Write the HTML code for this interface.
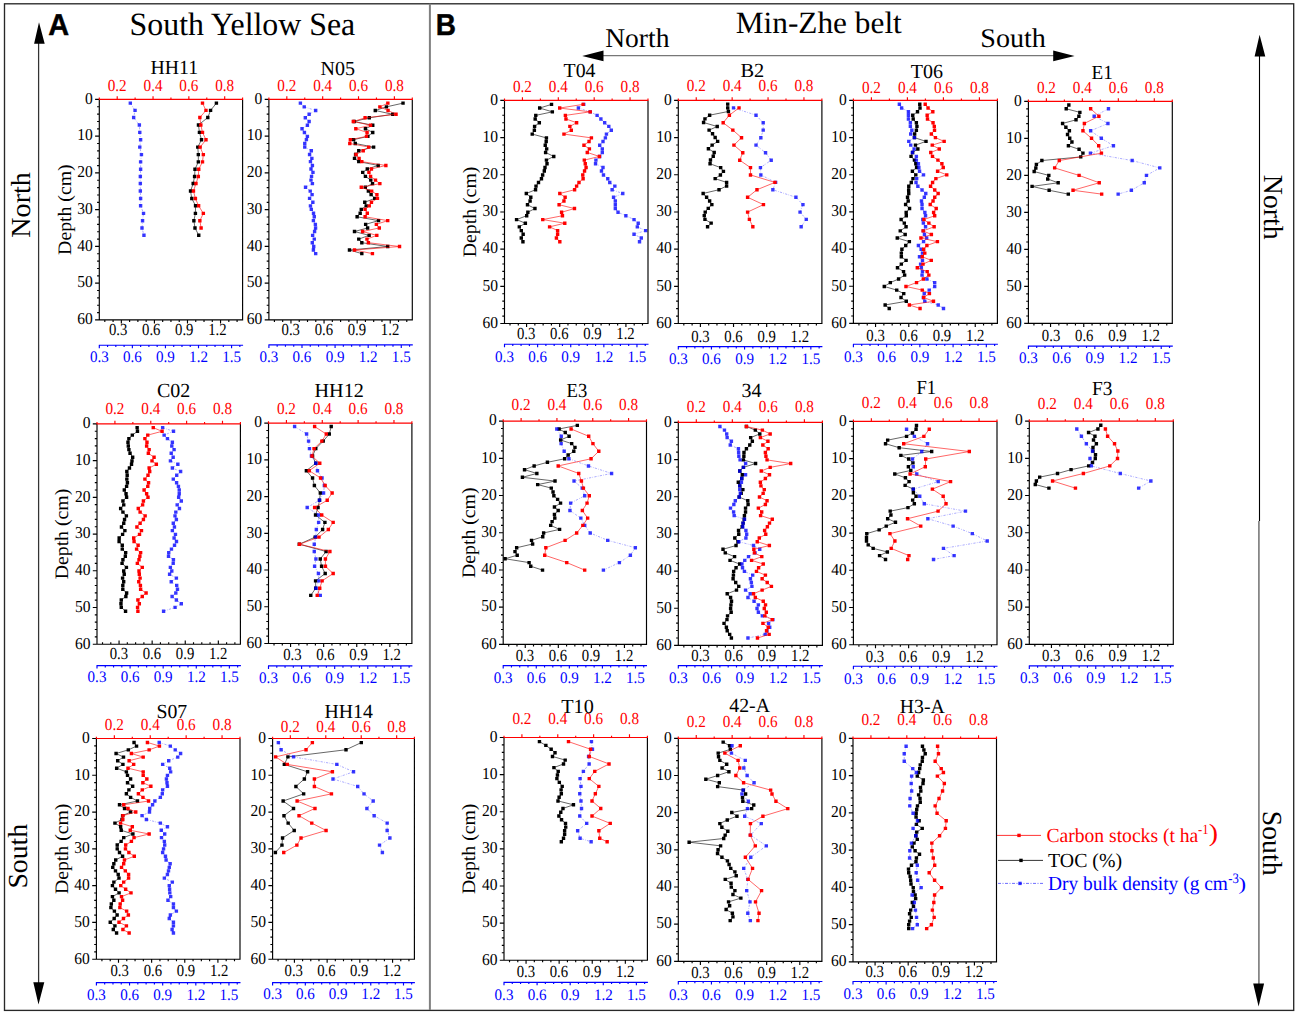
<!DOCTYPE html>
<html><head><meta charset="utf-8"><style>html,body{margin:0;padding:0;background:#fff;}svg{display:block;}</style></head><body>
<svg width="1299" height="1014" viewBox="0 0 1299 1014">
<style>
text{font-family:"Liberation Serif",serif;text-anchor:middle;fill:#000;text-rendering:geometricPrecision}
.n{font-size:16px}.e{text-anchor:end}.r{fill:#f00}.b{fill:#00f}
.s{text-anchor:start}
.L{font-family:"Liberation Sans",sans-serif;font-weight:bold;text-anchor:start}
.g{font-size:20px;text-anchor:start}
</style>
<rect x="0" y="0" width="1299" height="1014" fill="#fff"/>
<rect x="4.5" y="3.8" width="1289.2" height="1006.6" fill="none" stroke="#282828" stroke-width="1.35"/>
<path d="M429.9 3.8V1010.1" stroke="#808080" stroke-width="2"/>
<path d="M216.41 103.17 L210.57 110.4 L207.79 117.5 L198.47 125.01 L199.44 132.38 L201.53 139.75 L197.77 147.12 L198.33 154.63 L198.33 161.87 L194.99 169.24 L194.58 176.47 L193.18 183.56 L190.54 191.07 L191.79 198.44 L195.55 205.82 L195.41 213.33 L193.88 220.7 L194.99 227.93 L198.75 235.3" fill="none" stroke="#000" stroke-width="0.6"/>
<path fill="#000" d="M214.71 101.47h3.4v3.4h-3.4zM208.87 108.7h3.4v3.4h-3.4zM206.09 115.8h3.4v3.4h-3.4zM196.77 123.31h3.4v3.4h-3.4zM197.74 130.68h3.4v3.4h-3.4zM199.83 138.05h3.4v3.4h-3.4zM196.07 145.42h3.4v3.4h-3.4zM196.63 152.93h3.4v3.4h-3.4zM196.63 160.17h3.4v3.4h-3.4zM193.29 167.54h3.4v3.4h-3.4zM192.88 174.77h3.4v3.4h-3.4zM191.48 181.86h3.4v3.4h-3.4zM188.84 189.37h3.4v3.4h-3.4zM190.09 196.74h3.4v3.4h-3.4zM193.85 204.12h3.4v3.4h-3.4zM193.71 211.63h3.4v3.4h-3.4zM192.18 219h3.4v3.4h-3.4zM193.29 226.23h3.4v3.4h-3.4zM197.05 233.6h3.4v3.4h-3.4z"/>
<path d="M130.32 103.17 L135.05 110.4 L133.66 117.5 L139.36 125.01 L139.78 132.38 L140.61 139.75 L139.78 147.12 L141.45 154.63 L140.61 161.87 L140.61 169.24 L140.33 176.47 L140.33 183.56 L140.33 191.07 L140.61 198.44 L140.61 205.82 L143.53 213.33 L142.56 220.7 L142 227.93 L143.95 235.3" fill="none" stroke="#00f" stroke-width="0.6" stroke-dasharray="2.2,1.3,0.7,1.3" stroke-opacity="0.55"/>
<path fill="#00f" fill-opacity="0.78" d="M128.62 101.47h3.4v3.4h-3.4zM133.35 108.7h3.4v3.4h-3.4zM131.96 115.8h3.4v3.4h-3.4zM137.66 123.31h3.4v3.4h-3.4zM138.08 130.68h3.4v3.4h-3.4zM138.91 138.05h3.4v3.4h-3.4zM138.08 145.42h3.4v3.4h-3.4zM139.75 152.93h3.4v3.4h-3.4zM138.91 160.17h3.4v3.4h-3.4zM138.91 167.54h3.4v3.4h-3.4zM138.63 174.77h3.4v3.4h-3.4zM138.63 181.86h3.4v3.4h-3.4zM138.63 189.37h3.4v3.4h-3.4zM138.91 196.74h3.4v3.4h-3.4zM138.91 204.12h3.4v3.4h-3.4zM141.83 211.63h3.4v3.4h-3.4zM140.86 219h3.4v3.4h-3.4zM140.3 226.23h3.4v3.4h-3.4zM142.25 233.6h3.4v3.4h-3.4z"/>
<path d="M202.5 103.17 L205.98 110.4 L199.86 117.5 L200.83 125.01 L202.5 132.38 L205.98 139.75 L200.14 147.12 L203.34 154.63 L202.5 161.87 L198.75 169.24 L198.33 176.47 L195.97 183.56 L193.46 191.07 L195.41 198.44 L198.61 205.82 L203.34 213.33 L199.86 220.7 L201.11 227.93" fill="none" stroke="#f00" stroke-width="0.6"/>
<path fill="#f00" d="M200.8 101.47h3.4v3.4h-3.4zM204.28 108.7h3.4v3.4h-3.4zM198.16 115.8h3.4v3.4h-3.4zM199.13 123.31h3.4v3.4h-3.4zM200.8 130.68h3.4v3.4h-3.4zM204.28 138.05h3.4v3.4h-3.4zM198.44 145.42h3.4v3.4h-3.4zM201.64 152.93h3.4v3.4h-3.4zM200.8 160.17h3.4v3.4h-3.4zM197.05 167.54h3.4v3.4h-3.4zM196.63 174.77h3.4v3.4h-3.4zM194.27 181.86h3.4v3.4h-3.4zM191.76 189.37h3.4v3.4h-3.4zM193.71 196.74h3.4v3.4h-3.4zM196.91 204.12h3.4v3.4h-3.4zM201.64 211.63h3.4v3.4h-3.4zM198.16 219h3.4v3.4h-3.4zM199.41 226.23h3.4v3.4h-3.4z"/>
<path d="M99.3 99.4V319.9M242.6 99.4V319.9M98.7 319.9H243.2M95.1 99.4h4.2M97.1 106.75h2.2M97.1 114.1h2.2M97.1 121.45h2.2M97.1 128.8h2.2M95.1 136.15h4.2M97.1 143.5h2.2M97.1 150.85h2.2M97.1 158.2h2.2M97.1 165.55h2.2M95.1 172.9h4.2M97.1 180.25h2.2M97.1 187.6h2.2M97.1 194.95h2.2M97.1 202.3h2.2M95.1 209.65h4.2M97.1 217h2.2M97.1 224.35h2.2M97.1 231.7h2.2M97.1 239.05h2.2M95.1 246.4h4.2M97.1 253.75h2.2M97.1 261.1h2.2M97.1 268.45h2.2M97.1 275.8h2.2M95.1 283.15h4.2M97.1 290.5h2.2M97.1 297.85h2.2M97.1 305.2h2.2M97.1 312.55h2.2M95.1 319.9h4.2M104.81 319.9v2M113.08 319.9v2M121.35 319.9v3.6M129.61 319.9v2M137.88 319.9v2M146.15 319.9v2M154.42 319.9v3.6M162.68 319.9v2M170.95 319.9v2M179.22 319.9v2M187.48 319.9v3.6M195.75 319.9v2M204.02 319.9v2M212.29 319.9v2M220.55 319.9v3.6M228.82 319.9v2M237.09 319.9v2" fill="none" stroke="#000" stroke-width="1.15"/>
<path d="M98.8 99.4H243.1M99.3 99.4v-1.8M117.21 99.4v-3.2M135.12 99.4v-1.8M153.04 99.4v-3.2M170.95 99.4v-1.8M188.86 99.4v-3.2M206.77 99.4v-1.8M224.69 99.4v-3.2M242.6 99.4v-1.8" fill="none" stroke="#f00" stroke-width="1.15"/>
<path d="M98.8 345.2H243.1M99.3 345.2v3.0M107.57 345.2v1.8M115.83 345.2v1.8M124.1 345.2v1.8M132.37 345.2v3.0M140.64 345.2v1.8M148.9 345.2v1.8M157.17 345.2v1.8M165.44 345.2v3.0M173.71 345.2v1.8M181.97 345.2v1.8M190.24 345.2v1.8M198.51 345.2v3.0M206.77 345.2v1.8M215.04 345.2v1.8M223.31 345.2v1.8M231.58 345.2v3.0M239.84 345.2v1.8" fill="none" stroke="#00f" stroke-width="1.15"/>
<text transform="translate(92.75 103.7) scale(0.97 1.04)" class="n e">0</text>
<text transform="translate(92.75 140.45) scale(0.97 1.04)" class="n e">10</text>
<text transform="translate(92.75 177.2) scale(0.97 1.04)" class="n e">20</text>
<text transform="translate(92.75 213.95) scale(0.97 1.04)" class="n e">30</text>
<text transform="translate(92.75 250.7) scale(0.97 1.04)" class="n e">40</text>
<text transform="translate(92.75 287.45) scale(0.97 1.04)" class="n e">50</text>
<text transform="translate(92.75 324.2) scale(0.97 1.04)" class="n e">60</text>
<text transform="translate(117.21 90.6) scale(0.95 1.05)" class="n r">0.2</text>
<text transform="translate(153.04 90.6) scale(0.95 1.05)" class="n r">0.4</text>
<text transform="translate(188.86 90.6) scale(0.95 1.05)" class="n r">0.6</text>
<text transform="translate(224.69 90.6) scale(0.95 1.05)" class="n r">0.8</text>
<text transform="translate(118.15 335.4) scale(0.92 1.06)" class="n">0.3</text>
<text transform="translate(151.22 335.4) scale(0.92 1.06)" class="n">0.6</text>
<text transform="translate(184.28 335.4) scale(0.92 1.06)" class="n">0.9</text>
<text transform="translate(217.35 335.4) scale(0.92 1.06)" class="n">1.2</text>
<text transform="translate(99.3 362.45) scale(0.94 1)" class="n b">0.3</text>
<text transform="translate(132.37 362.45) scale(0.94 1)" class="n b">0.6</text>
<text transform="translate(165.44 362.45) scale(0.94 1)" class="n b">0.9</text>
<text transform="translate(198.51 362.45) scale(0.94 1)" class="n b">1.2</text>
<text transform="translate(231.58 362.45) scale(0.94 1)" class="n b">1.5</text>
<text transform="translate(150.4 74.2) scale(0.99 1)" class="s" font-size="20">HH11</text>
<text transform="translate(70.6 254.89) rotate(-90) scale(1.04 1)" class="s" font-size="19">Depth (cm)</text>
<path d="M403.03 103.15 L386.42 106.87 L375.27 110.48 L392.76 114.3 L369.26 117.8 L354.17 121.52 L372.75 125.24 L365.43 128.73 L372.75 132.45 L367.84 136.39 L353.62 139.66 L355.26 143.49 L373.63 147.1 L358.76 150.71 L355.59 154.53 L354.5 158.36 L358.76 161.64 L378.22 165.46 L367.29 168.96 L362.7 172.4 L365.43 176.34 L370.79 180.17 L372.54 183.66 L365.32 187.27 L368.38 191.1 L371.11 194.6 L374.72 198.42 L364.77 202.25 L366.2 205.85 L361.28 209.35 L360.18 213.18 L357.12 216.79 L378.55 220.61 L365.65 224.33 L367.62 227.94 L354.5 231.54 L369.15 235.37 L358.76 239.09 L361.82 242.69 L387.73 246.52 L349.47 250.02 L361.82 253.62" fill="none" stroke="#000" stroke-width="0.6"/>
<path fill="#000" d="M401.33 101.45h3.4v3.4h-3.4zM384.72 105.17h3.4v3.4h-3.4zM373.57 108.78h3.4v3.4h-3.4zM391.06 112.6h3.4v3.4h-3.4zM367.56 116.1h3.4v3.4h-3.4zM352.47 119.82h3.4v3.4h-3.4zM371.05 123.54h3.4v3.4h-3.4zM363.73 127.03h3.4v3.4h-3.4zM371.05 130.75h3.4v3.4h-3.4zM366.14 134.69h3.4v3.4h-3.4zM351.92 137.96h3.4v3.4h-3.4zM353.56 141.79h3.4v3.4h-3.4zM371.93 145.4h3.4v3.4h-3.4zM357.06 149.01h3.4v3.4h-3.4zM353.89 152.83h3.4v3.4h-3.4zM352.8 156.66h3.4v3.4h-3.4zM357.06 159.94h3.4v3.4h-3.4zM376.52 163.76h3.4v3.4h-3.4zM365.59 167.26h3.4v3.4h-3.4zM361 170.7h3.4v3.4h-3.4zM363.73 174.64h3.4v3.4h-3.4zM369.09 178.47h3.4v3.4h-3.4zM370.84 181.96h3.4v3.4h-3.4zM363.62 185.57h3.4v3.4h-3.4zM366.68 189.4h3.4v3.4h-3.4zM369.41 192.9h3.4v3.4h-3.4zM373.02 196.72h3.4v3.4h-3.4zM363.07 200.55h3.4v3.4h-3.4zM364.5 204.15h3.4v3.4h-3.4zM359.58 207.65h3.4v3.4h-3.4zM358.48 211.48h3.4v3.4h-3.4zM355.42 215.09h3.4v3.4h-3.4zM376.85 218.91h3.4v3.4h-3.4zM363.95 222.63h3.4v3.4h-3.4zM365.92 226.24h3.4v3.4h-3.4zM352.8 229.84h3.4v3.4h-3.4zM367.45 233.67h3.4v3.4h-3.4zM357.06 237.39h3.4v3.4h-3.4zM360.12 240.99h3.4v3.4h-3.4zM386.03 244.82h3.4v3.4h-3.4zM347.77 248.32h3.4v3.4h-3.4zM360.12 251.92h3.4v3.4h-3.4z"/>
<path d="M300.39 103.15 L304.22 106.87 L315.69 110.48 L309.13 114.3 L305.31 117.8 L309.13 121.52 L307.39 125.24 L302.03 128.73 L304.43 132.45 L307.39 136.39 L306.4 139.66 L304.76 143.49 L304.76 147.1 L311.32 150.71 L309.57 154.53 L311.87 158.36 L310.45 161.64 L312.41 165.46 L310.99 168.96 L312.96 172.4 L311.54 176.34 L310.99 180.17 L312.41 183.66 L305.53 187.27 L310.23 191.1 L312.09 194.6 L309.57 198.42 L312.85 202.25 L310.45 205.85 L311.32 209.35 L313.51 213.18 L314.27 216.79 L313.4 220.61 L315.37 224.33 L315.58 227.94 L314.6 231.54 L312.63 235.37 L314.27 239.09 L312.3 242.69 L313.73 246.52 L313.4 250.02 L315.69 253.62" fill="none" stroke="#00f" stroke-width="0.6" stroke-dasharray="2.2,1.3,0.7,1.3" stroke-opacity="0.55"/>
<path fill="#00f" fill-opacity="0.78" d="M298.69 101.45h3.4v3.4h-3.4zM302.52 105.17h3.4v3.4h-3.4zM313.99 108.78h3.4v3.4h-3.4zM307.43 112.6h3.4v3.4h-3.4zM303.61 116.1h3.4v3.4h-3.4zM307.43 119.82h3.4v3.4h-3.4zM305.69 123.54h3.4v3.4h-3.4zM300.33 127.03h3.4v3.4h-3.4zM302.73 130.75h3.4v3.4h-3.4zM305.69 134.69h3.4v3.4h-3.4zM304.7 137.96h3.4v3.4h-3.4zM303.06 141.79h3.4v3.4h-3.4zM303.06 145.4h3.4v3.4h-3.4zM309.62 149.01h3.4v3.4h-3.4zM307.87 152.83h3.4v3.4h-3.4zM310.17 156.66h3.4v3.4h-3.4zM308.75 159.94h3.4v3.4h-3.4zM310.71 163.76h3.4v3.4h-3.4zM309.29 167.26h3.4v3.4h-3.4zM311.26 170.7h3.4v3.4h-3.4zM309.84 174.64h3.4v3.4h-3.4zM309.29 178.47h3.4v3.4h-3.4zM310.71 181.96h3.4v3.4h-3.4zM303.83 185.57h3.4v3.4h-3.4zM308.53 189.4h3.4v3.4h-3.4zM310.39 192.9h3.4v3.4h-3.4zM307.87 196.72h3.4v3.4h-3.4zM311.15 200.55h3.4v3.4h-3.4zM308.75 204.15h3.4v3.4h-3.4zM309.62 207.65h3.4v3.4h-3.4zM311.81 211.48h3.4v3.4h-3.4zM312.57 215.09h3.4v3.4h-3.4zM311.7 218.91h3.4v3.4h-3.4zM313.67 222.63h3.4v3.4h-3.4zM313.88 226.24h3.4v3.4h-3.4zM312.9 229.84h3.4v3.4h-3.4zM310.93 233.67h3.4v3.4h-3.4zM312.57 237.39h3.4v3.4h-3.4zM310.6 240.99h3.4v3.4h-3.4zM312.03 244.82h3.4v3.4h-3.4zM311.7 248.32h3.4v3.4h-3.4zM313.99 251.92h3.4v3.4h-3.4z"/>
<path d="M387.84 103.15 L379.86 106.87 L388.06 110.48 L396.04 114.3 L365.1 117.8 L353.3 121.52 L370.57 125.24 L355.81 128.73 L367.07 132.45 L366.52 136.39 L350.35 139.66 L349.8 143.49 L368.71 147.1 L363.24 150.71 L356.03 154.53 L359.09 158.36 L361.82 161.64 L385.87 165.46 L371.44 168.96 L368.93 172.4 L370.57 176.34 L375.49 180.17 L379.86 183.66 L361.28 187.27 L371.66 191.1 L376.91 194.6 L377.46 198.42 L371.44 202.25 L369.26 205.85 L365.1 209.35 L367.29 213.18 L365.1 216.79 L387.73 220.61 L376.36 224.33 L379.31 227.94 L362.59 231.54 L376.8 235.37 L366.96 239.09 L368.38 242.69 L399.54 246.52 L354.5 250.02 L372.43 253.62" fill="none" stroke="#f00" stroke-width="0.6"/>
<path fill="#f00" d="M386.14 101.45h3.4v3.4h-3.4zM378.16 105.17h3.4v3.4h-3.4zM386.36 108.78h3.4v3.4h-3.4zM394.34 112.6h3.4v3.4h-3.4zM363.4 116.1h3.4v3.4h-3.4zM351.6 119.82h3.4v3.4h-3.4zM368.87 123.54h3.4v3.4h-3.4zM354.11 127.03h3.4v3.4h-3.4zM365.37 130.75h3.4v3.4h-3.4zM364.82 134.69h3.4v3.4h-3.4zM348.65 137.96h3.4v3.4h-3.4zM348.1 141.79h3.4v3.4h-3.4zM367.01 145.4h3.4v3.4h-3.4zM361.54 149.01h3.4v3.4h-3.4zM354.33 152.83h3.4v3.4h-3.4zM357.39 156.66h3.4v3.4h-3.4zM360.12 159.94h3.4v3.4h-3.4zM384.17 163.76h3.4v3.4h-3.4zM369.74 167.26h3.4v3.4h-3.4zM367.23 170.7h3.4v3.4h-3.4zM368.87 174.64h3.4v3.4h-3.4zM373.79 178.47h3.4v3.4h-3.4zM378.16 181.96h3.4v3.4h-3.4zM359.58 185.57h3.4v3.4h-3.4zM369.96 189.4h3.4v3.4h-3.4zM375.21 192.9h3.4v3.4h-3.4zM375.76 196.72h3.4v3.4h-3.4zM369.74 200.55h3.4v3.4h-3.4zM367.56 204.15h3.4v3.4h-3.4zM363.4 207.65h3.4v3.4h-3.4zM365.59 211.48h3.4v3.4h-3.4zM363.4 215.09h3.4v3.4h-3.4zM386.03 218.91h3.4v3.4h-3.4zM374.66 222.63h3.4v3.4h-3.4zM377.61 226.24h3.4v3.4h-3.4zM360.89 229.84h3.4v3.4h-3.4zM375.1 233.67h3.4v3.4h-3.4zM365.26 237.39h3.4v3.4h-3.4zM366.68 240.99h3.4v3.4h-3.4zM397.84 244.82h3.4v3.4h-3.4zM352.8 248.32h3.4v3.4h-3.4zM370.73 251.92h3.4v3.4h-3.4z"/>
<path d="M268.9 99.4V319.9M412.3 99.4V319.9M268.3 319.9H412.9M264.7 99.4h4.2M266.7 106.75h2.2M266.7 114.1h2.2M266.7 121.45h2.2M266.7 128.8h2.2M264.7 136.15h4.2M266.7 143.5h2.2M266.7 150.85h2.2M266.7 158.2h2.2M266.7 165.55h2.2M264.7 172.9h4.2M266.7 180.25h2.2M266.7 187.6h2.2M266.7 194.95h2.2M266.7 202.3h2.2M264.7 209.65h4.2M266.7 217h2.2M266.7 224.35h2.2M266.7 231.7h2.2M266.7 239.05h2.2M264.7 246.4h4.2M266.7 253.75h2.2M266.7 261.1h2.2M266.7 268.45h2.2M266.7 275.8h2.2M264.7 283.15h4.2M266.7 290.5h2.2M266.7 297.85h2.2M266.7 305.2h2.2M266.7 312.55h2.2M264.7 319.9h4.2M274.42 319.9v2M282.69 319.9v2M290.96 319.9v3.6M299.23 319.9v2M307.51 319.9v2M315.78 319.9v2M324.05 319.9v3.6M332.33 319.9v2M340.6 319.9v2M348.87 319.9v2M357.15 319.9v3.6M365.42 319.9v2M373.69 319.9v2M381.97 319.9v2M390.24 319.9v3.6M398.51 319.9v2M406.78 319.9v2" fill="none" stroke="#000" stroke-width="1.15"/>
<path d="M268.4 99.4H412.8M268.9 99.4v-1.8M286.82 99.4v-3.2M304.75 99.4v-1.8M322.68 99.4v-3.2M340.6 99.4v-1.8M358.52 99.4v-3.2M376.45 99.4v-1.8M394.38 99.4v-3.2M412.3 99.4v-1.8" fill="none" stroke="#f00" stroke-width="1.15"/>
<path d="M268.4 344.9H412.8M268.9 344.9v3.0M277.17 344.9v1.8M285.45 344.9v1.8M293.72 344.9v1.8M301.99 344.9v3.0M310.27 344.9v1.8M318.54 344.9v1.8M326.81 344.9v1.8M335.08 344.9v3.0M343.36 344.9v1.8M351.63 344.9v1.8M359.9 344.9v1.8M368.18 344.9v3.0M376.45 344.9v1.8M384.72 344.9v1.8M393 344.9v1.8M401.27 344.9v3.0M409.54 344.9v1.8" fill="none" stroke="#00f" stroke-width="1.15"/>
<text transform="translate(262.35 103.7) scale(0.97 1.04)" class="n e">0</text>
<text transform="translate(262.35 140.45) scale(0.97 1.04)" class="n e">10</text>
<text transform="translate(262.35 177.2) scale(0.97 1.04)" class="n e">20</text>
<text transform="translate(262.35 213.95) scale(0.97 1.04)" class="n e">30</text>
<text transform="translate(262.35 250.7) scale(0.97 1.04)" class="n e">40</text>
<text transform="translate(262.35 287.45) scale(0.97 1.04)" class="n e">50</text>
<text transform="translate(262.35 324.2) scale(0.97 1.04)" class="n e">60</text>
<text transform="translate(286.82 91.4) scale(0.95 1.05)" class="n r">0.2</text>
<text transform="translate(322.68 91.4) scale(0.95 1.05)" class="n r">0.4</text>
<text transform="translate(358.52 91.4) scale(0.95 1.05)" class="n r">0.6</text>
<text transform="translate(394.38 91.4) scale(0.95 1.05)" class="n r">0.8</text>
<text transform="translate(290.76 335) scale(0.92 1.06)" class="n">0.3</text>
<text transform="translate(323.85 335) scale(0.92 1.06)" class="n">0.6</text>
<text transform="translate(356.95 335) scale(0.92 1.06)" class="n">0.9</text>
<text transform="translate(390.04 335) scale(0.92 1.06)" class="n">1.2</text>
<text transform="translate(268.9 362.15) scale(0.94 1)" class="n b">0.3</text>
<text transform="translate(301.99 362.15) scale(0.94 1)" class="n b">0.6</text>
<text transform="translate(335.08 362.15) scale(0.94 1)" class="n b">0.9</text>
<text transform="translate(368.18 362.15) scale(0.94 1)" class="n b">1.2</text>
<text transform="translate(401.27 362.15) scale(0.94 1)" class="n b">1.5</text>
<text transform="translate(320.5 74.6) scale(1 1)" class="s" font-size="20">N05</text>
<path d="M137.13 427.66 L137.47 431.32 L132.32 435.1 L128.89 438.65 L127.98 442.31 L128.32 445.97 L128.89 449.63 L130.04 453.29 L132.67 457.18 L131.98 460.84 L131.52 464.27 L129.46 468.05 L126.83 471.48 L127.18 475.26 L126.83 479.15 L127.41 482.81 L126.6 486.36 L124.32 490.02 L126.03 493.68 L126.6 497.23 L122.94 501 L123.74 504.89 L120.65 508.44 L122.94 512.1 L126.38 515.88 L124.54 519.54 L123.74 523.31 L121.46 526.97 L124.89 530.64 L122.6 534.41 L119.17 538.07 L119.1 541.48 L122.27 545.3 L122.27 549.13 L125.66 552.63 L125.33 556.24 L122.92 559.73 L122.05 563.34 L126.42 567.39 L123.69 570.99 L124.24 574.27 L122.6 578.1 L123.69 581.71 L122.81 585.42 L122.81 589.25 L126.64 593.07 L125.87 596.46 L121.28 599.96 L120.96 603.79 L121.28 607.39 L125.55 611.22" fill="none" stroke="#000" stroke-width="0.6"/>
<path fill="#000" d="M135.43 425.96h3.4v3.4h-3.4zM135.77 429.62h3.4v3.4h-3.4zM130.62 433.4h3.4v3.4h-3.4zM127.19 436.95h3.4v3.4h-3.4zM126.28 440.61h3.4v3.4h-3.4zM126.62 444.27h3.4v3.4h-3.4zM127.19 447.93h3.4v3.4h-3.4zM128.34 451.59h3.4v3.4h-3.4zM130.97 455.48h3.4v3.4h-3.4zM130.28 459.14h3.4v3.4h-3.4zM129.82 462.57h3.4v3.4h-3.4zM127.76 466.35h3.4v3.4h-3.4zM125.13 469.78h3.4v3.4h-3.4zM125.48 473.56h3.4v3.4h-3.4zM125.13 477.45h3.4v3.4h-3.4zM125.71 481.11h3.4v3.4h-3.4zM124.9 484.66h3.4v3.4h-3.4zM122.62 488.32h3.4v3.4h-3.4zM124.33 491.98h3.4v3.4h-3.4zM124.9 495.53h3.4v3.4h-3.4zM121.24 499.3h3.4v3.4h-3.4zM122.04 503.19h3.4v3.4h-3.4zM118.95 506.74h3.4v3.4h-3.4zM121.24 510.4h3.4v3.4h-3.4zM124.68 514.18h3.4v3.4h-3.4zM122.84 517.84h3.4v3.4h-3.4zM122.04 521.61h3.4v3.4h-3.4zM119.76 525.27h3.4v3.4h-3.4zM123.19 528.94h3.4v3.4h-3.4zM120.9 532.71h3.4v3.4h-3.4zM117.47 536.37h3.4v3.4h-3.4zM117.4 539.78h3.4v3.4h-3.4zM120.57 543.6h3.4v3.4h-3.4zM120.57 547.43h3.4v3.4h-3.4zM123.96 550.93h3.4v3.4h-3.4zM123.63 554.54h3.4v3.4h-3.4zM121.22 558.03h3.4v3.4h-3.4zM120.35 561.64h3.4v3.4h-3.4zM124.72 565.69h3.4v3.4h-3.4zM121.99 569.29h3.4v3.4h-3.4zM122.54 572.57h3.4v3.4h-3.4zM120.9 576.4h3.4v3.4h-3.4zM121.99 580.01h3.4v3.4h-3.4zM121.11 583.72h3.4v3.4h-3.4zM121.11 587.55h3.4v3.4h-3.4zM124.94 591.37h3.4v3.4h-3.4zM124.17 594.76h3.4v3.4h-3.4zM119.58 598.26h3.4v3.4h-3.4zM119.26 602.09h3.4v3.4h-3.4zM119.58 605.69h3.4v3.4h-3.4zM123.85 609.52h3.4v3.4h-3.4z"/>
<path d="M162.65 427.66 L173.51 431.32 L164.13 435.1 L167.45 438.65 L172.37 442.31 L171.8 445.97 L174.09 449.63 L171.23 453.29 L173.17 457.18 L170.43 460.84 L177.86 464.27 L172.37 468.05 L180.61 471.48 L176.72 475.26 L173.29 479.15 L176.6 482.81 L178.43 486.36 L179.24 490.02 L179.24 493.68 L178.66 497.23 L181.3 501 L177.18 504.89 L179.46 508.44 L175.8 512.1 L175 515.88 L176.38 519.54 L173.29 523.31 L174.43 526.97 L172.37 530.64 L175.46 534.41 L174.09 538.07 L176.49 541.48 L174.52 545.3 L171.46 549.13 L168.73 552.63 L168.51 556.24 L173.43 559.73 L173.21 563.34 L170.37 567.39 L171.79 570.99 L169.6 574.27 L176.38 578.1 L171.24 581.71 L176.71 585.42 L177.47 589.25 L175.83 593.07 L172.11 596.46 L176.38 599.96 L181.3 603.79 L175.07 607.39 L163.59 611.22" fill="none" stroke="#00f" stroke-width="0.6" stroke-dasharray="2.2,1.3,0.7,1.3" stroke-opacity="0.55"/>
<path fill="#00f" fill-opacity="0.78" d="M160.95 425.96h3.4v3.4h-3.4zM171.81 429.62h3.4v3.4h-3.4zM162.43 433.4h3.4v3.4h-3.4zM165.75 436.95h3.4v3.4h-3.4zM170.67 440.61h3.4v3.4h-3.4zM170.1 444.27h3.4v3.4h-3.4zM172.39 447.93h3.4v3.4h-3.4zM169.53 451.59h3.4v3.4h-3.4zM171.47 455.48h3.4v3.4h-3.4zM168.73 459.14h3.4v3.4h-3.4zM176.16 462.57h3.4v3.4h-3.4zM170.67 466.35h3.4v3.4h-3.4zM178.91 469.78h3.4v3.4h-3.4zM175.02 473.56h3.4v3.4h-3.4zM171.59 477.45h3.4v3.4h-3.4zM174.9 481.11h3.4v3.4h-3.4zM176.73 484.66h3.4v3.4h-3.4zM177.54 488.32h3.4v3.4h-3.4zM177.54 491.98h3.4v3.4h-3.4zM176.96 495.53h3.4v3.4h-3.4zM179.6 499.3h3.4v3.4h-3.4zM175.48 503.19h3.4v3.4h-3.4zM177.76 506.74h3.4v3.4h-3.4zM174.1 510.4h3.4v3.4h-3.4zM173.3 514.18h3.4v3.4h-3.4zM174.68 517.84h3.4v3.4h-3.4zM171.59 521.61h3.4v3.4h-3.4zM172.73 525.27h3.4v3.4h-3.4zM170.67 528.94h3.4v3.4h-3.4zM173.76 532.71h3.4v3.4h-3.4zM172.39 536.37h3.4v3.4h-3.4zM174.79 539.78h3.4v3.4h-3.4zM172.82 543.6h3.4v3.4h-3.4zM169.76 547.43h3.4v3.4h-3.4zM167.03 550.93h3.4v3.4h-3.4zM166.81 554.54h3.4v3.4h-3.4zM171.73 558.03h3.4v3.4h-3.4zM171.51 561.64h3.4v3.4h-3.4zM168.67 565.69h3.4v3.4h-3.4zM170.09 569.29h3.4v3.4h-3.4zM167.9 572.57h3.4v3.4h-3.4zM174.68 576.4h3.4v3.4h-3.4zM169.54 580.01h3.4v3.4h-3.4zM175.01 583.72h3.4v3.4h-3.4zM175.77 587.55h3.4v3.4h-3.4zM174.13 591.37h3.4v3.4h-3.4zM170.41 594.76h3.4v3.4h-3.4zM174.68 598.26h3.4v3.4h-3.4zM179.6 602.09h3.4v3.4h-3.4zM173.37 605.69h3.4v3.4h-3.4zM161.89 609.52h3.4v3.4h-3.4z"/>
<path d="M153.26 427.66 L162.07 431.32 L147.77 435.1 L144.91 438.65 L146.97 442.31 L146.63 445.97 L149.14 449.63 L148.34 453.29 L154.06 457.18 L152 460.84 L156.35 464.27 L149.14 468.05 L149.72 471.48 L148 475.26 L144.91 479.15 L148.57 482.81 L147.77 486.36 L144.11 490.02 L146.63 493.68 L148 497.23 L143.42 501 L142.62 504.89 L138.27 508.44 L140.11 512.1 L145.14 515.88 L143.42 519.54 L140.11 523.31 L136.9 526.97 L141.48 530.64 L139.53 534.41 L133.7 538.07 L134.07 541.48 L138.12 545.3 L136.59 549.13 L140.63 552.63 L139.87 556.24 L138.99 559.73 L137.35 563.34 L142.27 567.39 L138.99 570.99 L139.32 574.27 L140.09 578.1 L138.77 581.71 L140.41 585.42 L140.63 589.25 L146.1 593.07 L142.27 596.46 L137.9 599.96 L139.32 603.79 L137.57 607.39 L137.9 611.22" fill="none" stroke="#f00" stroke-width="0.6"/>
<path fill="#f00" d="M151.56 425.96h3.4v3.4h-3.4zM160.37 429.62h3.4v3.4h-3.4zM146.07 433.4h3.4v3.4h-3.4zM143.21 436.95h3.4v3.4h-3.4zM145.27 440.61h3.4v3.4h-3.4zM144.93 444.27h3.4v3.4h-3.4zM147.44 447.93h3.4v3.4h-3.4zM146.64 451.59h3.4v3.4h-3.4zM152.36 455.48h3.4v3.4h-3.4zM150.3 459.14h3.4v3.4h-3.4zM154.65 462.57h3.4v3.4h-3.4zM147.44 466.35h3.4v3.4h-3.4zM148.02 469.78h3.4v3.4h-3.4zM146.3 473.56h3.4v3.4h-3.4zM143.21 477.45h3.4v3.4h-3.4zM146.87 481.11h3.4v3.4h-3.4zM146.07 484.66h3.4v3.4h-3.4zM142.41 488.32h3.4v3.4h-3.4zM144.93 491.98h3.4v3.4h-3.4zM146.3 495.53h3.4v3.4h-3.4zM141.72 499.3h3.4v3.4h-3.4zM140.92 503.19h3.4v3.4h-3.4zM136.57 506.74h3.4v3.4h-3.4zM138.41 510.4h3.4v3.4h-3.4zM143.44 514.18h3.4v3.4h-3.4zM141.72 517.84h3.4v3.4h-3.4zM138.41 521.61h3.4v3.4h-3.4zM135.2 525.27h3.4v3.4h-3.4zM139.78 528.94h3.4v3.4h-3.4zM137.83 532.71h3.4v3.4h-3.4zM132 536.37h3.4v3.4h-3.4zM132.37 539.78h3.4v3.4h-3.4zM136.42 543.6h3.4v3.4h-3.4zM134.89 547.43h3.4v3.4h-3.4zM138.93 550.93h3.4v3.4h-3.4zM138.17 554.54h3.4v3.4h-3.4zM137.29 558.03h3.4v3.4h-3.4zM135.65 561.64h3.4v3.4h-3.4zM140.57 565.69h3.4v3.4h-3.4zM137.29 569.29h3.4v3.4h-3.4zM137.62 572.57h3.4v3.4h-3.4zM138.39 576.4h3.4v3.4h-3.4zM137.07 580.01h3.4v3.4h-3.4zM138.71 583.72h3.4v3.4h-3.4zM138.93 587.55h3.4v3.4h-3.4zM144.4 591.37h3.4v3.4h-3.4zM140.57 594.76h3.4v3.4h-3.4zM136.2 598.26h3.4v3.4h-3.4zM137.62 602.09h3.4v3.4h-3.4zM135.87 605.69h3.4v3.4h-3.4zM136.2 609.52h3.4v3.4h-3.4z"/>
<path d="M97 423.9V644.2M240.4 423.9V644.2M96.4 644.2H241M92.8 423.9h4.2M94.8 431.24h2.2M94.8 438.59h2.2M94.8 445.93h2.2M94.8 453.27h2.2M92.8 460.62h4.2M94.8 467.96h2.2M94.8 475.3h2.2M94.8 482.65h2.2M94.8 489.99h2.2M92.8 497.33h4.2M94.8 504.68h2.2M94.8 512.02h2.2M94.8 519.36h2.2M94.8 526.71h2.2M92.8 534.05h4.2M94.8 541.39h2.2M94.8 548.74h2.2M94.8 556.08h2.2M94.8 563.42h2.2M92.8 570.77h4.2M94.8 578.11h2.2M94.8 585.45h2.2M94.8 592.8h2.2M94.8 600.14h2.2M92.8 607.48h4.2M94.8 614.83h2.2M94.8 622.17h2.2M94.8 629.51h2.2M94.8 636.86h2.2M92.8 644.2h4.2M102.52 644.2v-2M110.79 644.2v-2M119.06 644.2v-3.6M127.33 644.2v-2M135.61 644.2v-2M143.88 644.2v-2M152.15 644.2v-3.6M160.43 644.2v-2M168.7 644.2v-2M176.97 644.2v-2M185.25 644.2v-3.6M193.52 644.2v-2M201.79 644.2v-2M210.07 644.2v-2M218.34 644.2v-3.6M226.61 644.2v-2M234.88 644.2v-2" fill="none" stroke="#000" stroke-width="1.15"/>
<path d="M96.5 423.9H240.9M97 423.9v-1.8M114.92 423.9v-3.2M132.85 423.9v-1.8M150.78 423.9v-3.2M168.7 423.9v-1.8M186.62 423.9v-3.2M204.55 423.9v-1.8M222.48 423.9v-3.2M240.4 423.9v-1.8" fill="none" stroke="#f00" stroke-width="1.15"/>
<path d="M96.5 665.6H240.9M97 665.6v3.0M105.27 665.6v1.8M113.55 665.6v1.8M121.82 665.6v1.8M130.09 665.6v3.0M138.37 665.6v1.8M146.64 665.6v1.8M154.91 665.6v1.8M163.18 665.6v3.0M171.46 665.6v1.8M179.73 665.6v1.8M188 665.6v1.8M196.28 665.6v3.0M204.55 665.6v1.8M212.82 665.6v1.8M221.1 665.6v1.8M229.37 665.6v3.0M237.64 665.6v1.8" fill="none" stroke="#00f" stroke-width="1.15"/>
<text transform="translate(90.45 428.2) scale(0.97 1.04)" class="n e">0</text>
<text transform="translate(90.45 464.92) scale(0.97 1.04)" class="n e">10</text>
<text transform="translate(90.45 501.63) scale(0.97 1.04)" class="n e">20</text>
<text transform="translate(90.45 538.35) scale(0.97 1.04)" class="n e">30</text>
<text transform="translate(90.45 575.07) scale(0.97 1.04)" class="n e">40</text>
<text transform="translate(90.45 611.78) scale(0.97 1.04)" class="n e">50</text>
<text transform="translate(90.45 648.5) scale(0.97 1.04)" class="n e">60</text>
<text transform="translate(114.92 413.6) scale(0.95 1.05)" class="n r">0.2</text>
<text transform="translate(150.78 413.6) scale(0.95 1.05)" class="n r">0.4</text>
<text transform="translate(186.62 413.6) scale(0.95 1.05)" class="n r">0.6</text>
<text transform="translate(222.48 413.6) scale(0.95 1.05)" class="n r">0.8</text>
<text transform="translate(118.86 659.3) scale(0.92 1.06)" class="n">0.3</text>
<text transform="translate(151.95 659.3) scale(0.92 1.06)" class="n">0.6</text>
<text transform="translate(185.05 659.3) scale(0.92 1.06)" class="n">0.9</text>
<text transform="translate(218.14 659.3) scale(0.92 1.06)" class="n">1.2</text>
<text transform="translate(97 682.25) scale(0.94 1)" class="n b">0.3</text>
<text transform="translate(130.09 682.25) scale(0.94 1)" class="n b">0.6</text>
<text transform="translate(163.18 682.25) scale(0.94 1)" class="n b">0.9</text>
<text transform="translate(196.28 682.25) scale(0.94 1)" class="n b">1.2</text>
<text transform="translate(229.37 682.25) scale(0.94 1)" class="n b">1.5</text>
<text transform="translate(156.9 396.7) scale(1 1)" class="s" font-size="20">C02</text>
<text transform="translate(68.3 579.29) rotate(-90) scale(1.04 1)" class="s" font-size="19">Depth (cm)</text>
<path d="M331.21 426.52 L329.27 434.07 L323.2 441.16 L315.77 448.6 L312.56 456.04 L315.77 463.24 L306.38 470.68 L312.56 478 L314.39 485.56 L320.34 492.99 L319.54 500.32 L318.05 507.52 L315.54 514.96 L324.92 522.4 L322.63 529.49 L315.15 537.11 L299.3 544.21 L326.08 551.53 L320.28 558.97 L321.6 566.29 L325.2 573.51 L315.58 580.83 L315.69 588.26 L310.77 595.37" fill="none" stroke="#000" stroke-width="0.6"/>
<path fill="#000" d="M329.51 424.82h3.4v3.4h-3.4zM327.57 432.37h3.4v3.4h-3.4zM321.5 439.46h3.4v3.4h-3.4zM314.07 446.9h3.4v3.4h-3.4zM310.86 454.34h3.4v3.4h-3.4zM314.07 461.54h3.4v3.4h-3.4zM304.68 468.98h3.4v3.4h-3.4zM310.86 476.3h3.4v3.4h-3.4zM312.69 483.86h3.4v3.4h-3.4zM318.64 491.29h3.4v3.4h-3.4zM317.84 498.62h3.4v3.4h-3.4zM316.35 505.82h3.4v3.4h-3.4zM313.84 513.26h3.4v3.4h-3.4zM323.22 520.7h3.4v3.4h-3.4zM320.93 527.79h3.4v3.4h-3.4zM313.45 535.41h3.4v3.4h-3.4zM297.6 542.51h3.4v3.4h-3.4zM324.38 549.83h3.4v3.4h-3.4zM318.58 557.27h3.4v3.4h-3.4zM319.9 564.59h3.4v3.4h-3.4zM323.5 571.81h3.4v3.4h-3.4zM313.88 579.13h3.4v3.4h-3.4zM313.99 586.56h3.4v3.4h-3.4zM309.07 593.67h3.4v3.4h-3.4z"/>
<path d="M294.6 426.52 L306.61 434.07 L308.56 441.16 L309.47 448.6 L311.42 456.04 L315.77 463.24 L317.48 470.68 L322.06 478 L324.35 485.56 L323.55 492.99 L319.43 500.32 L307.19 507.52 L318.63 514.96 L318.63 522.4 L316.34 529.49 L315.69 537.11 L314.27 544.21 L314.27 551.53 L315.91 558.97 L314.6 566.29 L318.43 573.51 L318.86 580.83 L315.91 588.26 L320.28 595.37" fill="none" stroke="#00f" stroke-width="0.6" stroke-dasharray="2.2,1.3,0.7,1.3" stroke-opacity="0.55"/>
<path fill="#00f" fill-opacity="0.78" d="M292.9 424.82h3.4v3.4h-3.4zM304.91 432.37h3.4v3.4h-3.4zM306.86 439.46h3.4v3.4h-3.4zM307.77 446.9h3.4v3.4h-3.4zM309.72 454.34h3.4v3.4h-3.4zM314.07 461.54h3.4v3.4h-3.4zM315.78 468.98h3.4v3.4h-3.4zM320.36 476.3h3.4v3.4h-3.4zM322.65 483.86h3.4v3.4h-3.4zM321.85 491.29h3.4v3.4h-3.4zM317.73 498.62h3.4v3.4h-3.4zM305.49 505.82h3.4v3.4h-3.4zM316.93 513.26h3.4v3.4h-3.4zM316.93 520.7h3.4v3.4h-3.4zM314.64 527.79h3.4v3.4h-3.4zM313.99 535.41h3.4v3.4h-3.4zM312.57 542.51h3.4v3.4h-3.4zM312.57 549.83h3.4v3.4h-3.4zM314.21 557.27h3.4v3.4h-3.4zM312.9 564.59h3.4v3.4h-3.4zM316.73 571.81h3.4v3.4h-3.4zM317.16 579.13h3.4v3.4h-3.4zM314.21 586.56h3.4v3.4h-3.4zM318.58 593.67h3.4v3.4h-3.4z"/>
<path d="M314.62 426.52 L326.29 434.07 L321.83 441.16 L314.05 448.6 L311.99 456.04 L319.77 463.24 L309.24 470.68 L320.57 478 L325.15 485.56 L332.13 492.99 L327.21 500.32 L314.62 507.52 L321.72 514.96 L333.16 522.4 L328.35 529.49 L318.97 537.11 L299.51 544.21 L329.9 551.53 L325.42 558.97 L325.42 566.29 L333.18 573.51 L322.14 580.83 L319.74 588.26 L317.22 595.37" fill="none" stroke="#f00" stroke-width="0.6"/>
<path fill="#f00" d="M312.92 424.82h3.4v3.4h-3.4zM324.59 432.37h3.4v3.4h-3.4zM320.13 439.46h3.4v3.4h-3.4zM312.35 446.9h3.4v3.4h-3.4zM310.29 454.34h3.4v3.4h-3.4zM318.07 461.54h3.4v3.4h-3.4zM307.54 468.98h3.4v3.4h-3.4zM318.87 476.3h3.4v3.4h-3.4zM323.45 483.86h3.4v3.4h-3.4zM330.43 491.29h3.4v3.4h-3.4zM325.51 498.62h3.4v3.4h-3.4zM312.92 505.82h3.4v3.4h-3.4zM320.02 513.26h3.4v3.4h-3.4zM331.46 520.7h3.4v3.4h-3.4zM326.65 527.79h3.4v3.4h-3.4zM317.27 535.41h3.4v3.4h-3.4zM297.81 542.51h3.4v3.4h-3.4zM328.2 549.83h3.4v3.4h-3.4zM323.72 557.27h3.4v3.4h-3.4zM323.72 564.59h3.4v3.4h-3.4zM331.48 571.81h3.4v3.4h-3.4zM320.44 579.13h3.4v3.4h-3.4zM318.04 586.56h3.4v3.4h-3.4zM315.52 593.67h3.4v3.4h-3.4z"/>
<path d="M268.5 423.1V643.5M411.9 423.1V643.5M267.9 643.5H412.5M264.3 423.1h4.2M266.3 430.45h2.2M266.3 437.79h2.2M266.3 445.14h2.2M266.3 452.49h2.2M264.3 459.83h4.2M266.3 467.18h2.2M266.3 474.53h2.2M266.3 481.87h2.2M266.3 489.22h2.2M264.3 496.57h4.2M266.3 503.91h2.2M266.3 511.26h2.2M266.3 518.61h2.2M266.3 525.95h2.2M264.3 533.3h4.2M266.3 540.65h2.2M266.3 547.99h2.2M266.3 555.34h2.2M266.3 562.69h2.2M264.3 570.03h4.2M266.3 577.38h2.2M266.3 584.73h2.2M266.3 592.07h2.2M266.3 599.42h2.2M264.3 606.77h4.2M266.3 614.11h2.2M266.3 621.46h2.2M266.3 628.81h2.2M266.3 636.15h2.2M264.3 643.5h4.2M274.02 643.5v2M282.29 643.5v2M290.56 643.5v3.6M298.83 643.5v2M307.11 643.5v2M315.38 643.5v2M323.65 643.5v3.6M331.93 643.5v2M340.2 643.5v2M348.47 643.5v2M356.75 643.5v3.6M365.02 643.5v2M373.29 643.5v2M381.57 643.5v2M389.84 643.5v3.6M398.11 643.5v2M406.38 643.5v2" fill="none" stroke="#000" stroke-width="1.15"/>
<path d="M268 423.1H412.4M268.5 423.1v-1.8M286.43 423.1v-3.2M304.35 423.1v-1.8M322.27 423.1v-3.2M340.2 423.1v-1.8M358.12 423.1v-3.2M376.05 423.1v-1.8M393.97 423.1v-3.2M411.9 423.1v-1.8" fill="none" stroke="#f00" stroke-width="1.15"/>
<path d="M268 665.9H412.4M268.5 665.9v3.0M276.77 665.9v1.8M285.05 665.9v1.8M293.32 665.9v1.8M301.59 665.9v3.0M309.87 665.9v1.8M318.14 665.9v1.8M326.41 665.9v1.8M334.68 665.9v3.0M342.96 665.9v1.8M351.23 665.9v1.8M359.5 665.9v1.8M367.78 665.9v3.0M376.05 665.9v1.8M384.32 665.9v1.8M392.6 665.9v1.8M400.87 665.9v3.0M409.14 665.9v1.8" fill="none" stroke="#00f" stroke-width="1.15"/>
<text transform="translate(261.95 427.4) scale(0.97 1.04)" class="n e">0</text>
<text transform="translate(261.95 464.13) scale(0.97 1.04)" class="n e">10</text>
<text transform="translate(261.95 500.87) scale(0.97 1.04)" class="n e">20</text>
<text transform="translate(261.95 537.6) scale(0.97 1.04)" class="n e">30</text>
<text transform="translate(261.95 574.33) scale(0.97 1.04)" class="n e">40</text>
<text transform="translate(261.95 611.07) scale(0.97 1.04)" class="n e">50</text>
<text transform="translate(261.95 647.8) scale(0.97 1.04)" class="n e">60</text>
<text transform="translate(286.43 414.1) scale(0.95 1.05)" class="n r">0.2</text>
<text transform="translate(322.27 414.1) scale(0.95 1.05)" class="n r">0.4</text>
<text transform="translate(358.12 414.1) scale(0.95 1.05)" class="n r">0.6</text>
<text transform="translate(393.97 414.1) scale(0.95 1.05)" class="n r">0.8</text>
<text transform="translate(292.36 660.3) scale(0.92 1.06)" class="n">0.3</text>
<text transform="translate(325.45 660.3) scale(0.92 1.06)" class="n">0.6</text>
<text transform="translate(358.55 660.3) scale(0.92 1.06)" class="n">0.9</text>
<text transform="translate(391.64 660.3) scale(0.92 1.06)" class="n">1.2</text>
<text transform="translate(268.5 683.05) scale(0.94 1)" class="n b">0.3</text>
<text transform="translate(301.59 683.05) scale(0.94 1)" class="n b">0.6</text>
<text transform="translate(334.68 683.05) scale(0.94 1)" class="n b">0.9</text>
<text transform="translate(367.78 683.05) scale(0.94 1)" class="n b">1.2</text>
<text transform="translate(400.87 683.05) scale(0.94 1)" class="n b">1.5</text>
<text transform="translate(314.49 396.7) scale(1.01 1)" class="s" font-size="20">HH12</text>
<path d="M134.04 742.43 L136.56 746.09 L128.32 749.87 L116.08 753.53 L123.51 757.08 L117.68 760.74 L122.94 764.4 L116.65 768.18 L126.38 771.84 L127.52 775.38 L130.61 779.05 L127.52 782.71 L132.67 786.25 L128.89 789.92 L126.38 793.69 L130.61 797.35 L137.47 801.01 L119.51 804.79 L124.54 808.45 L130.61 812 L122.6 815.66 L122.03 819.43 L114.93 823.1 L120.65 826.76 L121.23 830.3 L132.9 833.97 L123.74 837.63 L121.11 841.4 L117.22 845.06 L117.22 848.84 L119.51 852.5 L122.6 856.26 L115.71 859.98 L113.85 863.8 L112.76 867.41 L115.49 870.91 L118.22 874.51 L118.99 878.12 L113.85 882.17 L112.43 885.66 L115.49 889.27 L119.1 892.88 L112.43 896.6 L113.85 900.2 L111.34 904.03 L110.9 907.64 L114.4 911.13 L117.13 914.96 L114.18 918.57 L110.24 922.28 L114.94 925.89 L113.3 929.5 L116.58 933" fill="none" stroke="#000" stroke-width="0.6"/>
<path fill="#000" d="M132.34 740.73h3.4v3.4h-3.4zM134.86 744.39h3.4v3.4h-3.4zM126.62 748.17h3.4v3.4h-3.4zM114.38 751.83h3.4v3.4h-3.4zM121.81 755.38h3.4v3.4h-3.4zM115.98 759.04h3.4v3.4h-3.4zM121.24 762.7h3.4v3.4h-3.4zM114.95 766.48h3.4v3.4h-3.4zM124.68 770.14h3.4v3.4h-3.4zM125.82 773.68h3.4v3.4h-3.4zM128.91 777.35h3.4v3.4h-3.4zM125.82 781.01h3.4v3.4h-3.4zM130.97 784.55h3.4v3.4h-3.4zM127.19 788.22h3.4v3.4h-3.4zM124.68 791.99h3.4v3.4h-3.4zM128.91 795.65h3.4v3.4h-3.4zM135.77 799.31h3.4v3.4h-3.4zM117.81 803.09h3.4v3.4h-3.4zM122.84 806.75h3.4v3.4h-3.4zM128.91 810.3h3.4v3.4h-3.4zM120.9 813.96h3.4v3.4h-3.4zM120.33 817.73h3.4v3.4h-3.4zM113.23 821.4h3.4v3.4h-3.4zM118.95 825.06h3.4v3.4h-3.4zM119.53 828.6h3.4v3.4h-3.4zM131.2 832.27h3.4v3.4h-3.4zM122.04 835.93h3.4v3.4h-3.4zM119.41 839.7h3.4v3.4h-3.4zM115.52 843.36h3.4v3.4h-3.4zM115.52 847.14h3.4v3.4h-3.4zM117.81 850.8h3.4v3.4h-3.4zM120.9 854.56h3.4v3.4h-3.4zM114.01 858.28h3.4v3.4h-3.4zM112.15 862.1h3.4v3.4h-3.4zM111.06 865.71h3.4v3.4h-3.4zM113.79 869.21h3.4v3.4h-3.4zM116.52 872.81h3.4v3.4h-3.4zM117.29 876.42h3.4v3.4h-3.4zM112.15 880.47h3.4v3.4h-3.4zM110.73 883.96h3.4v3.4h-3.4zM113.79 887.57h3.4v3.4h-3.4zM117.4 891.18h3.4v3.4h-3.4zM110.73 894.9h3.4v3.4h-3.4zM112.15 898.5h3.4v3.4h-3.4zM109.64 902.33h3.4v3.4h-3.4zM109.2 905.94h3.4v3.4h-3.4zM112.7 909.43h3.4v3.4h-3.4zM115.43 913.26h3.4v3.4h-3.4zM112.48 916.87h3.4v3.4h-3.4zM108.54 920.58h3.4v3.4h-3.4zM113.24 924.19h3.4v3.4h-3.4zM111.6 927.8h3.4v3.4h-3.4zM114.88 931.3h3.4v3.4h-3.4z"/>
<path d="M159.21 742.43 L170.31 746.09 L175.23 749.87 L180.61 753.53 L177.75 757.08 L168.71 760.74 L162.65 764.4 L169.74 768.18 L170.65 771.84 L167.45 775.38 L166.42 779.05 L166.99 782.71 L167.45 786.25 L162.65 789.92 L162.3 793.69 L160.36 797.35 L154.86 801.01 L152.58 804.79 L149.72 808.45 L149.49 812 L142.05 815.66 L146.4 819.43 L160.36 823.1 L167.45 826.76 L161.27 830.3 L164.7 833.97 L161.5 837.63 L164.36 841.4 L164.7 845.06 L163.56 848.84 L162.65 852.5 L165.45 856.26 L166.1 859.98 L170.15 863.8 L169.27 867.41 L168.51 870.91 L167.41 874.51 L164.35 878.12 L172.33 882.17 L169.27 885.66 L169.6 889.27 L169.82 892.88 L170.69 896.6 L167.96 900.2 L173.43 904.03 L173.43 907.64 L176.38 911.13 L170.37 914.96 L169.27 918.57 L173.43 922.28 L173.43 925.89 L172.11 929.5 L173.43 933" fill="none" stroke="#00f" stroke-width="0.6" stroke-dasharray="2.2,1.3,0.7,1.3" stroke-opacity="0.55"/>
<path fill="#00f" fill-opacity="0.78" d="M157.51 740.73h3.4v3.4h-3.4zM168.61 744.39h3.4v3.4h-3.4zM173.53 748.17h3.4v3.4h-3.4zM178.91 751.83h3.4v3.4h-3.4zM176.05 755.38h3.4v3.4h-3.4zM167.01 759.04h3.4v3.4h-3.4zM160.95 762.7h3.4v3.4h-3.4zM168.04 766.48h3.4v3.4h-3.4zM168.95 770.14h3.4v3.4h-3.4zM165.75 773.68h3.4v3.4h-3.4zM164.72 777.35h3.4v3.4h-3.4zM165.29 781.01h3.4v3.4h-3.4zM165.75 784.55h3.4v3.4h-3.4zM160.95 788.22h3.4v3.4h-3.4zM160.6 791.99h3.4v3.4h-3.4zM158.66 795.65h3.4v3.4h-3.4zM153.16 799.31h3.4v3.4h-3.4zM150.88 803.09h3.4v3.4h-3.4zM148.02 806.75h3.4v3.4h-3.4zM147.79 810.3h3.4v3.4h-3.4zM140.35 813.96h3.4v3.4h-3.4zM144.7 817.73h3.4v3.4h-3.4zM158.66 821.4h3.4v3.4h-3.4zM165.75 825.06h3.4v3.4h-3.4zM159.57 828.6h3.4v3.4h-3.4zM163 832.27h3.4v3.4h-3.4zM159.8 835.93h3.4v3.4h-3.4zM162.66 839.7h3.4v3.4h-3.4zM163 843.36h3.4v3.4h-3.4zM161.86 847.14h3.4v3.4h-3.4zM160.95 850.8h3.4v3.4h-3.4zM163.75 854.56h3.4v3.4h-3.4zM164.4 858.28h3.4v3.4h-3.4zM168.45 862.1h3.4v3.4h-3.4zM167.57 865.71h3.4v3.4h-3.4zM166.81 869.21h3.4v3.4h-3.4zM165.71 872.81h3.4v3.4h-3.4zM162.65 876.42h3.4v3.4h-3.4zM170.63 880.47h3.4v3.4h-3.4zM167.57 883.96h3.4v3.4h-3.4zM167.9 887.57h3.4v3.4h-3.4zM168.12 891.18h3.4v3.4h-3.4zM168.99 894.9h3.4v3.4h-3.4zM166.26 898.5h3.4v3.4h-3.4zM171.73 902.33h3.4v3.4h-3.4zM171.73 905.94h3.4v3.4h-3.4zM174.68 909.43h3.4v3.4h-3.4zM168.67 913.26h3.4v3.4h-3.4zM167.57 916.87h3.4v3.4h-3.4zM171.73 920.58h3.4v3.4h-3.4zM171.73 924.19h3.4v3.4h-3.4zM170.41 927.8h3.4v3.4h-3.4zM171.73 931.3h3.4v3.4h-3.4z"/>
<path d="M147.43 742.43 L159.44 746.09 L149.14 749.87 L131.41 753.53 L143.19 757.08 L129.12 760.74 L133.7 764.4 L127.98 768.18 L143.19 771.84 L143.19 775.38 L146.86 779.05 L142.85 782.71 L150.86 786.25 L142.28 789.92 L138.39 793.69 L142.97 797.35 L148.57 801.01 L123.74 804.79 L127.98 808.45 L135.76 812 L122.94 815.66 L122.83 819.43 L120.54 823.1 L132.32 826.76 L130.27 830.3 L149.14 833.97 L134.04 837.63 L131.41 841.4 L125.69 845.06 L125.46 848.84 L128.89 852.5 L134.29 856.26 L124.45 859.98 L123.69 863.8 L121.5 867.41 L125.33 870.91 L128.61 874.51 L128.61 878.12 L123.69 882.17 L120.74 885.66 L125.66 889.27 L131.01 892.88 L121.5 896.6 L122.6 900.2 L120.19 904.03 L119.86 907.64 L126.64 911.13 L128.39 914.96 L123.47 918.57 L118.99 922.28 L126.42 925.89 L122.92 929.5 L129.15 933" fill="none" stroke="#f00" stroke-width="0.6"/>
<path fill="#f00" d="M145.73 740.73h3.4v3.4h-3.4zM157.74 744.39h3.4v3.4h-3.4zM147.44 748.17h3.4v3.4h-3.4zM129.71 751.83h3.4v3.4h-3.4zM141.49 755.38h3.4v3.4h-3.4zM127.42 759.04h3.4v3.4h-3.4zM132 762.7h3.4v3.4h-3.4zM126.28 766.48h3.4v3.4h-3.4zM141.49 770.14h3.4v3.4h-3.4zM141.49 773.68h3.4v3.4h-3.4zM145.16 777.35h3.4v3.4h-3.4zM141.15 781.01h3.4v3.4h-3.4zM149.16 784.55h3.4v3.4h-3.4zM140.58 788.22h3.4v3.4h-3.4zM136.69 791.99h3.4v3.4h-3.4zM141.27 795.65h3.4v3.4h-3.4zM146.87 799.31h3.4v3.4h-3.4zM122.04 803.09h3.4v3.4h-3.4zM126.28 806.75h3.4v3.4h-3.4zM134.06 810.3h3.4v3.4h-3.4zM121.24 813.96h3.4v3.4h-3.4zM121.13 817.73h3.4v3.4h-3.4zM118.84 821.4h3.4v3.4h-3.4zM130.62 825.06h3.4v3.4h-3.4zM128.57 828.6h3.4v3.4h-3.4zM147.44 832.27h3.4v3.4h-3.4zM132.34 835.93h3.4v3.4h-3.4zM129.71 839.7h3.4v3.4h-3.4zM123.99 843.36h3.4v3.4h-3.4zM123.76 847.14h3.4v3.4h-3.4zM127.19 850.8h3.4v3.4h-3.4zM132.59 854.56h3.4v3.4h-3.4zM122.75 858.28h3.4v3.4h-3.4zM121.99 862.1h3.4v3.4h-3.4zM119.8 865.71h3.4v3.4h-3.4zM123.63 869.21h3.4v3.4h-3.4zM126.91 872.81h3.4v3.4h-3.4zM126.91 876.42h3.4v3.4h-3.4zM121.99 880.47h3.4v3.4h-3.4zM119.04 883.96h3.4v3.4h-3.4zM123.96 887.57h3.4v3.4h-3.4zM129.31 891.18h3.4v3.4h-3.4zM119.8 894.9h3.4v3.4h-3.4zM120.9 898.5h3.4v3.4h-3.4zM118.49 902.33h3.4v3.4h-3.4zM118.16 905.94h3.4v3.4h-3.4zM124.94 909.43h3.4v3.4h-3.4zM126.69 913.26h3.4v3.4h-3.4zM121.77 916.87h3.4v3.4h-3.4zM117.29 920.58h3.4v3.4h-3.4zM124.72 924.19h3.4v3.4h-3.4zM121.22 927.8h3.4v3.4h-3.4zM127.45 931.3h3.4v3.4h-3.4z"/>
<path d="M96.4 738.5V959.2M240 738.5V959.2M95.8 959.2H240.6M92.2 738.5h4.2M94.2 745.86h2.2M94.2 753.21h2.2M94.2 760.57h2.2M94.2 767.93h2.2M92.2 775.28h4.2M94.2 782.64h2.2M94.2 790h2.2M94.2 797.35h2.2M94.2 804.71h2.2M92.2 812.07h4.2M94.2 819.42h2.2M94.2 826.78h2.2M94.2 834.14h2.2M94.2 841.49h2.2M92.2 848.85h4.2M94.2 856.21h2.2M94.2 863.56h2.2M94.2 870.92h2.2M94.2 878.28h2.2M92.2 885.63h4.2M94.2 892.99h2.2M94.2 900.35h2.2M94.2 907.7h2.2M94.2 915.06h2.2M92.2 922.42h4.2M94.2 929.77h2.2M94.2 937.13h2.2M94.2 944.49h2.2M94.2 951.84h2.2M92.2 959.2h4.2M101.92 959.2v2M110.21 959.2v2M118.49 959.2v3.6M126.78 959.2v2M135.06 959.2v2M143.35 959.2v2M151.63 959.2v3.6M159.92 959.2v2M168.2 959.2v2M176.48 959.2v2M184.77 959.2v3.6M193.05 959.2v2M201.34 959.2v2M209.62 959.2v2M217.91 959.2v3.6M226.19 959.2v2M234.48 959.2v2" fill="none" stroke="#000" stroke-width="1.15"/>
<path d="M95.9 738.5H240.5M96.4 738.5v-1.8M114.35 738.5v-3.2M132.3 738.5v-1.8M150.25 738.5v-3.2M168.2 738.5v-1.8M186.15 738.5v-3.2M204.1 738.5v-1.8M222.05 738.5v-3.2M240 738.5v-1.8" fill="none" stroke="#f00" stroke-width="1.15"/>
<path d="M95.9 982.6H240.5M96.4 982.6v3.0M104.68 982.6v1.8M112.97 982.6v1.8M121.25 982.6v1.8M129.54 982.6v3.0M137.82 982.6v1.8M146.11 982.6v1.8M154.39 982.6v1.8M162.68 982.6v3.0M170.96 982.6v1.8M179.25 982.6v1.8M187.53 982.6v1.8M195.82 982.6v3.0M204.1 982.6v1.8M212.38 982.6v1.8M220.67 982.6v1.8M228.95 982.6v3.0M237.24 982.6v1.8" fill="none" stroke="#00f" stroke-width="1.15"/>
<text transform="translate(89.85 742.8) scale(0.97 1.04)" class="n e">0</text>
<text transform="translate(89.85 779.58) scale(0.97 1.04)" class="n e">10</text>
<text transform="translate(89.85 816.37) scale(0.97 1.04)" class="n e">20</text>
<text transform="translate(89.85 853.15) scale(0.97 1.04)" class="n e">30</text>
<text transform="translate(89.85 889.93) scale(0.97 1.04)" class="n e">40</text>
<text transform="translate(89.85 926.72) scale(0.97 1.04)" class="n e">50</text>
<text transform="translate(89.85 963.5) scale(0.97 1.04)" class="n e">60</text>
<text transform="translate(114.35 729.7) scale(0.95 1.05)" class="n r">0.2</text>
<text transform="translate(150.25 729.7) scale(0.95 1.05)" class="n r">0.4</text>
<text transform="translate(186.15 729.7) scale(0.95 1.05)" class="n r">0.6</text>
<text transform="translate(222.05 729.7) scale(0.95 1.05)" class="n r">0.8</text>
<text transform="translate(119.69 976.1) scale(0.92 1.06)" class="n">0.3</text>
<text transform="translate(152.83 976.1) scale(0.92 1.06)" class="n">0.6</text>
<text transform="translate(185.97 976.1) scale(0.92 1.06)" class="n">0.9</text>
<text transform="translate(219.11 976.1) scale(0.92 1.06)" class="n">1.2</text>
<text transform="translate(96.4 999.95) scale(0.94 1)" class="n b">0.3</text>
<text transform="translate(129.54 999.95) scale(0.94 1)" class="n b">0.6</text>
<text transform="translate(162.68 999.95) scale(0.94 1)" class="n b">0.9</text>
<text transform="translate(195.82 999.95) scale(0.94 1)" class="n b">1.2</text>
<text transform="translate(228.95 999.95) scale(0.94 1)" class="n b">1.5</text>
<text transform="translate(156.41 717.6) scale(0.99 1)" class="s" font-size="20">S07</text>
<text transform="translate(67.7 894.09) rotate(-90) scale(1.04 1)" class="s" font-size="19">Depth (cm)</text>
<path d="M361.27 742.58 L346 749.74 L287.91 756.89 L284.33 764.41 L307.59 771.8 L304.37 778.96 L295.9 786.48 L303.66 793.87 L283.14 801.03 L293.52 808.43 L283.97 815.7 L288.15 823.1 L294.23 830.49 L282.54 838.01 L281.95 845.17 L275.39 852.56" fill="none" stroke="#000" stroke-width="0.6"/>
<path fill="#000" d="M359.57 740.88h3.4v3.4h-3.4zM344.3 748.04h3.4v3.4h-3.4zM286.21 755.19h3.4v3.4h-3.4zM282.63 762.71h3.4v3.4h-3.4zM305.89 770.1h3.4v3.4h-3.4zM302.67 777.26h3.4v3.4h-3.4zM294.2 784.78h3.4v3.4h-3.4zM301.96 792.17h3.4v3.4h-3.4zM281.44 799.33h3.4v3.4h-3.4zM291.82 806.73h3.4v3.4h-3.4zM282.27 814h3.4v3.4h-3.4zM286.45 821.4h3.4v3.4h-3.4zM292.53 828.79h3.4v3.4h-3.4zM280.84 836.31h3.4v3.4h-3.4zM280.25 843.47h3.4v3.4h-3.4zM273.69 850.86h3.4v3.4h-3.4z"/>
<path d="M278.37 742.58 L281.11 749.74 L293.52 756.89 L336.82 764.41 L353.52 771.8 L333 778.96 L357.7 786.48 L364.02 793.87 L373.2 801.03 L366.88 808.43 L374.16 815.7 L387.16 823.1 L387.16 830.49 L389.9 838.01 L379.53 845.17 L382.39 852.56" fill="none" stroke="#00f" stroke-width="0.6" stroke-dasharray="2.2,1.3,0.7,1.3" stroke-opacity="0.55"/>
<path fill="#00f" fill-opacity="0.78" d="M276.67 740.88h3.4v3.4h-3.4zM279.41 748.04h3.4v3.4h-3.4zM291.82 755.19h3.4v3.4h-3.4zM335.12 762.71h3.4v3.4h-3.4zM351.82 770.1h3.4v3.4h-3.4zM331.3 777.26h3.4v3.4h-3.4zM356 784.78h3.4v3.4h-3.4zM362.32 792.17h3.4v3.4h-3.4zM371.5 799.33h3.4v3.4h-3.4zM365.18 806.73h3.4v3.4h-3.4zM372.46 814h3.4v3.4h-3.4zM385.46 821.4h3.4v3.4h-3.4zM385.46 828.79h3.4v3.4h-3.4zM388.2 836.31h3.4v3.4h-3.4zM377.83 843.47h3.4v3.4h-3.4zM380.69 850.86h3.4v3.4h-3.4z"/>
<path d="M312.37 742.58 L306.04 749.74 L275.62 756.89 L287.31 764.41 L332.41 771.8 L314.39 778.96 L314.39 786.48 L331.45 793.87 L297.1 801.03 L314.99 808.43 L299.01 815.7 L311.77 823.1 L326.08 830.49 L301.03 838.01 L296.86 845.17 L283.74 852.56" fill="none" stroke="#f00" stroke-width="0.6"/>
<path fill="#f00" d="M310.67 740.88h3.4v3.4h-3.4zM304.34 748.04h3.4v3.4h-3.4zM273.92 755.19h3.4v3.4h-3.4zM285.61 762.71h3.4v3.4h-3.4zM330.71 770.1h3.4v3.4h-3.4zM312.69 777.26h3.4v3.4h-3.4zM312.69 784.78h3.4v3.4h-3.4zM329.75 792.17h3.4v3.4h-3.4zM295.4 799.33h3.4v3.4h-3.4zM313.29 806.73h3.4v3.4h-3.4zM297.31 814h3.4v3.4h-3.4zM310.07 821.4h3.4v3.4h-3.4zM324.38 828.79h3.4v3.4h-3.4zM299.33 836.31h3.4v3.4h-3.4zM295.16 843.47h3.4v3.4h-3.4zM282.04 850.86h3.4v3.4h-3.4z"/>
<path d="M272.6 738.5V959.2M414.4 738.5V959.2M272 959.2H415M268.4 738.5h4.2M270.4 745.86h2.2M270.4 753.21h2.2M270.4 760.57h2.2M270.4 767.93h2.2M268.4 775.28h4.2M270.4 782.64h2.2M270.4 790h2.2M270.4 797.35h2.2M270.4 804.71h2.2M268.4 812.07h4.2M270.4 819.42h2.2M270.4 826.78h2.2M270.4 834.14h2.2M270.4 841.49h2.2M268.4 848.85h4.2M270.4 856.21h2.2M270.4 863.56h2.2M270.4 870.92h2.2M270.4 878.28h2.2M268.4 885.63h4.2M270.4 892.99h2.2M270.4 900.35h2.2M270.4 907.7h2.2M270.4 915.06h2.2M268.4 922.42h4.2M270.4 929.77h2.2M270.4 937.13h2.2M270.4 944.49h2.2M270.4 951.84h2.2M268.4 959.2h4.2M278.05 959.2v2M286.23 959.2v2M294.42 959.2v3.6M302.6 959.2v2M310.78 959.2v2M318.96 959.2v2M327.14 959.2v3.6M335.32 959.2v2M343.5 959.2v2M351.68 959.2v2M359.86 959.2v3.6M368.04 959.2v2M376.22 959.2v2M384.4 959.2v2M392.58 959.2v3.6M400.77 959.2v2M408.95 959.2v2" fill="none" stroke="#000" stroke-width="1.15"/>
<path d="M272.1 738.5H414.9M272.6 738.5v-1.8M290.33 738.5v-3.2M308.05 738.5v-1.8M325.78 738.5v-3.2M343.5 738.5v-1.8M361.23 738.5v-3.2M378.95 738.5v-1.8M396.67 738.5v-3.2M414.4 738.5v-1.8" fill="none" stroke="#f00" stroke-width="1.15"/>
<path d="M272.1 982.6H414.9M272.6 982.6v3.0M280.78 982.6v1.8M288.96 982.6v1.8M297.14 982.6v1.8M305.32 982.6v3.0M313.5 982.6v1.8M321.68 982.6v1.8M329.87 982.6v1.8M338.05 982.6v3.0M346.23 982.6v1.8M354.41 982.6v1.8M362.59 982.6v1.8M370.77 982.6v3.0M378.95 982.6v1.8M387.13 982.6v1.8M395.31 982.6v1.8M403.49 982.6v3.0M411.67 982.6v1.8" fill="none" stroke="#00f" stroke-width="1.15"/>
<text transform="translate(266.05 742.8) scale(0.97 1.04)" class="n e">0</text>
<text transform="translate(266.05 779.58) scale(0.97 1.04)" class="n e">10</text>
<text transform="translate(266.05 816.37) scale(0.97 1.04)" class="n e">20</text>
<text transform="translate(266.05 853.15) scale(0.97 1.04)" class="n e">30</text>
<text transform="translate(266.05 889.93) scale(0.97 1.04)" class="n e">40</text>
<text transform="translate(266.05 926.72) scale(0.97 1.04)" class="n e">50</text>
<text transform="translate(266.05 963.5) scale(0.97 1.04)" class="n e">60</text>
<text transform="translate(290.33 731.6) scale(0.95 1.05)" class="n r">0.2</text>
<text transform="translate(325.78 731.6) scale(0.95 1.05)" class="n r">0.4</text>
<text transform="translate(361.23 731.6) scale(0.95 1.05)" class="n r">0.6</text>
<text transform="translate(396.67 731.6) scale(0.95 1.05)" class="n r">0.8</text>
<text transform="translate(293.72 976.1) scale(0.92 1.06)" class="n">0.3</text>
<text transform="translate(326.44 976.1) scale(0.92 1.06)" class="n">0.6</text>
<text transform="translate(359.16 976.1) scale(0.92 1.06)" class="n">0.9</text>
<text transform="translate(391.88 976.1) scale(0.92 1.06)" class="n">1.2</text>
<text transform="translate(272.6 999.05) scale(0.94 1)" class="n b">0.3</text>
<text transform="translate(305.32 999.05) scale(0.94 1)" class="n b">0.6</text>
<text transform="translate(338.05 999.05) scale(0.94 1)" class="n b">0.9</text>
<text transform="translate(370.77 999.05) scale(0.94 1)" class="n b">1.2</text>
<text transform="translate(403.49 999.05) scale(0.94 1)" class="n b">1.5</text>
<text transform="translate(324.4 718.2) scale(0.99 1)" class="s" font-size="20">HH14</text>
<path d="M551.52 104.38 L539.68 108.05 L552.35 111.84 L535.78 115.39 L535.18 118.94 L539.33 122.73 L534.59 126.4 L534.36 130.18 L532.23 134.09 L546.43 137.88 L546.19 141.43 L545.25 145.22 L546.67 148.89 L545.6 152.44 L553.77 156.46 L546.43 160.13 L547.02 163.68 L545.01 167.47 L544.3 171.02 L542.64 174.93 L541.46 178.72 L538.5 182.5 L536.01 186.17 L535.54 189.73 L526.31 193.51 L530.8 197.3 L530.09 200.97 L527.49 204.76 L534.95 208.55 L527.85 212.22 L526.69 215.72 L516.56 219.58 L525.37 223.21 L519.31 226.84 L521.29 230.59 L523.16 234.22 L521.29 238.07 L522.94 241.7" fill="none" stroke="#000" stroke-width="0.6"/>
<path fill="#000" d="M549.82 102.68h3.4v3.4h-3.4zM537.98 106.35h3.4v3.4h-3.4zM550.65 110.14h3.4v3.4h-3.4zM534.08 113.69h3.4v3.4h-3.4zM533.48 117.24h3.4v3.4h-3.4zM537.63 121.03h3.4v3.4h-3.4zM532.89 124.7h3.4v3.4h-3.4zM532.66 128.48h3.4v3.4h-3.4zM530.53 132.39h3.4v3.4h-3.4zM544.73 136.18h3.4v3.4h-3.4zM544.49 139.73h3.4v3.4h-3.4zM543.55 143.52h3.4v3.4h-3.4zM544.97 147.19h3.4v3.4h-3.4zM543.9 150.74h3.4v3.4h-3.4zM552.07 154.76h3.4v3.4h-3.4zM544.73 158.43h3.4v3.4h-3.4zM545.32 161.98h3.4v3.4h-3.4zM543.31 165.77h3.4v3.4h-3.4zM542.6 169.32h3.4v3.4h-3.4zM540.94 173.23h3.4v3.4h-3.4zM539.76 177.02h3.4v3.4h-3.4zM536.8 180.8h3.4v3.4h-3.4zM534.31 184.47h3.4v3.4h-3.4zM533.84 188.03h3.4v3.4h-3.4zM524.61 191.81h3.4v3.4h-3.4zM529.1 195.6h3.4v3.4h-3.4zM528.39 199.27h3.4v3.4h-3.4zM525.79 203.06h3.4v3.4h-3.4zM533.25 206.85h3.4v3.4h-3.4zM526.15 210.52h3.4v3.4h-3.4zM524.99 214.02h3.4v3.4h-3.4zM514.86 217.88h3.4v3.4h-3.4zM523.67 221.51h3.4v3.4h-3.4zM517.61 225.14h3.4v3.4h-3.4zM519.59 228.89h3.4v3.4h-3.4zM521.46 232.52h3.4v3.4h-3.4zM519.59 236.37h3.4v3.4h-3.4zM521.24 240h3.4v3.4h-3.4z"/>
<path d="M583.72 104.38 L578.39 108.05 L590.23 111.84 L597.09 115.39 L600.88 118.94 L604.67 122.73 L608.81 126.4 L611.3 130.18 L606.44 134.09 L605.38 137.88 L603.01 141.43 L599.7 145.22 L602.3 148.89 L602.3 152.44 L599.7 156.46 L595.91 160.13 L595.55 163.68 L603.01 167.47 L601.47 171.02 L603.48 174.93 L607.75 178.72 L609.76 182.5 L614.85 186.17 L612.13 189.73 L622.78 193.51 L613.55 197.3 L615.32 200.97 L615.32 204.76 L615.32 208.55 L618.04 212.22 L625.87 215.72 L634.02 219.58 L638.2 223.21 L637.32 226.84 L645.69 230.59 L634.02 234.22 L641.28 238.07 L639.52 241.7" fill="none" stroke="#00f" stroke-width="0.6" stroke-dasharray="2.2,1.3,0.7,1.3" stroke-opacity="0.55"/>
<path fill="#00f" fill-opacity="0.78" d="M582.02 102.68h3.4v3.4h-3.4zM576.69 106.35h3.4v3.4h-3.4zM588.53 110.14h3.4v3.4h-3.4zM595.39 113.69h3.4v3.4h-3.4zM599.18 117.24h3.4v3.4h-3.4zM602.97 121.03h3.4v3.4h-3.4zM607.11 124.7h3.4v3.4h-3.4zM609.6 128.48h3.4v3.4h-3.4zM604.74 132.39h3.4v3.4h-3.4zM603.68 136.18h3.4v3.4h-3.4zM601.31 139.73h3.4v3.4h-3.4zM598 143.52h3.4v3.4h-3.4zM600.6 147.19h3.4v3.4h-3.4zM600.6 150.74h3.4v3.4h-3.4zM598 154.76h3.4v3.4h-3.4zM594.21 158.43h3.4v3.4h-3.4zM593.85 161.98h3.4v3.4h-3.4zM601.31 165.77h3.4v3.4h-3.4zM599.77 169.32h3.4v3.4h-3.4zM601.78 173.23h3.4v3.4h-3.4zM606.05 177.02h3.4v3.4h-3.4zM608.06 180.8h3.4v3.4h-3.4zM613.15 184.47h3.4v3.4h-3.4zM610.43 188.03h3.4v3.4h-3.4zM621.08 191.81h3.4v3.4h-3.4zM611.85 195.6h3.4v3.4h-3.4zM613.62 199.27h3.4v3.4h-3.4zM613.62 203.06h3.4v3.4h-3.4zM613.62 206.85h3.4v3.4h-3.4zM616.34 210.52h3.4v3.4h-3.4zM624.17 214.02h3.4v3.4h-3.4zM632.32 217.88h3.4v3.4h-3.4zM636.5 221.51h3.4v3.4h-3.4zM635.62 225.14h3.4v3.4h-3.4zM643.99 228.89h3.4v3.4h-3.4zM632.32 232.52h3.4v3.4h-3.4zM639.58 236.37h3.4v3.4h-3.4zM637.82 240h3.4v3.4h-3.4z"/>
<path d="M583.12 104.38 L559.69 108.05 L590.23 111.84 L565.37 115.39 L565.96 118.94 L576.61 122.73 L569.87 126.4 L571.29 130.18 L563.95 134.09 L591.41 137.88 L589.04 141.43 L583.95 145.22 L589.4 148.89 L587.27 152.44 L599.34 156.46 L584.31 160.13 L585.26 163.68 L586.08 167.47 L584.55 171.02 L582.77 174.93 L583.12 178.72 L578.98 182.5 L576.61 186.17 L574.6 189.73 L559.81 193.51 L565.13 197.3 L563.95 200.97 L559.1 204.76 L574.48 208.55 L561.58 212.22 L562.46 215.72 L542.76 219.58 L564.78 223.21 L549.58 226.84 L557.62 230.59 L557.62 234.22 L556.41 238.07 L559.82 241.7" fill="none" stroke="#f00" stroke-width="0.6"/>
<path fill="#f00" d="M581.42 102.68h3.4v3.4h-3.4zM557.99 106.35h3.4v3.4h-3.4zM588.53 110.14h3.4v3.4h-3.4zM563.67 113.69h3.4v3.4h-3.4zM564.26 117.24h3.4v3.4h-3.4zM574.91 121.03h3.4v3.4h-3.4zM568.17 124.7h3.4v3.4h-3.4zM569.59 128.48h3.4v3.4h-3.4zM562.25 132.39h3.4v3.4h-3.4zM589.71 136.18h3.4v3.4h-3.4zM587.34 139.73h3.4v3.4h-3.4zM582.25 143.52h3.4v3.4h-3.4zM587.7 147.19h3.4v3.4h-3.4zM585.57 150.74h3.4v3.4h-3.4zM597.64 154.76h3.4v3.4h-3.4zM582.61 158.43h3.4v3.4h-3.4zM583.56 161.98h3.4v3.4h-3.4zM584.38 165.77h3.4v3.4h-3.4zM582.85 169.32h3.4v3.4h-3.4zM581.07 173.23h3.4v3.4h-3.4zM581.42 177.02h3.4v3.4h-3.4zM577.28 180.8h3.4v3.4h-3.4zM574.91 184.47h3.4v3.4h-3.4zM572.9 188.03h3.4v3.4h-3.4zM558.11 191.81h3.4v3.4h-3.4zM563.43 195.6h3.4v3.4h-3.4zM562.25 199.27h3.4v3.4h-3.4zM557.4 203.06h3.4v3.4h-3.4zM572.78 206.85h3.4v3.4h-3.4zM559.88 210.52h3.4v3.4h-3.4zM560.76 214.02h3.4v3.4h-3.4zM541.06 217.88h3.4v3.4h-3.4zM563.08 221.51h3.4v3.4h-3.4zM547.88 225.14h3.4v3.4h-3.4zM555.92 228.89h3.4v3.4h-3.4zM555.92 232.52h3.4v3.4h-3.4zM554.71 236.37h3.4v3.4h-3.4zM558.12 240h3.4v3.4h-3.4z"/>
<path d="M504.5 100.4V323.5M648 100.4V323.5M503.9 323.5H648.6M500.3 100.4h4.2M502.3 107.84h2.2M502.3 115.27h2.2M502.3 122.71h2.2M502.3 130.15h2.2M500.3 137.58h4.2M502.3 145.02h2.2M502.3 152.46h2.2M502.3 159.89h2.2M502.3 167.33h2.2M500.3 174.77h4.2M502.3 182.2h2.2M502.3 189.64h2.2M502.3 197.08h2.2M502.3 204.51h2.2M500.3 211.95h4.2M502.3 219.39h2.2M502.3 226.82h2.2M502.3 234.26h2.2M502.3 241.7h2.2M500.3 249.13h4.2M502.3 256.57h2.2M502.3 264.01h2.2M502.3 271.44h2.2M502.3 278.88h2.2M500.3 286.32h4.2M502.3 293.75h2.2M502.3 301.19h2.2M502.3 308.63h2.2M502.3 316.06h2.2M500.3 323.5h4.2M510.02 323.5v2M518.3 323.5v2M526.58 323.5v3.6M534.86 323.5v2M543.13 323.5v2M551.41 323.5v2M559.69 323.5v3.6M567.97 323.5v2M576.25 323.5v2M584.53 323.5v2M592.81 323.5v3.6M601.09 323.5v2M609.37 323.5v2M617.64 323.5v2M625.92 323.5v3.6M634.2 323.5v2M642.48 323.5v2" fill="none" stroke="#000" stroke-width="1.15"/>
<path d="M504 100.4H648.5M504.5 100.4v-1.8M522.44 100.4v-3.2M540.38 100.4v-1.8M558.31 100.4v-3.2M576.25 100.4v-1.8M594.19 100.4v-3.2M612.12 100.4v-1.8M630.06 100.4v-3.2M648 100.4v-1.8" fill="none" stroke="#f00" stroke-width="1.15"/>
<path d="M504 344.2H648.5M504.5 344.2v3.0M512.78 344.2v1.8M521.06 344.2v1.8M529.34 344.2v1.8M537.62 344.2v3.0M545.89 344.2v1.8M554.17 344.2v1.8M562.45 344.2v1.8M570.73 344.2v3.0M579.01 344.2v1.8M587.29 344.2v1.8M595.57 344.2v1.8M603.85 344.2v3.0M612.12 344.2v1.8M620.4 344.2v1.8M628.68 344.2v1.8M636.96 344.2v3.0M645.24 344.2v1.8" fill="none" stroke="#00f" stroke-width="1.15"/>
<text transform="translate(497.95 104.7) scale(0.97 1.04)" class="n e">0</text>
<text transform="translate(497.95 141.88) scale(0.97 1.04)" class="n e">10</text>
<text transform="translate(497.95 179.07) scale(0.97 1.04)" class="n e">20</text>
<text transform="translate(497.95 216.25) scale(0.97 1.04)" class="n e">30</text>
<text transform="translate(497.95 253.43) scale(0.97 1.04)" class="n e">40</text>
<text transform="translate(497.95 290.62) scale(0.97 1.04)" class="n e">50</text>
<text transform="translate(497.95 327.8) scale(0.97 1.04)" class="n e">60</text>
<text transform="translate(522.44 91.5) scale(0.95 1.05)" class="n r">0.2</text>
<text transform="translate(558.31 91.5) scale(0.95 1.05)" class="n r">0.4</text>
<text transform="translate(594.19 91.5) scale(0.95 1.05)" class="n r">0.6</text>
<text transform="translate(630.06 91.5) scale(0.95 1.05)" class="n r">0.8</text>
<text transform="translate(526.18 339.2) scale(0.92 1.06)" class="n">0.3</text>
<text transform="translate(559.29 339.2) scale(0.92 1.06)" class="n">0.6</text>
<text transform="translate(592.41 339.2) scale(0.92 1.06)" class="n">0.9</text>
<text transform="translate(625.52 339.2) scale(0.92 1.06)" class="n">1.2</text>
<text transform="translate(504.5 361.75) scale(0.94 1)" class="n b">0.3</text>
<text transform="translate(537.62 361.75) scale(0.94 1)" class="n b">0.6</text>
<text transform="translate(570.73 361.75) scale(0.94 1)" class="n b">0.9</text>
<text transform="translate(603.85 361.75) scale(0.94 1)" class="n b">1.2</text>
<text transform="translate(636.96 361.75) scale(0.94 1)" class="n b">1.5</text>
<text transform="translate(563.6 76.7) scale(0.99 1)" class="s" font-size="20">T04</text>
<text transform="translate(475.8 257.19) rotate(-90) scale(1.04 1)" class="s" font-size="19">Depth (cm)</text>
<path d="M727.72 104.14 L727.72 107.87 L728.41 111.46 L709.64 115.18 L704.95 118.91 L703.57 122.5 L717.23 126.5 L709.09 130.09 L712.54 133.82 L715.16 137.54 L717.65 141.41 L712.13 145.13 L708.4 148.72 L714.2 152.45 L713.23 156.31 L710.47 160.04 L710.06 163.77 L720.68 167.63 L723.44 171.36 L720.41 174.95 L715.16 178.67 L726.62 182.4 L726.62 185.99 L719.03 189.72 L703.15 193.44 L706.61 197.31 L709.64 201.04 L711.85 204.62 L708.26 208.35 L705.22 212.08 L704.26 215.67 L704.95 219.39 L711.16 223.12 L707.57 226.71" fill="none" stroke="#000" stroke-width="0.6"/>
<path fill="#000" d="M726.02 102.44h3.4v3.4h-3.4zM726.02 106.17h3.4v3.4h-3.4zM726.71 109.76h3.4v3.4h-3.4zM707.94 113.48h3.4v3.4h-3.4zM703.25 117.21h3.4v3.4h-3.4zM701.87 120.8h3.4v3.4h-3.4zM715.53 124.8h3.4v3.4h-3.4zM707.39 128.39h3.4v3.4h-3.4zM710.84 132.12h3.4v3.4h-3.4zM713.46 135.84h3.4v3.4h-3.4zM715.95 139.71h3.4v3.4h-3.4zM710.43 143.43h3.4v3.4h-3.4zM706.7 147.02h3.4v3.4h-3.4zM712.5 150.75h3.4v3.4h-3.4zM711.53 154.61h3.4v3.4h-3.4zM708.77 158.34h3.4v3.4h-3.4zM708.36 162.07h3.4v3.4h-3.4zM718.98 165.93h3.4v3.4h-3.4zM721.74 169.66h3.4v3.4h-3.4zM718.71 173.25h3.4v3.4h-3.4zM713.46 176.97h3.4v3.4h-3.4zM724.92 180.7h3.4v3.4h-3.4zM724.92 184.29h3.4v3.4h-3.4zM717.33 188.02h3.4v3.4h-3.4zM701.45 191.74h3.4v3.4h-3.4zM704.91 195.61h3.4v3.4h-3.4zM707.94 199.34h3.4v3.4h-3.4zM710.15 202.92h3.4v3.4h-3.4zM706.56 206.65h3.4v3.4h-3.4zM703.52 210.38h3.4v3.4h-3.4zM702.56 213.97h3.4v3.4h-3.4zM703.25 217.69h3.4v3.4h-3.4zM709.46 221.42h3.4v3.4h-3.4zM705.87 225.01h3.4v3.4h-3.4z"/>
<path d="M733.52 107.87 L756.02 115.18 L763.2 122.77 L763.2 130.09 L760.85 137.68 L756.02 145.13 L765.54 152.73 L771.2 160.18 L760.44 167.63 L760.85 174.95 L775.62 182.4 L772.86 189.72 L795.91 197.31 L802.95 204.62 L800.05 212.08 L806.26 219.39 L801.15 226.71" fill="none" stroke="#00f" stroke-width="0.6" stroke-dasharray="2.2,1.3,0.7,1.3" stroke-opacity="0.55"/>
<path fill="#00f" fill-opacity="0.78" d="M731.82 106.17h3.4v3.4h-3.4zM754.32 113.48h3.4v3.4h-3.4zM761.5 121.07h3.4v3.4h-3.4zM761.5 128.39h3.4v3.4h-3.4zM759.15 135.98h3.4v3.4h-3.4zM754.32 143.43h3.4v3.4h-3.4zM763.84 151.03h3.4v3.4h-3.4zM769.5 158.48h3.4v3.4h-3.4zM758.74 165.93h3.4v3.4h-3.4zM759.15 173.25h3.4v3.4h-3.4zM773.92 180.7h3.4v3.4h-3.4zM771.16 188.02h3.4v3.4h-3.4zM794.21 195.61h3.4v3.4h-3.4zM801.25 202.92h3.4v3.4h-3.4zM798.35 210.38h3.4v3.4h-3.4zM804.56 217.69h3.4v3.4h-3.4zM799.45 225.01h3.4v3.4h-3.4z"/>
<path d="M739.04 107.87 L729.38 115.18 L723.17 122.77 L732.83 130.09 L741.53 137.68 L733.93 145.13 L742.77 152.73 L739.73 160.18 L750.5 167.63 L750.5 174.95 L774.93 182.4 L756.98 189.72 L747.6 197.31 L763.47 204.62 L747.6 212.08 L749.39 219.39 L752.84 226.71" fill="none" stroke="#f00" stroke-width="0.6"/>
<path fill="#f00" d="M737.34 106.17h3.4v3.4h-3.4zM727.68 113.48h3.4v3.4h-3.4zM721.47 121.07h3.4v3.4h-3.4zM731.13 128.39h3.4v3.4h-3.4zM739.83 135.98h3.4v3.4h-3.4zM732.23 143.43h3.4v3.4h-3.4zM741.07 151.03h3.4v3.4h-3.4zM738.03 158.48h3.4v3.4h-3.4zM748.8 165.93h3.4v3.4h-3.4zM748.8 173.25h3.4v3.4h-3.4zM773.23 180.7h3.4v3.4h-3.4zM755.28 188.02h3.4v3.4h-3.4zM745.9 195.61h3.4v3.4h-3.4zM761.77 202.92h3.4v3.4h-3.4zM745.9 210.38h3.4v3.4h-3.4zM747.69 217.69h3.4v3.4h-3.4zM751.14 225.01h3.4v3.4h-3.4z"/>
<path d="M678.3 100.4V323.5M821.9 100.4V323.5M677.7 323.5H822.5M674.1 100.4h4.2M676.1 107.84h2.2M676.1 115.27h2.2M676.1 122.71h2.2M676.1 130.15h2.2M674.1 137.58h4.2M676.1 145.02h2.2M676.1 152.46h2.2M676.1 159.89h2.2M676.1 167.33h2.2M674.1 174.77h4.2M676.1 182.2h2.2M676.1 189.64h2.2M676.1 197.08h2.2M676.1 204.51h2.2M674.1 211.95h4.2M676.1 219.39h2.2M676.1 226.82h2.2M676.1 234.26h2.2M676.1 241.7h2.2M674.1 249.13h4.2M676.1 256.57h2.2M676.1 264.01h2.2M676.1 271.44h2.2M676.1 278.88h2.2M674.1 286.32h4.2M676.1 293.75h2.2M676.1 301.19h2.2M676.1 308.63h2.2M676.1 316.06h2.2M674.1 323.5h4.2M683.82 323.5v2M692.11 323.5v2M700.39 323.5v3.6M708.68 323.5v2M716.96 323.5v2M725.25 323.5v2M733.53 323.5v3.6M741.82 323.5v2M750.1 323.5v2M758.38 323.5v2M766.67 323.5v3.6M774.95 323.5v2M783.24 323.5v2M791.52 323.5v2M799.81 323.5v3.6M808.09 323.5v2M816.38 323.5v2" fill="none" stroke="#000" stroke-width="1.15"/>
<path d="M677.8 100.4H822.4M678.3 100.4v-1.8M696.25 100.4v-3.2M714.2 100.4v-1.8M732.15 100.4v-3.2M750.1 100.4v-1.8M768.05 100.4v-3.2M786 100.4v-1.8M803.95 100.4v-3.2M821.9 100.4v-1.8" fill="none" stroke="#f00" stroke-width="1.15"/>
<path d="M677.8 346.6H822.4M678.3 346.6v3.0M686.58 346.6v1.8M694.87 346.6v1.8M703.15 346.6v1.8M711.44 346.6v3.0M719.72 346.6v1.8M728.01 346.6v1.8M736.29 346.6v1.8M744.58 346.6v3.0M752.86 346.6v1.8M761.15 346.6v1.8M769.43 346.6v1.8M777.72 346.6v3.0M786 346.6v1.8M794.28 346.6v1.8M802.57 346.6v1.8M810.85 346.6v3.0M819.14 346.6v1.8" fill="none" stroke="#00f" stroke-width="1.15"/>
<text transform="translate(671.75 104.7) scale(0.97 1.04)" class="n e">0</text>
<text transform="translate(671.75 141.88) scale(0.97 1.04)" class="n e">10</text>
<text transform="translate(671.75 179.07) scale(0.97 1.04)" class="n e">20</text>
<text transform="translate(671.75 216.25) scale(0.97 1.04)" class="n e">30</text>
<text transform="translate(671.75 253.43) scale(0.97 1.04)" class="n e">40</text>
<text transform="translate(671.75 290.62) scale(0.97 1.04)" class="n e">50</text>
<text transform="translate(671.75 327.8) scale(0.97 1.04)" class="n e">60</text>
<text transform="translate(696.25 90.6) scale(0.95 1.05)" class="n r">0.2</text>
<text transform="translate(732.15 90.6) scale(0.95 1.05)" class="n r">0.4</text>
<text transform="translate(768.05 90.6) scale(0.95 1.05)" class="n r">0.6</text>
<text transform="translate(803.95 90.6) scale(0.95 1.05)" class="n r">0.8</text>
<text transform="translate(700.39 341.6) scale(0.92 1.06)" class="n">0.3</text>
<text transform="translate(733.53 341.6) scale(0.92 1.06)" class="n">0.6</text>
<text transform="translate(766.67 341.6) scale(0.92 1.06)" class="n">0.9</text>
<text transform="translate(799.81 341.6) scale(0.92 1.06)" class="n">1.2</text>
<text transform="translate(678.3 363.95) scale(0.94 1)" class="n b">0.3</text>
<text transform="translate(711.44 363.95) scale(0.94 1)" class="n b">0.6</text>
<text transform="translate(744.58 363.95) scale(0.94 1)" class="n b">0.9</text>
<text transform="translate(777.72 363.95) scale(0.94 1)" class="n b">1.2</text>
<text transform="translate(810.85 363.95) scale(0.94 1)" class="n b">1.5</text>
<text transform="translate(740.39 76.7) scale(1.02 1)" class="s" font-size="20">B2</text>
<path d="M919.77 104.31 L920 107.94 L917.51 111.68 L912.74 115.31 L913.2 119.05 L916.37 122.68 L916.94 126.42 L916.37 130.28 L914.67 134.02 L914.44 137.65 L926.01 141.39 L915.47 145.13 L917.85 148.99 L912.63 152.51 L911.04 156.36 L914.44 160.1 L915.81 163.73 L916.6 167.48 L912.4 171.22 L915.81 174.85 L912.97 178.59 L911.27 182.44 L908.77 186.19 L908.66 189.93 L908.77 193.56 L907.53 197.3 L908.21 200.93 L905.6 204.56 L909.57 208.53 L906.17 212.5 L906.29 215.79 L901.12 219.53 L904.31 223.16 L906.07 226.8 L900.24 230.87 L905.19 234.5 L897.26 238.03 L909.37 241.66 L905.74 245.51 L901.89 249.25 L901.34 253.11 L901.34 256.74 L906.07 260.37 L901.34 264.11 L897.48 267.75 L903.54 271.6 L904.64 275.12 L898.58 278.98 L890.33 282.61 L884.27 286.46 L896.71 290.09 L903.76 293.62 L901.01 297.47 L906.29 301.32 L885.15 304.96 L889.23 308.48" fill="none" stroke="#000" stroke-width="0.6"/>
<path fill="#000" d="M918.07 102.61h3.4v3.4h-3.4zM918.3 106.24h3.4v3.4h-3.4zM915.81 109.98h3.4v3.4h-3.4zM911.04 113.61h3.4v3.4h-3.4zM911.5 117.35h3.4v3.4h-3.4zM914.67 120.98h3.4v3.4h-3.4zM915.24 124.72h3.4v3.4h-3.4zM914.67 128.58h3.4v3.4h-3.4zM912.97 132.32h3.4v3.4h-3.4zM912.74 135.95h3.4v3.4h-3.4zM924.31 139.69h3.4v3.4h-3.4zM913.77 143.43h3.4v3.4h-3.4zM916.15 147.29h3.4v3.4h-3.4zM910.93 150.81h3.4v3.4h-3.4zM909.34 154.66h3.4v3.4h-3.4zM912.74 158.4h3.4v3.4h-3.4zM914.11 162.03h3.4v3.4h-3.4zM914.9 165.78h3.4v3.4h-3.4zM910.7 169.52h3.4v3.4h-3.4zM914.11 173.15h3.4v3.4h-3.4zM911.27 176.89h3.4v3.4h-3.4zM909.57 180.74h3.4v3.4h-3.4zM907.07 184.49h3.4v3.4h-3.4zM906.96 188.23h3.4v3.4h-3.4zM907.07 191.86h3.4v3.4h-3.4zM905.83 195.6h3.4v3.4h-3.4zM906.51 199.23h3.4v3.4h-3.4zM903.9 202.86h3.4v3.4h-3.4zM907.87 206.83h3.4v3.4h-3.4zM904.47 210.8h3.4v3.4h-3.4zM904.59 214.09h3.4v3.4h-3.4zM899.42 217.83h3.4v3.4h-3.4zM902.61 221.46h3.4v3.4h-3.4zM904.37 225.1h3.4v3.4h-3.4zM898.54 229.17h3.4v3.4h-3.4zM903.49 232.8h3.4v3.4h-3.4zM895.56 236.33h3.4v3.4h-3.4zM907.67 239.96h3.4v3.4h-3.4zM904.04 243.81h3.4v3.4h-3.4zM900.19 247.55h3.4v3.4h-3.4zM899.64 251.41h3.4v3.4h-3.4zM899.64 255.04h3.4v3.4h-3.4zM904.37 258.67h3.4v3.4h-3.4zM899.64 262.41h3.4v3.4h-3.4zM895.78 266.05h3.4v3.4h-3.4zM901.84 269.9h3.4v3.4h-3.4zM902.94 273.42h3.4v3.4h-3.4zM896.88 277.28h3.4v3.4h-3.4zM888.63 280.91h3.4v3.4h-3.4zM882.57 284.76h3.4v3.4h-3.4zM895.01 288.39h3.4v3.4h-3.4zM902.06 291.92h3.4v3.4h-3.4zM899.31 295.77h3.4v3.4h-3.4zM904.59 299.62h3.4v3.4h-3.4zM883.45 303.26h3.4v3.4h-3.4zM887.53 306.78h3.4v3.4h-3.4z"/>
<path d="M899.36 104.31 L901.63 107.94 L908.43 111.68 L908.43 115.31 L908.43 119.05 L910.36 122.68 L910.36 126.42 L911.84 130.28 L910.7 134.02 L914.44 137.65 L908.77 141.39 L910.7 145.13 L914.1 148.99 L912.4 152.51 L916.37 156.36 L916.37 160.1 L918.41 163.73 L918.87 167.48 L919.55 171.22 L923.52 174.85 L916.71 178.59 L916.03 182.44 L917.85 186.19 L922.04 189.93 L925.78 193.56 L924.31 197.3 L921.48 200.93 L922.04 204.56 L922.04 208.53 L924.88 212.5 L925.55 215.79 L922.8 219.53 L923.35 223.16 L925.55 226.8 L923.35 230.87 L924.45 234.5 L926.66 238.03 L923.57 241.66 L918.4 245.51 L921.15 249.25 L922.47 253.11 L919.5 256.74 L922.47 260.37 L920.6 264.11 L921.37 267.75 L922.47 271.6 L922.03 275.12 L926.88 278.98 L934.69 282.61 L934.69 286.46 L929.19 290.09 L924.23 293.62 L923.35 297.47 L924.78 301.32 L938.21 304.96 L943.5 308.48" fill="none" stroke="#00f" stroke-width="0.6" stroke-dasharray="2.2,1.3,0.7,1.3" stroke-opacity="0.55"/>
<path fill="#00f" fill-opacity="0.78" d="M897.66 102.61h3.4v3.4h-3.4zM899.93 106.24h3.4v3.4h-3.4zM906.73 109.98h3.4v3.4h-3.4zM906.73 113.61h3.4v3.4h-3.4zM906.73 117.35h3.4v3.4h-3.4zM908.66 120.98h3.4v3.4h-3.4zM908.66 124.72h3.4v3.4h-3.4zM910.14 128.58h3.4v3.4h-3.4zM909 132.32h3.4v3.4h-3.4zM912.74 135.95h3.4v3.4h-3.4zM907.07 139.69h3.4v3.4h-3.4zM909 143.43h3.4v3.4h-3.4zM912.4 147.29h3.4v3.4h-3.4zM910.7 150.81h3.4v3.4h-3.4zM914.67 154.66h3.4v3.4h-3.4zM914.67 158.4h3.4v3.4h-3.4zM916.71 162.03h3.4v3.4h-3.4zM917.17 165.78h3.4v3.4h-3.4zM917.85 169.52h3.4v3.4h-3.4zM921.82 173.15h3.4v3.4h-3.4zM915.01 176.89h3.4v3.4h-3.4zM914.33 180.74h3.4v3.4h-3.4zM916.15 184.49h3.4v3.4h-3.4zM920.34 188.23h3.4v3.4h-3.4zM924.08 191.86h3.4v3.4h-3.4zM922.61 195.6h3.4v3.4h-3.4zM919.78 199.23h3.4v3.4h-3.4zM920.34 202.86h3.4v3.4h-3.4zM920.34 206.83h3.4v3.4h-3.4zM923.18 210.8h3.4v3.4h-3.4zM923.85 214.09h3.4v3.4h-3.4zM921.1 217.83h3.4v3.4h-3.4zM921.65 221.46h3.4v3.4h-3.4zM923.85 225.1h3.4v3.4h-3.4zM921.65 229.17h3.4v3.4h-3.4zM922.75 232.8h3.4v3.4h-3.4zM924.96 236.33h3.4v3.4h-3.4zM921.87 239.96h3.4v3.4h-3.4zM916.7 243.81h3.4v3.4h-3.4zM919.45 247.55h3.4v3.4h-3.4zM920.77 251.41h3.4v3.4h-3.4zM917.8 255.04h3.4v3.4h-3.4zM920.77 258.67h3.4v3.4h-3.4zM918.9 262.41h3.4v3.4h-3.4zM919.67 266.05h3.4v3.4h-3.4zM920.77 269.9h3.4v3.4h-3.4zM920.33 273.42h3.4v3.4h-3.4zM925.18 277.28h3.4v3.4h-3.4zM932.99 280.91h3.4v3.4h-3.4zM932.99 284.76h3.4v3.4h-3.4zM927.49 288.39h3.4v3.4h-3.4zM922.53 291.92h3.4v3.4h-3.4zM921.65 295.77h3.4v3.4h-3.4zM923.08 299.62h3.4v3.4h-3.4zM936.51 303.26h3.4v3.4h-3.4zM941.8 306.78h3.4v3.4h-3.4z"/>
<path d="M925.22 104.31 L928.05 107.94 L932.82 111.68 L927.15 115.31 L927.49 119.05 L933.04 122.68 L934.29 126.42 L934.52 130.28 L931.34 134.02 L935.42 137.65 L944.16 141.39 L932.25 145.13 L939.28 148.99 L930.77 152.51 L932.48 156.36 L937.92 160.1 L941.89 163.73 L943.25 167.48 L937.58 171.22 L946.76 174.85 L935.88 178.59 L932.59 182.44 L930.55 186.19 L934.74 189.93 L938.15 193.56 L934.74 197.3 L933.04 200.93 L930.21 204.56 L936.22 208.53 L933.61 212.5 L934.69 215.79 L923.9 219.53 L928.86 223.16 L934.14 226.8 L923.13 230.87 L931.39 234.5 L920.93 238.03 L937.44 241.66 L926.88 245.51 L923.68 249.25 L924.78 253.11 L922.25 256.74 L931.28 260.37 L923.02 264.11 L917.3 267.75 L927.21 271.6 L928.86 275.12 L923.35 278.98 L916.53 282.61 L905.96 286.46 L922.25 290.09 L929.41 293.62 L923.68 297.47 L933.48 301.32 L909.37 304.96 L920.05 308.48" fill="none" stroke="#f00" stroke-width="0.6"/>
<path fill="#f00" d="M923.52 102.61h3.4v3.4h-3.4zM926.35 106.24h3.4v3.4h-3.4zM931.12 109.98h3.4v3.4h-3.4zM925.45 113.61h3.4v3.4h-3.4zM925.79 117.35h3.4v3.4h-3.4zM931.34 120.98h3.4v3.4h-3.4zM932.59 124.72h3.4v3.4h-3.4zM932.82 128.58h3.4v3.4h-3.4zM929.64 132.32h3.4v3.4h-3.4zM933.72 135.95h3.4v3.4h-3.4zM942.46 139.69h3.4v3.4h-3.4zM930.55 143.43h3.4v3.4h-3.4zM937.58 147.29h3.4v3.4h-3.4zM929.07 150.81h3.4v3.4h-3.4zM930.78 154.66h3.4v3.4h-3.4zM936.22 158.4h3.4v3.4h-3.4zM940.19 162.03h3.4v3.4h-3.4zM941.55 165.78h3.4v3.4h-3.4zM935.88 169.52h3.4v3.4h-3.4zM945.06 173.15h3.4v3.4h-3.4zM934.18 176.89h3.4v3.4h-3.4zM930.89 180.74h3.4v3.4h-3.4zM928.85 184.49h3.4v3.4h-3.4zM933.04 188.23h3.4v3.4h-3.4zM936.45 191.86h3.4v3.4h-3.4zM933.04 195.6h3.4v3.4h-3.4zM931.34 199.23h3.4v3.4h-3.4zM928.51 202.86h3.4v3.4h-3.4zM934.52 206.83h3.4v3.4h-3.4zM931.91 210.8h3.4v3.4h-3.4zM932.99 214.09h3.4v3.4h-3.4zM922.2 217.83h3.4v3.4h-3.4zM927.16 221.46h3.4v3.4h-3.4zM932.44 225.1h3.4v3.4h-3.4zM921.43 229.17h3.4v3.4h-3.4zM929.69 232.8h3.4v3.4h-3.4zM919.23 236.33h3.4v3.4h-3.4zM935.74 239.96h3.4v3.4h-3.4zM925.18 243.81h3.4v3.4h-3.4zM921.98 247.55h3.4v3.4h-3.4zM923.08 251.41h3.4v3.4h-3.4zM920.55 255.04h3.4v3.4h-3.4zM929.58 258.67h3.4v3.4h-3.4zM921.32 262.41h3.4v3.4h-3.4zM915.6 266.05h3.4v3.4h-3.4zM925.51 269.9h3.4v3.4h-3.4zM927.16 273.42h3.4v3.4h-3.4zM921.65 277.28h3.4v3.4h-3.4zM914.83 280.91h3.4v3.4h-3.4zM904.26 284.76h3.4v3.4h-3.4zM920.55 288.39h3.4v3.4h-3.4zM927.71 291.92h3.4v3.4h-3.4zM921.98 295.77h3.4v3.4h-3.4zM931.78 299.62h3.4v3.4h-3.4zM907.67 303.26h3.4v3.4h-3.4zM918.35 306.78h3.4v3.4h-3.4z"/>
<path d="M853.4 100.4V323.4M997.4 100.4V323.4M852.8 323.4H998M849.2 100.4h4.2M851.2 107.83h2.2M851.2 115.27h2.2M851.2 122.7h2.2M851.2 130.13h2.2M849.2 137.57h4.2M851.2 145h2.2M851.2 152.43h2.2M851.2 159.87h2.2M851.2 167.3h2.2M849.2 174.73h4.2M851.2 182.17h2.2M851.2 189.6h2.2M851.2 197.03h2.2M851.2 204.47h2.2M849.2 211.9h4.2M851.2 219.33h2.2M851.2 226.77h2.2M851.2 234.2h2.2M851.2 241.63h2.2M849.2 249.07h4.2M851.2 256.5h2.2M851.2 263.93h2.2M851.2 271.37h2.2M851.2 278.8h2.2M849.2 286.23h4.2M851.2 293.67h2.2M851.2 301.1h2.2M851.2 308.53h2.2M851.2 315.97h2.2M849.2 323.4h4.2M858.94 323.4v2M867.25 323.4v2M875.55 323.4v3.6M883.86 323.4v2M892.17 323.4v2M900.48 323.4v2M908.78 323.4v3.6M917.09 323.4v2M925.4 323.4v2M933.71 323.4v2M942.02 323.4v3.6M950.32 323.4v2M958.63 323.4v2M966.94 323.4v2M975.25 323.4v3.6M983.55 323.4v2M991.86 323.4v2" fill="none" stroke="#000" stroke-width="1.15"/>
<path d="M852.9 100.4H997.9M853.4 100.4v-1.8M871.4 100.4v-3.2M889.4 100.4v-1.8M907.4 100.4v-3.2M925.4 100.4v-1.8M943.4 100.4v-3.2M961.4 100.4v-1.8M979.4 100.4v-3.2M997.4 100.4v-1.8" fill="none" stroke="#f00" stroke-width="1.15"/>
<path d="M852.9 344.2H997.9M853.4 344.2v3.0M861.71 344.2v1.8M870.02 344.2v1.8M878.32 344.2v1.8M886.63 344.2v3.0M894.94 344.2v1.8M903.25 344.2v1.8M911.55 344.2v1.8M919.86 344.2v3.0M928.17 344.2v1.8M936.48 344.2v1.8M944.78 344.2v1.8M953.09 344.2v3.0M961.4 344.2v1.8M969.71 344.2v1.8M978.02 344.2v1.8M986.32 344.2v3.0M994.63 344.2v1.8" fill="none" stroke="#00f" stroke-width="1.15"/>
<text transform="translate(846.85 104.7) scale(0.97 1.04)" class="n e">0</text>
<text transform="translate(846.85 141.87) scale(0.97 1.04)" class="n e">10</text>
<text transform="translate(846.85 179.03) scale(0.97 1.04)" class="n e">20</text>
<text transform="translate(846.85 216.2) scale(0.97 1.04)" class="n e">30</text>
<text transform="translate(846.85 253.37) scale(0.97 1.04)" class="n e">40</text>
<text transform="translate(846.85 290.53) scale(0.97 1.04)" class="n e">50</text>
<text transform="translate(846.85 327.7) scale(0.97 1.04)" class="n e">60</text>
<text transform="translate(871.4 92.7) scale(0.95 1.05)" class="n r">0.2</text>
<text transform="translate(907.4 92.7) scale(0.95 1.05)" class="n r">0.4</text>
<text transform="translate(943.4 92.7) scale(0.95 1.05)" class="n r">0.6</text>
<text transform="translate(979.4 92.7) scale(0.95 1.05)" class="n r">0.8</text>
<text transform="translate(875.55 340.8) scale(0.92 1.06)" class="n">0.3</text>
<text transform="translate(908.78 340.8) scale(0.92 1.06)" class="n">0.6</text>
<text transform="translate(942.02 340.8) scale(0.92 1.06)" class="n">0.9</text>
<text transform="translate(975.25 340.8) scale(0.92 1.06)" class="n">1.2</text>
<text transform="translate(853.4 361.75) scale(0.94 1)" class="n b">0.3</text>
<text transform="translate(886.63 361.75) scale(0.94 1)" class="n b">0.6</text>
<text transform="translate(919.86 361.75) scale(0.94 1)" class="n b">0.9</text>
<text transform="translate(953.09 361.75) scale(0.94 1)" class="n b">1.2</text>
<text transform="translate(986.32 361.75) scale(0.94 1)" class="n b">1.5</text>
<text transform="translate(910.7 77.9) scale(1 1)" class="s" font-size="20">T06</text>
<path d="M1068.85 104.95 L1066.21 108.81 L1079.86 112.33 L1078.87 116.29 L1076.01 119.82 L1062.58 123.45 L1065.88 127.19 L1069.4 130.82 L1067.53 134.46 L1069.73 138.31 L1071.93 142.05 L1068.41 145.68 L1079.09 149.32 L1082.94 153.17 L1080.74 156.91 L1041.88 160.55 L1036.38 164.4 L1035.83 168.03 L1034.17 171.55 L1048.82 175.41 L1047.71 179.04 L1058.17 182.78 L1032.08 186.42 L1049.15 190.27 L1068.3 194.12" fill="none" stroke="#000" stroke-width="0.6"/>
<path fill="#000" d="M1067.15 103.25h3.4v3.4h-3.4zM1064.51 107.11h3.4v3.4h-3.4zM1078.16 110.63h3.4v3.4h-3.4zM1077.17 114.59h3.4v3.4h-3.4zM1074.31 118.12h3.4v3.4h-3.4zM1060.88 121.75h3.4v3.4h-3.4zM1064.18 125.49h3.4v3.4h-3.4zM1067.7 129.12h3.4v3.4h-3.4zM1065.83 132.76h3.4v3.4h-3.4zM1068.03 136.61h3.4v3.4h-3.4zM1070.23 140.35h3.4v3.4h-3.4zM1066.71 143.98h3.4v3.4h-3.4zM1077.39 147.62h3.4v3.4h-3.4zM1081.24 151.47h3.4v3.4h-3.4zM1079.04 155.21h3.4v3.4h-3.4zM1040.18 158.85h3.4v3.4h-3.4zM1034.68 162.7h3.4v3.4h-3.4zM1034.13 166.33h3.4v3.4h-3.4zM1032.47 169.85h3.4v3.4h-3.4zM1047.12 173.71h3.4v3.4h-3.4zM1046.01 177.34h3.4v3.4h-3.4zM1056.47 181.08h3.4v3.4h-3.4zM1030.38 184.72h3.4v3.4h-3.4zM1047.45 188.57h3.4v3.4h-3.4zM1066.6 192.42h3.4v3.4h-3.4z"/>
<path d="M1108.48 108.81 L1094.17 116.18 L1107.93 123.45 L1090.65 130.82 L1101.32 138.31 L1113.43 145.68 L1090.43 153.17 L1132.15 160.55 L1159.78 167.92 L1146.46 175.41 L1144.26 182.78 L1131.38 190.27 L1118.17 194.12" fill="none" stroke="#00f" stroke-width="0.6" stroke-dasharray="2.2,1.3,0.7,1.3" stroke-opacity="0.55"/>
<path fill="#00f" fill-opacity="0.78" d="M1106.78 107.11h3.4v3.4h-3.4zM1092.47 114.48h3.4v3.4h-3.4zM1106.23 121.75h3.4v3.4h-3.4zM1088.95 129.12h3.4v3.4h-3.4zM1099.62 136.61h3.4v3.4h-3.4zM1111.73 143.98h3.4v3.4h-3.4zM1088.73 151.47h3.4v3.4h-3.4zM1130.45 158.85h3.4v3.4h-3.4zM1158.08 166.22h3.4v3.4h-3.4zM1144.76 173.71h3.4v3.4h-3.4zM1142.56 181.08h3.4v3.4h-3.4zM1129.68 188.57h3.4v3.4h-3.4zM1116.47 192.42h3.4v3.4h-3.4z"/>
<path d="M1090.65 108.81 L1098.9 116.18 L1084.37 123.45 L1082.94 130.82 L1091.53 138.31 L1098.68 145.68 L1101.44 153.17 L1059.27 160.55 L1054.65 167.92 L1079.09 175.41 L1099.23 182.78 L1073.03 190.27 L1101.66 194.12" fill="none" stroke="#f00" stroke-width="0.6"/>
<path fill="#f00" d="M1088.95 107.11h3.4v3.4h-3.4zM1097.2 114.48h3.4v3.4h-3.4zM1082.67 121.75h3.4v3.4h-3.4zM1081.24 129.12h3.4v3.4h-3.4zM1089.83 136.61h3.4v3.4h-3.4zM1096.98 143.98h3.4v3.4h-3.4zM1099.74 151.47h3.4v3.4h-3.4zM1057.57 158.85h3.4v3.4h-3.4zM1052.95 166.22h3.4v3.4h-3.4zM1077.39 173.71h3.4v3.4h-3.4zM1097.53 181.08h3.4v3.4h-3.4zM1071.33 188.57h3.4v3.4h-3.4zM1099.96 192.42h3.4v3.4h-3.4z"/>
<path d="M1028.4 101.4V323.4M1172.3 101.4V323.4M1027.8 323.4H1172.9M1024.2 101.4h4.2M1026.2 108.8h2.2M1026.2 116.2h2.2M1026.2 123.6h2.2M1026.2 131h2.2M1024.2 138.4h4.2M1026.2 145.8h2.2M1026.2 153.2h2.2M1026.2 160.6h2.2M1026.2 168h2.2M1024.2 175.4h4.2M1026.2 182.8h2.2M1026.2 190.2h2.2M1026.2 197.6h2.2M1026.2 205h2.2M1024.2 212.4h4.2M1026.2 219.8h2.2M1026.2 227.2h2.2M1026.2 234.6h2.2M1026.2 242h2.2M1024.2 249.4h4.2M1026.2 256.8h2.2M1026.2 264.2h2.2M1026.2 271.6h2.2M1026.2 279h2.2M1024.2 286.4h4.2M1026.2 293.8h2.2M1026.2 301.2h2.2M1026.2 308.6h2.2M1026.2 316h2.2M1024.2 323.4h4.2M1033.93 323.4v2M1042.24 323.4v2M1050.54 323.4v3.6M1058.84 323.4v2M1067.14 323.4v2M1075.44 323.4v2M1083.75 323.4v3.6M1092.05 323.4v2M1100.35 323.4v2M1108.65 323.4v2M1116.95 323.4v3.6M1125.26 323.4v2M1133.56 323.4v2M1141.86 323.4v2M1150.16 323.4v3.6M1158.46 323.4v2M1166.77 323.4v2" fill="none" stroke="#000" stroke-width="1.15"/>
<path d="M1027.9 101.4H1172.8M1028.4 101.4v-1.8M1046.39 101.4v-3.2M1064.38 101.4v-1.8M1082.36 101.4v-3.2M1100.35 101.4v-1.8M1118.34 101.4v-3.2M1136.33 101.4v-1.8M1154.31 101.4v-3.2M1172.3 101.4v-1.8" fill="none" stroke="#f00" stroke-width="1.15"/>
<path d="M1027.9 346.1H1172.8M1028.4 346.1v3.0M1036.7 346.1v1.8M1045 346.1v1.8M1053.31 346.1v1.8M1061.61 346.1v3.0M1069.91 346.1v1.8M1078.21 346.1v1.8M1086.51 346.1v1.8M1094.82 346.1v3.0M1103.12 346.1v1.8M1111.42 346.1v1.8M1119.72 346.1v1.8M1128.02 346.1v3.0M1136.33 346.1v1.8M1144.63 346.1v1.8M1152.93 346.1v1.8M1161.23 346.1v3.0M1169.53 346.1v1.8" fill="none" stroke="#00f" stroke-width="1.15"/>
<text transform="translate(1021.85 105.7) scale(0.97 1.04)" class="n e">0</text>
<text transform="translate(1021.85 142.7) scale(0.97 1.04)" class="n e">10</text>
<text transform="translate(1021.85 179.7) scale(0.97 1.04)" class="n e">20</text>
<text transform="translate(1021.85 216.7) scale(0.97 1.04)" class="n e">30</text>
<text transform="translate(1021.85 253.7) scale(0.97 1.04)" class="n e">40</text>
<text transform="translate(1021.85 290.7) scale(0.97 1.04)" class="n e">50</text>
<text transform="translate(1021.85 327.7) scale(0.97 1.04)" class="n e">60</text>
<text transform="translate(1046.39 92.7) scale(0.95 1.05)" class="n r">0.2</text>
<text transform="translate(1082.36 92.7) scale(0.95 1.05)" class="n r">0.4</text>
<text transform="translate(1118.34 92.7) scale(0.95 1.05)" class="n r">0.6</text>
<text transform="translate(1154.31 92.7) scale(0.95 1.05)" class="n r">0.8</text>
<text transform="translate(1051.04 340.8) scale(0.92 1.06)" class="n">0.3</text>
<text transform="translate(1084.25 340.8) scale(0.92 1.06)" class="n">0.6</text>
<text transform="translate(1117.45 340.8) scale(0.92 1.06)" class="n">0.9</text>
<text transform="translate(1150.66 340.8) scale(0.92 1.06)" class="n">1.2</text>
<text transform="translate(1028.4 363.05) scale(0.94 1)" class="n b">0.3</text>
<text transform="translate(1061.61 363.05) scale(0.94 1)" class="n b">0.6</text>
<text transform="translate(1094.82 363.05) scale(0.94 1)" class="n b">0.9</text>
<text transform="translate(1128.02 363.05) scale(0.94 1)" class="n b">1.2</text>
<text transform="translate(1161.23 363.05) scale(0.94 1)" class="n b">1.5</text>
<text transform="translate(1091.43 78.7) scale(0.96 1)" class="s" font-size="20">E1</text>
<path d="M577.32 425.34 L559.14 428.98 L565.24 432.5 L569.11 436.25 L560.66 440.01 L571.69 443.64 L574.98 447.4 L573.8 451.27 L568.17 455.02 L564.65 458.78 L547.41 462.3 L534.15 465.93 L524.53 469.69 L536.85 473.44 L522.42 477.31 L555.03 481.07 L537.67 484.59 L551.28 488.1 L553.04 491.98 L553.86 495.73 L557.61 499.37 L560.55 503.12 L554.45 506.99 L558.2 510.51 L554.45 514.5 L554.8 518.14 L552.1 521.66 L550.69 525.41 L559.59 529.36 L543.63 532.99 L542.75 536.73 L531.52 540.37 L532.62 544 L516.66 547.74 L515.01 551.59 L517.21 555.23 L505.1 558.75 L529.1 562.6 L530.75 566.24 L542.53 570.09" fill="none" stroke="#000" stroke-width="0.6"/>
<path fill="#000" d="M575.62 423.64h3.4v3.4h-3.4zM557.44 427.28h3.4v3.4h-3.4zM563.54 430.8h3.4v3.4h-3.4zM567.41 434.55h3.4v3.4h-3.4zM558.96 438.31h3.4v3.4h-3.4zM569.99 441.94h3.4v3.4h-3.4zM573.28 445.7h3.4v3.4h-3.4zM572.1 449.57h3.4v3.4h-3.4zM566.47 453.32h3.4v3.4h-3.4zM562.95 457.08h3.4v3.4h-3.4zM545.71 460.6h3.4v3.4h-3.4zM532.45 464.23h3.4v3.4h-3.4zM522.83 467.99h3.4v3.4h-3.4zM535.15 471.74h3.4v3.4h-3.4zM520.72 475.61h3.4v3.4h-3.4zM553.33 479.37h3.4v3.4h-3.4zM535.97 482.89h3.4v3.4h-3.4zM549.58 486.4h3.4v3.4h-3.4zM551.34 490.28h3.4v3.4h-3.4zM552.16 494.03h3.4v3.4h-3.4zM555.91 497.67h3.4v3.4h-3.4zM558.85 501.42h3.4v3.4h-3.4zM552.75 505.29h3.4v3.4h-3.4zM556.5 508.81h3.4v3.4h-3.4zM552.75 512.8h3.4v3.4h-3.4zM553.1 516.44h3.4v3.4h-3.4zM550.4 519.96h3.4v3.4h-3.4zM548.99 523.71h3.4v3.4h-3.4zM557.89 527.66h3.4v3.4h-3.4zM541.93 531.29h3.4v3.4h-3.4zM541.05 535.03h3.4v3.4h-3.4zM529.82 538.67h3.4v3.4h-3.4zM530.92 542.3h3.4v3.4h-3.4zM514.96 546.04h3.4v3.4h-3.4zM513.31 549.89h3.4v3.4h-3.4zM515.51 553.53h3.4v3.4h-3.4zM503.4 557.05h3.4v3.4h-3.4zM527.4 560.9h3.4v3.4h-3.4zM529.05 564.54h3.4v3.4h-3.4zM540.83 568.39h3.4v3.4h-3.4z"/>
<path d="M556.79 428.98 L561.25 436.25 L561.13 443.64 L564.18 451.27 L568.88 458.78 L588.47 465.93 L611.58 473.44 L574.04 481.07 L582.25 488.1 L584.71 495.73 L570.64 503.12 L569.93 510.51 L580.84 518.14 L584.71 525.41 L590.2 532.99 L607.7 540.37 L635.33 547.74 L630.38 555.23 L619.37 562.6 L603.41 570.09" fill="none" stroke="#00f" stroke-width="0.6" stroke-dasharray="2.2,1.3,0.7,1.3" stroke-opacity="0.55"/>
<path fill="#00f" fill-opacity="0.78" d="M555.09 427.28h3.4v3.4h-3.4zM559.55 434.55h3.4v3.4h-3.4zM559.43 441.94h3.4v3.4h-3.4zM562.48 449.57h3.4v3.4h-3.4zM567.18 457.08h3.4v3.4h-3.4zM586.77 464.23h3.4v3.4h-3.4zM609.88 471.74h3.4v3.4h-3.4zM572.34 479.37h3.4v3.4h-3.4zM580.55 486.4h3.4v3.4h-3.4zM583.01 494.03h3.4v3.4h-3.4zM568.94 501.42h3.4v3.4h-3.4zM568.23 508.81h3.4v3.4h-3.4zM579.14 516.44h3.4v3.4h-3.4zM583.01 523.71h3.4v3.4h-3.4zM588.5 531.29h3.4v3.4h-3.4zM606 538.67h3.4v3.4h-3.4zM633.63 546.04h3.4v3.4h-3.4zM628.68 553.53h3.4v3.4h-3.4zM617.67 560.9h3.4v3.4h-3.4zM601.71 568.39h3.4v3.4h-3.4z"/>
<path d="M571.1 428.98 L588.7 436.25 L592.93 443.64 L598.79 451.27 L591.05 458.78 L558.2 465.93 L578.73 473.44 L581.43 481.07 L583.42 488.1 L589.29 495.73 L587.06 503.12 L582.37 510.51 L587.65 518.14 L582.84 525.41 L576.66 532.99 L565.1 540.37 L545.83 547.74 L544.73 555.23 L566.75 562.6 L584.69 570.09" fill="none" stroke="#f00" stroke-width="0.6"/>
<path fill="#f00" d="M569.4 427.28h3.4v3.4h-3.4zM587 434.55h3.4v3.4h-3.4zM591.23 441.94h3.4v3.4h-3.4zM597.09 449.57h3.4v3.4h-3.4zM589.35 457.08h3.4v3.4h-3.4zM556.5 464.23h3.4v3.4h-3.4zM577.03 471.74h3.4v3.4h-3.4zM579.73 479.37h3.4v3.4h-3.4zM581.72 486.4h3.4v3.4h-3.4zM587.59 494.03h3.4v3.4h-3.4zM585.36 501.42h3.4v3.4h-3.4zM580.67 508.81h3.4v3.4h-3.4zM585.95 516.44h3.4v3.4h-3.4zM581.14 523.71h3.4v3.4h-3.4zM574.96 531.29h3.4v3.4h-3.4zM563.4 538.67h3.4v3.4h-3.4zM544.13 546.04h3.4v3.4h-3.4zM543.03 553.53h3.4v3.4h-3.4zM565.05 560.9h3.4v3.4h-3.4zM582.99 568.39h3.4v3.4h-3.4z"/>
<path d="M503.2 421.1V644.4M646.5 421.1V644.4M502.6 644.4H647.1M499 421.1h4.2M501 428.54h2.2M501 435.99h2.2M501 443.43h2.2M501 450.87h2.2M499 458.32h4.2M501 465.76h2.2M501 473.2h2.2M501 480.65h2.2M501 488.09h2.2M499 495.53h4.2M501 502.98h2.2M501 510.42h2.2M501 517.86h2.2M501 525.31h2.2M499 532.75h4.2M501 540.19h2.2M501 547.64h2.2M501 555.08h2.2M501 562.52h2.2M499 569.97h4.2M501 577.41h2.2M501 584.85h2.2M501 592.3h2.2M501 599.74h2.2M499 607.18h4.2M501 614.63h2.2M501 622.07h2.2M501 629.51h2.2M501 636.96h2.2M499 644.4h4.2M508.71 644.4v2M516.98 644.4v2M525.25 644.4v3.6M533.51 644.4v2M541.78 644.4v2M550.05 644.4v2M558.32 644.4v3.6M566.58 644.4v2M574.85 644.4v2M583.12 644.4v2M591.38 644.4v3.6M599.65 644.4v2M607.92 644.4v2M616.19 644.4v2M624.45 644.4v3.6M632.72 644.4v2M640.99 644.4v2" fill="none" stroke="#000" stroke-width="1.15"/>
<path d="M502.7 421.1H647M503.2 421.1v-1.8M521.11 421.1v-3.2M539.02 421.1v-1.8M556.94 421.1v-3.2M574.85 421.1v-1.8M592.76 421.1v-3.2M610.67 421.1v-1.8M628.59 421.1v-3.2M646.5 421.1v-1.8" fill="none" stroke="#f00" stroke-width="1.15"/>
<path d="M502.7 665.6H647M503.2 665.6v3.0M511.47 665.6v1.8M519.73 665.6v1.8M528 665.6v1.8M536.27 665.6v3.0M544.54 665.6v1.8M552.8 665.6v1.8M561.07 665.6v1.8M569.34 665.6v3.0M577.61 665.6v1.8M585.87 665.6v1.8M594.14 665.6v1.8M602.41 665.6v3.0M610.67 665.6v1.8M618.94 665.6v1.8M627.21 665.6v1.8M635.48 665.6v3.0M643.74 665.6v1.8" fill="none" stroke="#00f" stroke-width="1.15"/>
<text transform="translate(496.65 425.4) scale(0.97 1.04)" class="n e">0</text>
<text transform="translate(496.65 462.62) scale(0.97 1.04)" class="n e">10</text>
<text transform="translate(496.65 499.83) scale(0.97 1.04)" class="n e">20</text>
<text transform="translate(496.65 537.05) scale(0.97 1.04)" class="n e">30</text>
<text transform="translate(496.65 574.27) scale(0.97 1.04)" class="n e">40</text>
<text transform="translate(496.65 611.48) scale(0.97 1.04)" class="n e">50</text>
<text transform="translate(496.65 648.7) scale(0.97 1.04)" class="n e">60</text>
<text transform="translate(521.11 409.8) scale(0.95 1.05)" class="n r">0.2</text>
<text transform="translate(556.94 409.8) scale(0.95 1.05)" class="n r">0.4</text>
<text transform="translate(592.76 409.8) scale(0.95 1.05)" class="n r">0.6</text>
<text transform="translate(628.59 409.8) scale(0.95 1.05)" class="n r">0.8</text>
<text transform="translate(524.85 661.2) scale(0.92 1.06)" class="n">0.3</text>
<text transform="translate(557.92 661.2) scale(0.92 1.06)" class="n">0.6</text>
<text transform="translate(590.98 661.2) scale(0.92 1.06)" class="n">0.9</text>
<text transform="translate(624.05 661.2) scale(0.92 1.06)" class="n">1.2</text>
<text transform="translate(503.2 683.05) scale(0.94 1)" class="n b">0.3</text>
<text transform="translate(536.27 683.05) scale(0.94 1)" class="n b">0.6</text>
<text transform="translate(569.34 683.05) scale(0.94 1)" class="n b">0.9</text>
<text transform="translate(602.41 683.05) scale(0.94 1)" class="n b">1.2</text>
<text transform="translate(635.48 683.05) scale(0.94 1)" class="n b">1.5</text>
<text transform="translate(566.54 397.2) scale(0.93 1)" class="s" font-size="20">E3</text>
<text transform="translate(474.5 577.99) rotate(-90) scale(1.04 1)" class="s" font-size="19">Depth (cm)</text>
<path d="M746.43 426.46 L755.35 430.14 L759.81 433.93 L750.67 437.6 L752.34 441.28 L749.78 445.07 L746.43 448.75 L743.98 452.43 L743.87 456.22 L743.42 459.9 L755.57 463.57 L743.42 467.36 L739.74 471.04 L742.31 474.72 L741.75 478.51 L738.3 482.19 L739.74 485.87 L742.87 489.65 L741.19 493.33 L739.19 497.01 L747.77 500.8 L748.1 504.48 L745.54 508.16 L745.54 511.95 L744.43 515.62 L744.2 519.3 L743.09 523.09 L742.2 526.77 L738.54 530.57 L738.76 534.31 L734.79 537.94 L737.97 541.68 L736.04 545.54 L723 549.28 L725.27 552.91 L734.57 556.65 L730.03 560.39 L739.67 564.02 L736.04 567.76 L733.66 571.39 L733.43 575.13 L733.09 578.76 L735.7 582.51 L738.76 586.36 L736.5 590.1 L727.2 593.73 L730.6 597.48 L731.51 601.22 L730.94 604.85 L730.6 608.48 L731.17 612.22 L727.54 615.85 L726.97 619.59 L724.02 623.33 L726.4 627.19 L727.2 630.7 L729.69 634.33 L731.39 638.07" fill="none" stroke="#000" stroke-width="0.6"/>
<path fill="#000" d="M744.73 424.76h3.4v3.4h-3.4zM753.65 428.44h3.4v3.4h-3.4zM758.11 432.23h3.4v3.4h-3.4zM748.97 435.9h3.4v3.4h-3.4zM750.64 439.58h3.4v3.4h-3.4zM748.08 443.37h3.4v3.4h-3.4zM744.73 447.05h3.4v3.4h-3.4zM742.28 450.73h3.4v3.4h-3.4zM742.17 454.52h3.4v3.4h-3.4zM741.72 458.2h3.4v3.4h-3.4zM753.87 461.87h3.4v3.4h-3.4zM741.72 465.66h3.4v3.4h-3.4zM738.04 469.34h3.4v3.4h-3.4zM740.61 473.02h3.4v3.4h-3.4zM740.05 476.81h3.4v3.4h-3.4zM736.6 480.49h3.4v3.4h-3.4zM738.04 484.17h3.4v3.4h-3.4zM741.17 487.95h3.4v3.4h-3.4zM739.49 491.63h3.4v3.4h-3.4zM737.49 495.31h3.4v3.4h-3.4zM746.07 499.1h3.4v3.4h-3.4zM746.4 502.78h3.4v3.4h-3.4zM743.84 506.46h3.4v3.4h-3.4zM743.84 510.25h3.4v3.4h-3.4zM742.73 513.92h3.4v3.4h-3.4zM742.5 517.6h3.4v3.4h-3.4zM741.39 521.39h3.4v3.4h-3.4zM740.5 525.07h3.4v3.4h-3.4zM736.84 528.87h3.4v3.4h-3.4zM737.06 532.61h3.4v3.4h-3.4zM733.09 536.24h3.4v3.4h-3.4zM736.27 539.98h3.4v3.4h-3.4zM734.34 543.84h3.4v3.4h-3.4zM721.3 547.58h3.4v3.4h-3.4zM723.57 551.21h3.4v3.4h-3.4zM732.87 554.95h3.4v3.4h-3.4zM728.33 558.69h3.4v3.4h-3.4zM737.97 562.32h3.4v3.4h-3.4zM734.34 566.06h3.4v3.4h-3.4zM731.96 569.69h3.4v3.4h-3.4zM731.73 573.43h3.4v3.4h-3.4zM731.39 577.06h3.4v3.4h-3.4zM734 580.81h3.4v3.4h-3.4zM737.06 584.66h3.4v3.4h-3.4zM734.8 588.4h3.4v3.4h-3.4zM725.5 592.03h3.4v3.4h-3.4zM728.9 595.78h3.4v3.4h-3.4zM729.81 599.52h3.4v3.4h-3.4zM729.24 603.15h3.4v3.4h-3.4zM728.9 606.78h3.4v3.4h-3.4zM729.47 610.52h3.4v3.4h-3.4zM725.84 614.15h3.4v3.4h-3.4zM725.27 617.89h3.4v3.4h-3.4zM722.32 621.63h3.4v3.4h-3.4zM724.7 625.49h3.4v3.4h-3.4zM725.5 629h3.4v3.4h-3.4zM727.99 632.63h3.4v3.4h-3.4zM729.69 636.37h3.4v3.4h-3.4z"/>
<path d="M719.91 426.46 L724.47 430.14 L726.7 433.93 L727.15 437.6 L731.39 441.28 L730.27 445.07 L738.41 448.75 L738.63 452.43 L738.85 456.22 L740.08 459.9 L745.65 463.57 L743.42 467.36 L739.74 471.04 L745.54 474.72 L741.75 478.51 L741.42 482.19 L739.74 485.87 L739.74 489.65 L740.3 493.33 L739.19 497.01 L735.29 500.8 L733.84 504.48 L730.49 508.16 L733.61 511.95 L734.17 515.62 L744.54 519.3 L743.09 523.09 L742.75 526.77 L745.91 530.57 L746.7 534.31 L745.91 537.94 L738.76 541.68 L753.51 545.54 L759.74 549.28 L754.98 552.91 L748.52 556.65 L744.77 560.39 L741.94 564.02 L742.51 567.76 L744.43 571.39 L752.71 575.13 L750.44 578.76 L751.35 582.51 L751.92 586.36 L745.57 590.1 L750.22 593.73 L747.95 597.48 L754.07 601.22 L758.38 604.85 L757.02 608.48 L758.38 612.22 L762.35 615.85 L772.9 619.59 L768.59 623.33 L769.72 627.19 L766.89 630.7 L765.19 634.33 L747.95 638.07" fill="none" stroke="#00f" stroke-width="0.6" stroke-dasharray="2.2,1.3,0.7,1.3" stroke-opacity="0.55"/>
<path fill="#00f" fill-opacity="0.78" d="M718.21 424.76h3.4v3.4h-3.4zM722.77 428.44h3.4v3.4h-3.4zM725 432.23h3.4v3.4h-3.4zM725.45 435.9h3.4v3.4h-3.4zM729.69 439.58h3.4v3.4h-3.4zM728.57 443.37h3.4v3.4h-3.4zM736.71 447.05h3.4v3.4h-3.4zM736.93 450.73h3.4v3.4h-3.4zM737.15 454.52h3.4v3.4h-3.4zM738.38 458.2h3.4v3.4h-3.4zM743.95 461.87h3.4v3.4h-3.4zM741.72 465.66h3.4v3.4h-3.4zM738.04 469.34h3.4v3.4h-3.4zM743.84 473.02h3.4v3.4h-3.4zM740.05 476.81h3.4v3.4h-3.4zM739.72 480.49h3.4v3.4h-3.4zM738.04 484.17h3.4v3.4h-3.4zM738.04 487.95h3.4v3.4h-3.4zM738.6 491.63h3.4v3.4h-3.4zM737.49 495.31h3.4v3.4h-3.4zM733.59 499.1h3.4v3.4h-3.4zM732.14 502.78h3.4v3.4h-3.4zM728.79 506.46h3.4v3.4h-3.4zM731.91 510.25h3.4v3.4h-3.4zM732.47 513.92h3.4v3.4h-3.4zM742.84 517.6h3.4v3.4h-3.4zM741.39 521.39h3.4v3.4h-3.4zM741.05 525.07h3.4v3.4h-3.4zM744.21 528.87h3.4v3.4h-3.4zM745 532.61h3.4v3.4h-3.4zM744.21 536.24h3.4v3.4h-3.4zM737.06 539.98h3.4v3.4h-3.4zM751.81 543.84h3.4v3.4h-3.4zM758.04 547.58h3.4v3.4h-3.4zM753.28 551.21h3.4v3.4h-3.4zM746.82 554.95h3.4v3.4h-3.4zM743.07 558.69h3.4v3.4h-3.4zM740.24 562.32h3.4v3.4h-3.4zM740.81 566.06h3.4v3.4h-3.4zM742.73 569.69h3.4v3.4h-3.4zM751.01 573.43h3.4v3.4h-3.4zM748.74 577.06h3.4v3.4h-3.4zM749.65 580.81h3.4v3.4h-3.4zM750.22 584.66h3.4v3.4h-3.4zM743.87 588.4h3.4v3.4h-3.4zM748.52 592.03h3.4v3.4h-3.4zM746.25 595.78h3.4v3.4h-3.4zM752.37 599.52h3.4v3.4h-3.4zM756.68 603.15h3.4v3.4h-3.4zM755.32 606.78h3.4v3.4h-3.4zM756.68 610.52h3.4v3.4h-3.4zM760.65 614.15h3.4v3.4h-3.4zM771.2 617.89h3.4v3.4h-3.4zM766.89 621.63h3.4v3.4h-3.4zM768.02 625.49h3.4v3.4h-3.4zM765.19 629h3.4v3.4h-3.4zM763.49 632.63h3.4v3.4h-3.4zM746.25 636.37h3.4v3.4h-3.4z"/>
<path d="M746.43 426.46 L762.37 430.14 L770.17 433.93 L760.36 437.6 L767.94 441.28 L762.82 445.07 L768.17 448.75 L765.38 452.43 L765.94 456.22 L767.05 459.9 L790.68 463.57 L770.17 467.36 L761.26 471.04 L769.5 474.72 L765.38 478.51 L760.36 482.19 L760.92 485.87 L764.27 489.65 L763.15 493.33 L759.47 497.01 L767.05 500.8 L765.38 504.48 L758.36 508.16 L761.7 511.95 L760.59 515.62 L772.29 519.3 L769.5 523.09 L767.39 526.77 L764.62 530.57 L765.75 534.31 L759.29 537.94 L757.25 541.68 L769.38 545.54 L753.85 549.28 L754.41 552.91 L761.79 556.65 L751.58 560.39 L763.26 564.02 L758.61 567.76 L756.46 571.39 L765.41 575.13 L762.13 578.76 L767.23 582.51 L771.42 586.36 L762.13 590.1 L753.51 593.73 L755.32 597.48 L763.26 601.22 L765.53 604.85 L764.28 608.48 L766.32 612.22 L764.85 615.85 L772.33 619.59 L762.92 623.33 L768.25 627.19 L766.55 630.7 L769.16 634.33 L757.48 638.07" fill="none" stroke="#f00" stroke-width="0.6"/>
<path fill="#f00" d="M744.73 424.76h3.4v3.4h-3.4zM760.67 428.44h3.4v3.4h-3.4zM768.47 432.23h3.4v3.4h-3.4zM758.66 435.9h3.4v3.4h-3.4zM766.24 439.58h3.4v3.4h-3.4zM761.12 443.37h3.4v3.4h-3.4zM766.47 447.05h3.4v3.4h-3.4zM763.68 450.73h3.4v3.4h-3.4zM764.24 454.52h3.4v3.4h-3.4zM765.35 458.2h3.4v3.4h-3.4zM788.98 461.87h3.4v3.4h-3.4zM768.47 465.66h3.4v3.4h-3.4zM759.56 469.34h3.4v3.4h-3.4zM767.8 473.02h3.4v3.4h-3.4zM763.68 476.81h3.4v3.4h-3.4zM758.66 480.49h3.4v3.4h-3.4zM759.22 484.17h3.4v3.4h-3.4zM762.57 487.95h3.4v3.4h-3.4zM761.45 491.63h3.4v3.4h-3.4zM757.77 495.31h3.4v3.4h-3.4zM765.35 499.1h3.4v3.4h-3.4zM763.68 502.78h3.4v3.4h-3.4zM756.66 506.46h3.4v3.4h-3.4zM760 510.25h3.4v3.4h-3.4zM758.89 513.92h3.4v3.4h-3.4zM770.59 517.6h3.4v3.4h-3.4zM767.8 521.39h3.4v3.4h-3.4zM765.69 525.07h3.4v3.4h-3.4zM762.92 528.87h3.4v3.4h-3.4zM764.05 532.61h3.4v3.4h-3.4zM757.59 536.24h3.4v3.4h-3.4zM755.55 539.98h3.4v3.4h-3.4zM767.68 543.84h3.4v3.4h-3.4zM752.15 547.58h3.4v3.4h-3.4zM752.71 551.21h3.4v3.4h-3.4zM760.09 554.95h3.4v3.4h-3.4zM749.88 558.69h3.4v3.4h-3.4zM761.56 562.32h3.4v3.4h-3.4zM756.91 566.06h3.4v3.4h-3.4zM754.76 569.69h3.4v3.4h-3.4zM763.71 573.43h3.4v3.4h-3.4zM760.43 577.06h3.4v3.4h-3.4zM765.53 580.81h3.4v3.4h-3.4zM769.72 584.66h3.4v3.4h-3.4zM760.43 588.4h3.4v3.4h-3.4zM751.81 592.03h3.4v3.4h-3.4zM753.62 595.78h3.4v3.4h-3.4zM761.56 599.52h3.4v3.4h-3.4zM763.83 603.15h3.4v3.4h-3.4zM762.58 606.78h3.4v3.4h-3.4zM764.62 610.52h3.4v3.4h-3.4zM763.15 614.15h3.4v3.4h-3.4zM770.63 617.89h3.4v3.4h-3.4zM761.22 621.63h3.4v3.4h-3.4zM766.55 625.49h3.4v3.4h-3.4zM764.85 629h3.4v3.4h-3.4zM767.46 632.63h3.4v3.4h-3.4zM755.78 636.37h3.4v3.4h-3.4z"/>
<path d="M678.3 422.4V645.4M822.4 422.4V645.4M677.7 645.4H823M674.1 422.4h4.2M676.1 429.83h2.2M676.1 437.27h2.2M676.1 444.7h2.2M676.1 452.13h2.2M674.1 459.57h4.2M676.1 467h2.2M676.1 474.43h2.2M676.1 481.87h2.2M676.1 489.3h2.2M674.1 496.73h4.2M676.1 504.17h2.2M676.1 511.6h2.2M676.1 519.03h2.2M676.1 526.47h2.2M674.1 533.9h4.2M676.1 541.33h2.2M676.1 548.77h2.2M676.1 556.2h2.2M676.1 563.63h2.2M674.1 571.07h4.2M676.1 578.5h2.2M676.1 585.93h2.2M676.1 593.37h2.2M676.1 600.8h2.2M674.1 608.23h4.2M676.1 615.67h2.2M676.1 623.1h2.2M676.1 630.53h2.2M676.1 637.97h2.2M674.1 645.4h4.2M683.84 645.4v2M692.16 645.4v2M700.47 645.4v3.6M708.78 645.4v2M717.1 645.4v2M725.41 645.4v2M733.72 645.4v3.6M742.04 645.4v2M750.35 645.4v2M758.66 645.4v2M766.98 645.4v3.6M775.29 645.4v2M783.6 645.4v2M791.92 645.4v2M800.23 645.4v3.6M808.54 645.4v2M816.86 645.4v2" fill="none" stroke="#000" stroke-width="1.15"/>
<path d="M677.8 422.4H822.9M678.3 422.4v-1.8M696.31 422.4v-3.2M714.32 422.4v-1.8M732.34 422.4v-3.2M750.35 422.4v-1.8M768.36 422.4v-3.2M786.38 422.4v-1.8M804.39 422.4v-3.2M822.4 422.4v-1.8" fill="none" stroke="#f00" stroke-width="1.15"/>
<path d="M677.8 665.6H822.9M678.3 665.6v3.0M686.61 665.6v1.8M694.93 665.6v1.8M703.24 665.6v1.8M711.55 665.6v3.0M719.87 665.6v1.8M728.18 665.6v1.8M736.49 665.6v1.8M744.81 665.6v3.0M753.12 665.6v1.8M761.43 665.6v1.8M769.75 665.6v1.8M778.06 665.6v3.0M786.37 665.6v1.8M794.69 665.6v1.8M803 665.6v1.8M811.32 665.6v3.0M819.63 665.6v1.8" fill="none" stroke="#00f" stroke-width="1.15"/>
<text transform="translate(671.75 426.7) scale(0.97 1.04)" class="n e">0</text>
<text transform="translate(671.75 463.87) scale(0.97 1.04)" class="n e">10</text>
<text transform="translate(671.75 501.03) scale(0.97 1.04)" class="n e">20</text>
<text transform="translate(671.75 538.2) scale(0.97 1.04)" class="n e">30</text>
<text transform="translate(671.75 575.37) scale(0.97 1.04)" class="n e">40</text>
<text transform="translate(671.75 612.53) scale(0.97 1.04)" class="n e">50</text>
<text transform="translate(671.75 649.7) scale(0.97 1.04)" class="n e">60</text>
<text transform="translate(696.31 411.5) scale(0.95 1.05)" class="n r">0.2</text>
<text transform="translate(732.34 411.5) scale(0.95 1.05)" class="n r">0.4</text>
<text transform="translate(768.36 411.5) scale(0.95 1.05)" class="n r">0.6</text>
<text transform="translate(804.39 411.5) scale(0.95 1.05)" class="n r">0.8</text>
<text transform="translate(700.47 661.2) scale(0.92 1.06)" class="n">0.3</text>
<text transform="translate(733.72 661.2) scale(0.92 1.06)" class="n">0.6</text>
<text transform="translate(766.98 661.2) scale(0.92 1.06)" class="n">0.9</text>
<text transform="translate(800.23 661.2) scale(0.92 1.06)" class="n">1.2</text>
<text transform="translate(678.3 683.05) scale(0.94 1)" class="n b">0.3</text>
<text transform="translate(711.55 683.05) scale(0.94 1)" class="n b">0.6</text>
<text transform="translate(744.81 683.05) scale(0.94 1)" class="n b">0.9</text>
<text transform="translate(778.06 683.05) scale(0.94 1)" class="n b">1.2</text>
<text transform="translate(811.32 683.05) scale(0.94 1)" class="n b">1.5</text>
<text transform="translate(741.4 397.1) scale(1 1)" class="s" font-size="20">34</text>
<path d="M916.48 425.54 L916.06 429.24 L912.51 432.93 L906.54 436.34 L887.66 440.17 L885.53 443.72 L899.16 447.7 L931.68 451.53 L900.86 455.37 L908.67 459.06 L912.93 462.89 L908.39 466.73 L910.8 470.42 L894.76 473.97 L905.41 477.8 L909.1 481.64 L905.12 485.33 L913.36 489.16 L913.36 492.71 L916.06 496.26 L912.65 500.1 L914.35 503.79 L907.96 507.62 L890.21 511.17 L890.92 515.01 L887.66 518.7 L895.47 522.25 L886.24 526.08 L879.13 529.92 L866.78 533.61 L866.5 537.44 L866.5 540.99 L868.2 544.83 L873.17 548.38 L887.37 551.93 L879.56 555.62 L885.53 559.45" fill="none" stroke="#000" stroke-width="0.6"/>
<path fill="#000" d="M914.78 423.84h3.4v3.4h-3.4zM914.36 427.54h3.4v3.4h-3.4zM910.81 431.23h3.4v3.4h-3.4zM904.84 434.64h3.4v3.4h-3.4zM885.96 438.47h3.4v3.4h-3.4zM883.83 442.02h3.4v3.4h-3.4zM897.46 446h3.4v3.4h-3.4zM929.98 449.83h3.4v3.4h-3.4zM899.16 453.67h3.4v3.4h-3.4zM906.97 457.36h3.4v3.4h-3.4zM911.23 461.19h3.4v3.4h-3.4zM906.69 465.03h3.4v3.4h-3.4zM909.1 468.72h3.4v3.4h-3.4zM893.06 472.27h3.4v3.4h-3.4zM903.71 476.1h3.4v3.4h-3.4zM907.4 479.94h3.4v3.4h-3.4zM903.42 483.63h3.4v3.4h-3.4zM911.66 487.46h3.4v3.4h-3.4zM911.66 491.01h3.4v3.4h-3.4zM914.36 494.56h3.4v3.4h-3.4zM910.95 498.4h3.4v3.4h-3.4zM912.65 502.09h3.4v3.4h-3.4zM906.26 505.92h3.4v3.4h-3.4zM888.51 509.47h3.4v3.4h-3.4zM889.22 513.31h3.4v3.4h-3.4zM885.96 517h3.4v3.4h-3.4zM893.77 520.55h3.4v3.4h-3.4zM884.54 524.38h3.4v3.4h-3.4zM877.43 528.22h3.4v3.4h-3.4zM865.08 531.91h3.4v3.4h-3.4zM864.8 535.74h3.4v3.4h-3.4zM864.8 539.29h3.4v3.4h-3.4zM866.5 543.13h3.4v3.4h-3.4zM871.47 546.68h3.4v3.4h-3.4zM885.67 550.23h3.4v3.4h-3.4zM877.86 553.92h3.4v3.4h-3.4zM883.83 557.75h3.4v3.4h-3.4z"/>
<path d="M906.54 429.24 L914.35 436.34 L927.56 443.72 L921.74 451.53 L912.51 459.06 L913.22 466.73 L916.77 473.97 L938.21 481.64 L913.22 489.16 L919.75 496.26 L924.29 503.79 L965.47 511.17 L927.84 518.7 L953.12 526.08 L972.29 533.61 L987.2 540.99 L943.46 548.38 L954.11 555.62 L933.52 559.45" fill="none" stroke="#00f" stroke-width="0.6" stroke-dasharray="2.2,1.3,0.7,1.3" stroke-opacity="0.55"/>
<path fill="#00f" fill-opacity="0.78" d="M904.84 427.54h3.4v3.4h-3.4zM912.65 434.64h3.4v3.4h-3.4zM925.86 442.02h3.4v3.4h-3.4zM920.04 449.83h3.4v3.4h-3.4zM910.81 457.36h3.4v3.4h-3.4zM911.52 465.03h3.4v3.4h-3.4zM915.07 472.27h3.4v3.4h-3.4zM936.51 479.94h3.4v3.4h-3.4zM911.52 487.46h3.4v3.4h-3.4zM918.05 494.56h3.4v3.4h-3.4zM922.59 502.09h3.4v3.4h-3.4zM963.77 509.47h3.4v3.4h-3.4zM926.14 517h3.4v3.4h-3.4zM951.42 524.38h3.4v3.4h-3.4zM970.59 531.91h3.4v3.4h-3.4zM985.5 539.29h3.4v3.4h-3.4zM941.76 546.68h3.4v3.4h-3.4zM952.41 553.92h3.4v3.4h-3.4zM931.82 557.75h3.4v3.4h-3.4z"/>
<path d="M929.26 429.24 L923.87 436.34 L903.7 443.72 L969.31 451.53 L925.71 459.06 L925.29 466.73 L910.09 473.97 L950.56 481.64 L932.39 489.16 L943.18 496.26 L946.02 503.79 L938.07 511.17 L907.54 518.7 L920.74 526.08 L889.93 533.61 L894.9 540.99 L891.21 548.38 L908.96 555.62 L907.68 559.45" fill="none" stroke="#f00" stroke-width="0.6"/>
<path fill="#f00" d="M927.56 427.54h3.4v3.4h-3.4zM922.17 434.64h3.4v3.4h-3.4zM902 442.02h3.4v3.4h-3.4zM967.61 449.83h3.4v3.4h-3.4zM924.01 457.36h3.4v3.4h-3.4zM923.59 465.03h3.4v3.4h-3.4zM908.39 472.27h3.4v3.4h-3.4zM948.86 479.94h3.4v3.4h-3.4zM930.69 487.46h3.4v3.4h-3.4zM941.48 494.56h3.4v3.4h-3.4zM944.32 502.09h3.4v3.4h-3.4zM936.37 509.47h3.4v3.4h-3.4zM905.84 517h3.4v3.4h-3.4zM919.04 524.38h3.4v3.4h-3.4zM888.23 531.91h3.4v3.4h-3.4zM893.2 539.29h3.4v3.4h-3.4zM889.51 546.68h3.4v3.4h-3.4zM907.26 553.92h3.4v3.4h-3.4zM905.98 557.75h3.4v3.4h-3.4z"/>
<path d="M853.4 421.4V644.7M997 421.4V644.7M852.8 644.7H997.6M849.2 421.4h4.2M851.2 428.84h2.2M851.2 436.29h2.2M851.2 443.73h2.2M851.2 451.17h2.2M849.2 458.62h4.2M851.2 466.06h2.2M851.2 473.5h2.2M851.2 480.95h2.2M851.2 488.39h2.2M849.2 495.83h4.2M851.2 503.28h2.2M851.2 510.72h2.2M851.2 518.16h2.2M851.2 525.61h2.2M849.2 533.05h4.2M851.2 540.49h2.2M851.2 547.94h2.2M851.2 555.38h2.2M851.2 562.82h2.2M849.2 570.27h4.2M851.2 577.71h2.2M851.2 585.15h2.2M851.2 592.6h2.2M851.2 600.04h2.2M849.2 607.48h4.2M851.2 614.93h2.2M851.2 622.37h2.2M851.2 629.81h2.2M851.2 637.26h2.2M849.2 644.7h4.2M858.92 644.7v2M867.21 644.7v2M875.49 644.7v3.6M883.78 644.7v2M892.06 644.7v2M900.35 644.7v2M908.63 644.7v3.6M916.92 644.7v2M925.2 644.7v2M933.48 644.7v2M941.77 644.7v3.6M950.05 644.7v2M958.34 644.7v2M966.62 644.7v2M974.91 644.7v3.6M983.19 644.7v2M991.48 644.7v2" fill="none" stroke="#000" stroke-width="1.15"/>
<path d="M852.9 421.4H997.5M853.4 421.4v-1.8M871.35 421.4v-3.2M889.3 421.4v-1.8M907.25 421.4v-3.2M925.2 421.4v-1.8M943.15 421.4v-3.2M961.1 421.4v-1.8M979.05 421.4v-3.2M997 421.4v-1.8" fill="none" stroke="#f00" stroke-width="1.15"/>
<path d="M852.9 666.2H997.5M853.4 666.2v3.0M861.68 666.2v1.8M869.97 666.2v1.8M878.25 666.2v1.8M886.54 666.2v3.0M894.82 666.2v1.8M903.11 666.2v1.8M911.39 666.2v1.8M919.68 666.2v3.0M927.96 666.2v1.8M936.25 666.2v1.8M944.53 666.2v1.8M952.82 666.2v3.0M961.1 666.2v1.8M969.38 666.2v1.8M977.67 666.2v1.8M985.95 666.2v3.0M994.24 666.2v1.8" fill="none" stroke="#00f" stroke-width="1.15"/>
<text transform="translate(846.85 425.7) scale(0.97 1.04)" class="n e">0</text>
<text transform="translate(846.85 462.92) scale(0.97 1.04)" class="n e">10</text>
<text transform="translate(846.85 500.13) scale(0.97 1.04)" class="n e">20</text>
<text transform="translate(846.85 537.35) scale(0.97 1.04)" class="n e">30</text>
<text transform="translate(846.85 574.57) scale(0.97 1.04)" class="n e">40</text>
<text transform="translate(846.85 611.78) scale(0.97 1.04)" class="n e">50</text>
<text transform="translate(846.85 649) scale(0.97 1.04)" class="n e">60</text>
<text transform="translate(871.35 408.3) scale(0.95 1.05)" class="n r">0.2</text>
<text transform="translate(907.25 408.3) scale(0.95 1.05)" class="n r">0.4</text>
<text transform="translate(943.15 408.3) scale(0.95 1.05)" class="n r">0.6</text>
<text transform="translate(979.05 408.3) scale(0.95 1.05)" class="n r">0.8</text>
<text transform="translate(874.99 662.4) scale(0.92 1.06)" class="n">0.3</text>
<text transform="translate(908.13 662.4) scale(0.92 1.06)" class="n">0.6</text>
<text transform="translate(941.27 662.4) scale(0.92 1.06)" class="n">0.9</text>
<text transform="translate(974.41 662.4) scale(0.92 1.06)" class="n">1.2</text>
<text transform="translate(853.4 684.05) scale(0.94 1)" class="n b">0.3</text>
<text transform="translate(886.54 684.05) scale(0.94 1)" class="n b">0.6</text>
<text transform="translate(919.68 684.05) scale(0.94 1)" class="n b">0.9</text>
<text transform="translate(952.82 684.05) scale(0.94 1)" class="n b">1.2</text>
<text transform="translate(985.95 684.05) scale(0.94 1)" class="n b">1.5</text>
<text transform="translate(916.44 393.7) scale(0.93 1)" class="s" font-size="20">F1</text>
<path d="M1100.78 425.18 L1097.92 428.93 L1088.56 432.56 L1094.95 436.19 L1093.52 439.93 L1096.38 443.79 L1092.97 447.42 L1092.97 451.05 L1095.5 454.8 L1095.28 458.43 L1092.53 462.5 L1088.67 465.91 L1071.06 469.66 L1057.52 473.51 L1039.69 477.14 L1036.38 481 L1035.28 484.52 L1048.93 488.15" fill="none" stroke="#000" stroke-width="0.6"/>
<path fill="#000" d="M1099.08 423.48h3.4v3.4h-3.4zM1096.22 427.23h3.4v3.4h-3.4zM1086.86 430.86h3.4v3.4h-3.4zM1093.25 434.49h3.4v3.4h-3.4zM1091.82 438.23h3.4v3.4h-3.4zM1094.68 442.09h3.4v3.4h-3.4zM1091.27 445.72h3.4v3.4h-3.4zM1091.27 449.35h3.4v3.4h-3.4zM1093.8 453.1h3.4v3.4h-3.4zM1093.58 456.73h3.4v3.4h-3.4zM1090.83 460.8h3.4v3.4h-3.4zM1086.97 464.21h3.4v3.4h-3.4zM1069.36 467.96h3.4v3.4h-3.4zM1055.82 471.81h3.4v3.4h-3.4zM1037.99 475.44h3.4v3.4h-3.4zM1034.68 479.3h3.4v3.4h-3.4zM1033.58 482.82h3.4v3.4h-3.4zM1047.23 486.45h3.4v3.4h-3.4z"/>
<path d="M1076.79 428.93 L1081.41 436.19 L1086.36 443.79 L1092.53 451.05 L1090 458.43 L1091.32 465.91 L1120.27 473.51 L1150.87 481 L1138.65 488.15" fill="none" stroke="#00f" stroke-width="0.6" stroke-dasharray="2.2,1.3,0.7,1.3" stroke-opacity="0.55"/>
<path fill="#00f" fill-opacity="0.78" d="M1075.09 427.23h3.4v3.4h-3.4zM1079.71 434.49h3.4v3.4h-3.4zM1084.66 442.09h3.4v3.4h-3.4zM1090.83 449.35h3.4v3.4h-3.4zM1088.3 456.73h3.4v3.4h-3.4zM1089.62 464.21h3.4v3.4h-3.4zM1118.57 471.81h3.4v3.4h-3.4zM1149.17 479.3h3.4v3.4h-3.4zM1136.95 486.45h3.4v3.4h-3.4z"/>
<path d="M1105.41 428.93 L1107.61 436.19 L1114.54 443.79 L1117.85 451.05 L1117.52 458.43 L1109.81 465.91 L1083.39 473.51 L1052.57 481 L1075.46 488.15" fill="none" stroke="#f00" stroke-width="0.6"/>
<path fill="#f00" d="M1103.71 427.23h3.4v3.4h-3.4zM1105.91 434.49h3.4v3.4h-3.4zM1112.84 442.09h3.4v3.4h-3.4zM1116.15 449.35h3.4v3.4h-3.4zM1115.82 456.73h3.4v3.4h-3.4zM1108.11 464.21h3.4v3.4h-3.4zM1081.69 471.81h3.4v3.4h-3.4zM1050.87 479.3h3.4v3.4h-3.4zM1073.76 486.45h3.4v3.4h-3.4z"/>
<path d="M1029.3 421.1V644.4M1173.3 421.1V644.4M1028.7 644.4H1173.9M1025.1 421.1h4.2M1027.1 428.54h2.2M1027.1 435.99h2.2M1027.1 443.43h2.2M1027.1 450.87h2.2M1025.1 458.32h4.2M1027.1 465.76h2.2M1027.1 473.2h2.2M1027.1 480.65h2.2M1027.1 488.09h2.2M1025.1 495.53h4.2M1027.1 502.98h2.2M1027.1 510.42h2.2M1027.1 517.86h2.2M1027.1 525.31h2.2M1025.1 532.75h4.2M1027.1 540.19h2.2M1027.1 547.64h2.2M1027.1 555.08h2.2M1027.1 562.52h2.2M1025.1 569.97h4.2M1027.1 577.41h2.2M1027.1 584.85h2.2M1027.1 592.3h2.2M1027.1 599.74h2.2M1025.1 607.18h4.2M1027.1 614.63h2.2M1027.1 622.07h2.2M1027.1 629.51h2.2M1027.1 636.96h2.2M1025.1 644.4h4.2M1034.84 644.4v2M1043.15 644.4v2M1051.45 644.4v3.6M1059.76 644.4v2M1068.07 644.4v2M1076.38 644.4v2M1084.68 644.4v3.6M1092.99 644.4v2M1101.3 644.4v2M1109.61 644.4v2M1117.92 644.4v3.6M1126.22 644.4v2M1134.53 644.4v2M1142.84 644.4v2M1151.15 644.4v3.6M1159.45 644.4v2M1167.76 644.4v2" fill="none" stroke="#000" stroke-width="1.15"/>
<path d="M1028.8 421.1H1173.8M1029.3 421.1v-1.8M1047.3 421.1v-3.2M1065.3 421.1v-1.8M1083.3 421.1v-3.2M1101.3 421.1v-1.8M1119.3 421.1v-3.2M1137.3 421.1v-1.8M1155.3 421.1v-3.2M1173.3 421.1v-1.8" fill="none" stroke="#f00" stroke-width="1.15"/>
<path d="M1028.8 665.9H1173.8M1029.3 665.9v3.0M1037.61 665.9v1.8M1045.92 665.9v1.8M1054.22 665.9v1.8M1062.53 665.9v3.0M1070.84 665.9v1.8M1079.15 665.9v1.8M1087.45 665.9v1.8M1095.76 665.9v3.0M1104.07 665.9v1.8M1112.38 665.9v1.8M1120.68 665.9v1.8M1128.99 665.9v3.0M1137.3 665.9v1.8M1145.61 665.9v1.8M1153.92 665.9v1.8M1162.22 665.9v3.0M1170.53 665.9v1.8" fill="none" stroke="#00f" stroke-width="1.15"/>
<text transform="translate(1022.75 425.4) scale(0.97 1.04)" class="n e">0</text>
<text transform="translate(1022.75 462.62) scale(0.97 1.04)" class="n e">10</text>
<text transform="translate(1022.75 499.83) scale(0.97 1.04)" class="n e">20</text>
<text transform="translate(1022.75 537.05) scale(0.97 1.04)" class="n e">30</text>
<text transform="translate(1022.75 574.27) scale(0.97 1.04)" class="n e">40</text>
<text transform="translate(1022.75 611.48) scale(0.97 1.04)" class="n e">50</text>
<text transform="translate(1022.75 648.7) scale(0.97 1.04)" class="n e">60</text>
<text transform="translate(1047.3 408.6) scale(0.95 1.05)" class="n r">0.2</text>
<text transform="translate(1083.3 408.6) scale(0.95 1.05)" class="n r">0.4</text>
<text transform="translate(1119.3 408.6) scale(0.95 1.05)" class="n r">0.6</text>
<text transform="translate(1155.3 408.6) scale(0.95 1.05)" class="n r">0.8</text>
<text transform="translate(1051.25 661.2) scale(0.92 1.06)" class="n">0.3</text>
<text transform="translate(1084.48 661.2) scale(0.92 1.06)" class="n">0.6</text>
<text transform="translate(1117.72 661.2) scale(0.92 1.06)" class="n">0.9</text>
<text transform="translate(1150.95 661.2) scale(0.92 1.06)" class="n">1.2</text>
<text transform="translate(1029.3 683.45) scale(0.94 1)" class="n b">0.3</text>
<text transform="translate(1062.53 683.45) scale(0.94 1)" class="n b">0.6</text>
<text transform="translate(1095.76 683.45) scale(0.94 1)" class="n b">0.9</text>
<text transform="translate(1128.99 683.45) scale(0.94 1)" class="n b">1.2</text>
<text transform="translate(1162.22 683.45) scale(0.94 1)" class="n b">1.5</text>
<text transform="translate(1092.02 394.6) scale(0.97 1)" class="s" font-size="20">F3</text>
<path d="M539.45 741.64 L545.86 745.4 L551.16 749.26 L555.02 752.69 L552.48 756.44 L565.18 760.08 L563.52 763.95 L553.92 767.59 L558.22 771.35 L557.45 774.99 L556.9 778.64 L559.33 782.39 L562.2 786.37 L561.1 789.9 L561.32 793.76 L559.11 797.3 L558 800.94 L573.46 804.81 L562.97 808.45 L560.76 812.2 L558.89 816.07 L561.54 819.71 L565.51 823.36 L565.73 827.11 L564.63 830.76 L564.63 834.4 L563.52 838.27 L561.32 841.8" fill="none" stroke="#000" stroke-width="0.6"/>
<path fill="#000" d="M537.75 739.94h3.4v3.4h-3.4zM544.16 743.7h3.4v3.4h-3.4zM549.46 747.56h3.4v3.4h-3.4zM553.32 750.99h3.4v3.4h-3.4zM550.78 754.74h3.4v3.4h-3.4zM563.48 758.38h3.4v3.4h-3.4zM561.82 762.25h3.4v3.4h-3.4zM552.22 765.89h3.4v3.4h-3.4zM556.52 769.65h3.4v3.4h-3.4zM555.75 773.29h3.4v3.4h-3.4zM555.2 776.94h3.4v3.4h-3.4zM557.63 780.69h3.4v3.4h-3.4zM560.5 784.67h3.4v3.4h-3.4zM559.4 788.2h3.4v3.4h-3.4zM559.62 792.06h3.4v3.4h-3.4zM557.41 795.6h3.4v3.4h-3.4zM556.3 799.24h3.4v3.4h-3.4zM571.76 803.11h3.4v3.4h-3.4zM561.27 806.75h3.4v3.4h-3.4zM559.06 810.5h3.4v3.4h-3.4zM557.19 814.37h3.4v3.4h-3.4zM559.84 818.01h3.4v3.4h-3.4zM563.81 821.66h3.4v3.4h-3.4zM564.03 825.41h3.4v3.4h-3.4zM562.93 829.06h3.4v3.4h-3.4zM562.93 832.7h3.4v3.4h-3.4zM561.82 836.57h3.4v3.4h-3.4zM559.62 840.1h3.4v3.4h-3.4z"/>
<path d="M591.46 741.64 L592.46 749.26 L588.59 756.44 L589.14 763.95 L583.4 771.35 L580.09 778.64 L580.97 786.37 L579.76 793.76 L580.97 800.94 L581.52 808.45 L579.76 816.07 L586.71 823.36 L577.66 830.76 L580.09 838.27 L591.13 841.8" fill="none" stroke="#00f" stroke-width="0.6" stroke-dasharray="2.2,1.3,0.7,1.3" stroke-opacity="0.55"/>
<path fill="#00f" fill-opacity="0.78" d="M589.76 739.94h3.4v3.4h-3.4zM590.76 747.56h3.4v3.4h-3.4zM586.89 754.74h3.4v3.4h-3.4zM587.44 762.25h3.4v3.4h-3.4zM581.7 769.65h3.4v3.4h-3.4zM578.39 776.94h3.4v3.4h-3.4zM579.27 784.67h3.4v3.4h-3.4zM578.06 792.06h3.4v3.4h-3.4zM579.27 799.24h3.4v3.4h-3.4zM579.82 806.75h3.4v3.4h-3.4zM578.06 814.37h3.4v3.4h-3.4zM585.01 821.66h3.4v3.4h-3.4zM575.96 829.06h3.4v3.4h-3.4zM578.39 836.57h3.4v3.4h-3.4zM589.43 840.1h3.4v3.4h-3.4z"/>
<path d="M568.49 741.64 L590.58 749.26 L589.25 756.44 L609.02 763.95 L594.77 771.35 L589.25 778.64 L598.86 786.37 L595.33 793.76 L592.01 800.94 L600.74 808.45 L592.01 816.07 L610.23 823.36 L598.86 830.76 L599.74 838.27 L607.14 841.8" fill="none" stroke="#f00" stroke-width="0.6"/>
<path fill="#f00" d="M566.79 739.94h3.4v3.4h-3.4zM588.88 747.56h3.4v3.4h-3.4zM587.55 754.74h3.4v3.4h-3.4zM607.32 762.25h3.4v3.4h-3.4zM593.07 769.65h3.4v3.4h-3.4zM587.55 776.94h3.4v3.4h-3.4zM597.16 784.67h3.4v3.4h-3.4zM593.63 792.06h3.4v3.4h-3.4zM590.31 799.24h3.4v3.4h-3.4zM599.04 806.75h3.4v3.4h-3.4zM590.31 814.37h3.4v3.4h-3.4zM608.53 821.66h3.4v3.4h-3.4zM597.16 829.06h3.4v3.4h-3.4zM598.04 836.57h3.4v3.4h-3.4zM605.44 840.1h3.4v3.4h-3.4z"/>
<path d="M504 737.5V960.2M647.4 737.5V960.2M503.4 960.2H648M499.8 737.5h4.2M501.8 744.92h2.2M501.8 752.35h2.2M501.8 759.77h2.2M501.8 767.19h2.2M499.8 774.62h4.2M501.8 782.04h2.2M501.8 789.46h2.2M501.8 796.89h2.2M501.8 804.31h2.2M499.8 811.73h4.2M501.8 819.16h2.2M501.8 826.58h2.2M501.8 834h2.2M501.8 841.43h2.2M499.8 848.85h4.2M501.8 856.27h2.2M501.8 863.7h2.2M501.8 871.12h2.2M501.8 878.54h2.2M499.8 885.97h4.2M501.8 893.39h2.2M501.8 900.81h2.2M501.8 908.24h2.2M501.8 915.66h2.2M499.8 923.08h4.2M501.8 930.51h2.2M501.8 937.93h2.2M501.8 945.35h2.2M501.8 952.78h2.2M499.8 960.2h4.2M509.52 960.2v2M517.79 960.2v2M526.06 960.2v3.6M534.33 960.2v2M542.61 960.2v2M550.88 960.2v2M559.15 960.2v3.6M567.43 960.2v2M575.7 960.2v2M583.97 960.2v2M592.25 960.2v3.6M600.52 960.2v2M608.79 960.2v2M617.07 960.2v2M625.34 960.2v3.6M633.61 960.2v2M641.88 960.2v2" fill="none" stroke="#000" stroke-width="1.15"/>
<path d="M503.5 737.5H647.9M504 737.5v-1.8M521.92 737.5v-3.2M539.85 737.5v-1.8M557.77 737.5v-3.2M575.7 737.5v-1.8M593.62 737.5v-3.2M611.55 737.5v-1.8M629.48 737.5v-3.2M647.4 737.5v-1.8" fill="none" stroke="#f00" stroke-width="1.15"/>
<path d="M503.5 982.3H647.9M504 982.3v3.0M512.27 982.3v1.8M520.55 982.3v1.8M528.82 982.3v1.8M537.09 982.3v3.0M545.37 982.3v1.8M553.64 982.3v1.8M561.91 982.3v1.8M570.18 982.3v3.0M578.46 982.3v1.8M586.73 982.3v1.8M595 982.3v1.8M603.28 982.3v3.0M611.55 982.3v1.8M619.82 982.3v1.8M628.1 982.3v1.8M636.37 982.3v3.0M644.64 982.3v1.8" fill="none" stroke="#00f" stroke-width="1.15"/>
<text transform="translate(497.45 741.8) scale(0.97 1.04)" class="n e">0</text>
<text transform="translate(497.45 778.92) scale(0.97 1.04)" class="n e">10</text>
<text transform="translate(497.45 816.03) scale(0.97 1.04)" class="n e">20</text>
<text transform="translate(497.45 853.15) scale(0.97 1.04)" class="n e">30</text>
<text transform="translate(497.45 890.27) scale(0.97 1.04)" class="n e">40</text>
<text transform="translate(497.45 927.38) scale(0.97 1.04)" class="n e">50</text>
<text transform="translate(497.45 964.5) scale(0.97 1.04)" class="n e">60</text>
<text transform="translate(521.92 724.2) scale(0.95 1.05)" class="n r">0.2</text>
<text transform="translate(557.77 724.2) scale(0.95 1.05)" class="n r">0.4</text>
<text transform="translate(593.62 724.2) scale(0.95 1.05)" class="n r">0.6</text>
<text transform="translate(629.48 724.2) scale(0.95 1.05)" class="n r">0.8</text>
<text transform="translate(525.86 977.4) scale(0.92 1.06)" class="n">0.3</text>
<text transform="translate(558.95 977.4) scale(0.92 1.06)" class="n">0.6</text>
<text transform="translate(592.05 977.4) scale(0.92 1.06)" class="n">0.9</text>
<text transform="translate(625.14 977.4) scale(0.92 1.06)" class="n">1.2</text>
<text transform="translate(504 1000.35) scale(0.94 1)" class="n b">0.3</text>
<text transform="translate(537.09 1000.35) scale(0.94 1)" class="n b">0.6</text>
<text transform="translate(570.18 1000.35) scale(0.94 1)" class="n b">0.9</text>
<text transform="translate(603.28 1000.35) scale(0.94 1)" class="n b">1.2</text>
<text transform="translate(636.37 1000.35) scale(0.94 1)" class="n b">1.5</text>
<text transform="translate(561.19 712.7) scale(1.01 1)" class="s" font-size="20">T10</text>
<text transform="translate(475.3 894.09) rotate(-90) scale(1.04 1)" class="s" font-size="19">Depth (cm)</text>
<path d="M723.17 742.09 L729.57 745.73 L730.35 749.37 L718.2 753.13 L718.53 756.77 L719.86 760.42 L726.7 764.28 L722.07 768.04 L728.91 771.68 L717.65 775.54 L705.83 779.19 L719.3 782.72 L717.65 786.59 L743.38 790.12 L745.59 793.98 L742.49 797.63 L742.83 801.27 L753.76 805.03 L751.66 808.67 L731.78 812.54 L736.97 816.18 L727.26 819.93 L719.86 823.58 L721.84 827.22 L727.81 831.31 L725.16 835.17 L723.72 838.49 L689.13 842.2 L720.61 845.83 L718.08 849.69 L717.53 853.43 L721.93 857.28 L727.44 860.92 L729.09 864.44 L730.74 868.4 L734.92 871.92 L736.24 875.78 L725.24 879.41 L731.07 883.26 L731.29 887.12 L734.92 890.64 L732.94 894.49 L740.87 898.12 L728.54 901.87 L729.64 905.72 L726.12 909.57 L732.39 913.21 L732.94 916.84 L730.19 920.58" fill="none" stroke="#000" stroke-width="0.6"/>
<path fill="#000" d="M721.47 740.39h3.4v3.4h-3.4zM727.87 744.03h3.4v3.4h-3.4zM728.65 747.67h3.4v3.4h-3.4zM716.5 751.43h3.4v3.4h-3.4zM716.83 755.07h3.4v3.4h-3.4zM718.16 758.72h3.4v3.4h-3.4zM725 762.58h3.4v3.4h-3.4zM720.37 766.34h3.4v3.4h-3.4zM727.21 769.98h3.4v3.4h-3.4zM715.95 773.84h3.4v3.4h-3.4zM704.13 777.49h3.4v3.4h-3.4zM717.6 781.02h3.4v3.4h-3.4zM715.95 784.89h3.4v3.4h-3.4zM741.68 788.42h3.4v3.4h-3.4zM743.89 792.28h3.4v3.4h-3.4zM740.79 795.93h3.4v3.4h-3.4zM741.13 799.57h3.4v3.4h-3.4zM752.06 803.33h3.4v3.4h-3.4zM749.96 806.97h3.4v3.4h-3.4zM730.08 810.84h3.4v3.4h-3.4zM735.27 814.48h3.4v3.4h-3.4zM725.56 818.23h3.4v3.4h-3.4zM718.16 821.88h3.4v3.4h-3.4zM720.14 825.52h3.4v3.4h-3.4zM726.11 829.61h3.4v3.4h-3.4zM723.46 833.47h3.4v3.4h-3.4zM722.02 836.79h3.4v3.4h-3.4zM687.43 840.5h3.4v3.4h-3.4zM718.91 844.13h3.4v3.4h-3.4zM716.38 847.99h3.4v3.4h-3.4zM715.83 851.73h3.4v3.4h-3.4zM720.23 855.58h3.4v3.4h-3.4zM725.74 859.22h3.4v3.4h-3.4zM727.39 862.74h3.4v3.4h-3.4zM729.04 866.7h3.4v3.4h-3.4zM733.22 870.22h3.4v3.4h-3.4zM734.54 874.08h3.4v3.4h-3.4zM723.54 877.71h3.4v3.4h-3.4zM729.37 881.56h3.4v3.4h-3.4zM729.59 885.42h3.4v3.4h-3.4zM733.22 888.94h3.4v3.4h-3.4zM731.24 892.79h3.4v3.4h-3.4zM739.17 896.42h3.4v3.4h-3.4zM726.84 900.17h3.4v3.4h-3.4zM727.94 904.02h3.4v3.4h-3.4zM724.42 907.87h3.4v3.4h-3.4zM730.69 911.51h3.4v3.4h-3.4zM731.24 915.14h3.4v3.4h-3.4zM728.49 918.88h3.4v3.4h-3.4z"/>
<path d="M732 745.73 L731.45 753.13 L745.25 760.42 L743.82 768.04 L747.13 775.54 L754.09 782.72 L743.05 790.12 L741.94 793.98 L748.35 801.27 L747.46 808.67 L744.7 816.18 L761.27 823.58 L750.55 835.17 L766.3 845.83 L750.77 857.28 L743.73 868.4 L747.8 879.41 L746.7 890.64 L750 901.87 L747.8 913.21 L750.33 920.58" fill="none" stroke="#00f" stroke-width="0.6" stroke-dasharray="2.2,1.3,0.7,1.3" stroke-opacity="0.55"/>
<path fill="#00f" fill-opacity="0.78" d="M730.3 744.03h3.4v3.4h-3.4zM729.75 751.43h3.4v3.4h-3.4zM743.55 758.72h3.4v3.4h-3.4zM742.12 766.34h3.4v3.4h-3.4zM745.43 773.84h3.4v3.4h-3.4zM752.39 781.02h3.4v3.4h-3.4zM741.35 788.42h3.4v3.4h-3.4zM740.24 792.28h3.4v3.4h-3.4zM746.65 799.57h3.4v3.4h-3.4zM745.76 806.97h3.4v3.4h-3.4zM743 814.48h3.4v3.4h-3.4zM759.57 821.88h3.4v3.4h-3.4zM748.85 833.47h3.4v3.4h-3.4zM764.6 844.13h3.4v3.4h-3.4zM749.07 855.58h3.4v3.4h-3.4zM742.03 866.7h3.4v3.4h-3.4zM746.1 877.71h3.4v3.4h-3.4zM745 888.94h3.4v3.4h-3.4zM748.3 900.17h3.4v3.4h-3.4zM746.1 911.51h3.4v3.4h-3.4zM748.63 918.88h3.4v3.4h-3.4z"/>
<path d="M740.29 745.73 L724.83 753.13 L738.08 760.42 L739.73 768.04 L735.87 775.54 L743.6 782.72 L770.65 790.12 L771.98 793.98 L775.95 801.27 L787.77 808.67 L762.92 816.18 L750.44 823.58 L750.22 835.17 L755.29 845.83 L745.38 857.28 L752.54 868.4 L748.13 879.41 L761.56 890.64 L755.51 901.87 L759.03 913.21 L757.93 920.58" fill="none" stroke="#f00" stroke-width="0.6"/>
<path fill="#f00" d="M738.59 744.03h3.4v3.4h-3.4zM723.13 751.43h3.4v3.4h-3.4zM736.38 758.72h3.4v3.4h-3.4zM738.03 766.34h3.4v3.4h-3.4zM734.17 773.84h3.4v3.4h-3.4zM741.9 781.02h3.4v3.4h-3.4zM768.95 788.42h3.4v3.4h-3.4zM770.28 792.28h3.4v3.4h-3.4zM774.25 799.57h3.4v3.4h-3.4zM786.07 806.97h3.4v3.4h-3.4zM761.22 814.48h3.4v3.4h-3.4zM748.74 821.88h3.4v3.4h-3.4zM748.52 833.47h3.4v3.4h-3.4zM753.59 844.13h3.4v3.4h-3.4zM743.68 855.58h3.4v3.4h-3.4zM750.84 866.7h3.4v3.4h-3.4zM746.43 877.71h3.4v3.4h-3.4zM759.86 888.94h3.4v3.4h-3.4zM753.81 900.17h3.4v3.4h-3.4zM757.33 911.51h3.4v3.4h-3.4zM756.23 918.88h3.4v3.4h-3.4z"/>
<path d="M678.3 738.3V961.3M821.9 738.3V961.3M677.7 961.3H822.5M674.1 738.3h4.2M676.1 745.73h2.2M676.1 753.17h2.2M676.1 760.6h2.2M676.1 768.03h2.2M674.1 775.47h4.2M676.1 782.9h2.2M676.1 790.33h2.2M676.1 797.77h2.2M676.1 805.2h2.2M674.1 812.63h4.2M676.1 820.07h2.2M676.1 827.5h2.2M676.1 834.93h2.2M676.1 842.37h2.2M674.1 849.8h4.2M676.1 857.23h2.2M676.1 864.67h2.2M676.1 872.1h2.2M676.1 879.53h2.2M674.1 886.97h4.2M676.1 894.4h2.2M676.1 901.83h2.2M676.1 909.27h2.2M676.1 916.7h2.2M674.1 924.13h4.2M676.1 931.57h2.2M676.1 939h2.2M676.1 946.43h2.2M676.1 953.87h2.2M674.1 961.3h4.2M683.82 961.3v2M692.11 961.3v2M700.39 961.3v3.6M708.68 961.3v2M716.96 961.3v2M725.25 961.3v2M733.53 961.3v3.6M741.82 961.3v2M750.1 961.3v2M758.38 961.3v2M766.67 961.3v3.6M774.95 961.3v2M783.24 961.3v2M791.52 961.3v2M799.81 961.3v3.6M808.09 961.3v2M816.38 961.3v2" fill="none" stroke="#000" stroke-width="1.15"/>
<path d="M677.8 738.3H822.4M678.3 738.3v-1.8M696.25 738.3v-3.2M714.2 738.3v-1.8M732.15 738.3v-3.2M750.1 738.3v-1.8M768.05 738.3v-3.2M786 738.3v-1.8M803.95 738.3v-3.2M821.9 738.3v-1.8" fill="none" stroke="#f00" stroke-width="1.15"/>
<path d="M677.8 981.5H822.4M678.3 981.5v3.0M686.58 981.5v1.8M694.87 981.5v1.8M703.15 981.5v1.8M711.44 981.5v3.0M719.72 981.5v1.8M728.01 981.5v1.8M736.29 981.5v1.8M744.58 981.5v3.0M752.86 981.5v1.8M761.15 981.5v1.8M769.43 981.5v1.8M777.72 981.5v3.0M786 981.5v1.8M794.28 981.5v1.8M802.57 981.5v1.8M810.85 981.5v3.0M819.14 981.5v1.8" fill="none" stroke="#00f" stroke-width="1.15"/>
<text transform="translate(671.75 742.6) scale(0.97 1.04)" class="n e">0</text>
<text transform="translate(671.75 779.77) scale(0.97 1.04)" class="n e">10</text>
<text transform="translate(671.75 816.93) scale(0.97 1.04)" class="n e">20</text>
<text transform="translate(671.75 854.1) scale(0.97 1.04)" class="n e">30</text>
<text transform="translate(671.75 891.27) scale(0.97 1.04)" class="n e">40</text>
<text transform="translate(671.75 928.43) scale(0.97 1.04)" class="n e">50</text>
<text transform="translate(671.75 965.6) scale(0.97 1.04)" class="n e">60</text>
<text transform="translate(696.25 726.7) scale(0.95 1.05)" class="n r">0.2</text>
<text transform="translate(732.15 726.7) scale(0.95 1.05)" class="n r">0.4</text>
<text transform="translate(768.05 726.7) scale(0.95 1.05)" class="n r">0.6</text>
<text transform="translate(803.95 726.7) scale(0.95 1.05)" class="n r">0.8</text>
<text transform="translate(700.39 977.8) scale(0.92 1.06)" class="n">0.3</text>
<text transform="translate(733.53 977.8) scale(0.92 1.06)" class="n">0.6</text>
<text transform="translate(766.67 977.8) scale(0.92 1.06)" class="n">0.9</text>
<text transform="translate(799.81 977.8) scale(0.92 1.06)" class="n">1.2</text>
<text transform="translate(678.3 999.75) scale(0.94 1)" class="n b">0.3</text>
<text transform="translate(711.44 999.75) scale(0.94 1)" class="n b">0.6</text>
<text transform="translate(744.58 999.75) scale(0.94 1)" class="n b">0.9</text>
<text transform="translate(777.72 999.75) scale(0.94 1)" class="n b">1.2</text>
<text transform="translate(810.85 999.75) scale(0.94 1)" class="n b">1.5</text>
<text transform="translate(729.31 711.8) scale(0.99 1)" class="s" font-size="20">42-A</text>
<path d="M922.46 746.28 L923.9 749.93 L925.22 753.79 L922.46 757.55 L922.24 761.19 L920.25 764.83 L919.7 768.59 L918.6 772.45 L917.27 776.1 L923.35 779.96 L923.02 783.49 L920.48 787.36 L920.81 791 L918.6 794.87 L920.03 798.51 L920.25 802.27 L917.49 805.91 L916.72 809.55 L916.17 813.31 L916.06 816.95 L919.15 820.82 L916.39 824.35 L922.24 828.33 L916.72 832.08 L915.84 835.73 L917.27 839.37 L914 843.08 L912.34 846.83 L915.1 850.68 L919.5 854.31 L916.42 857.94 L915.98 861.69 L911.46 865.32 L908.49 869.17 L908.71 872.8 L910.14 876.55 L910.69 880.18 L911.02 884.03 L913.23 887.67 L913.45 891.41 L915.1 895.04 L915.65 898.67 L912.34 902.53 L913.45 906.27 L910.69 910.12 L909.59 913.76 L911.24 917.39 L909.59 921.13 L908.71 924.76 L908.71 928.62" fill="none" stroke="#000" stroke-width="0.6"/>
<path fill="#000" d="M920.76 744.58h3.4v3.4h-3.4zM922.2 748.23h3.4v3.4h-3.4zM923.52 752.09h3.4v3.4h-3.4zM920.76 755.85h3.4v3.4h-3.4zM920.54 759.49h3.4v3.4h-3.4zM918.55 763.13h3.4v3.4h-3.4zM918 766.89h3.4v3.4h-3.4zM916.9 770.75h3.4v3.4h-3.4zM915.57 774.4h3.4v3.4h-3.4zM921.65 778.26h3.4v3.4h-3.4zM921.32 781.79h3.4v3.4h-3.4zM918.78 785.66h3.4v3.4h-3.4zM919.11 789.3h3.4v3.4h-3.4zM916.9 793.17h3.4v3.4h-3.4zM918.33 796.81h3.4v3.4h-3.4zM918.55 800.57h3.4v3.4h-3.4zM915.79 804.21h3.4v3.4h-3.4zM915.02 807.85h3.4v3.4h-3.4zM914.47 811.61h3.4v3.4h-3.4zM914.36 815.25h3.4v3.4h-3.4zM917.45 819.12h3.4v3.4h-3.4zM914.69 822.65h3.4v3.4h-3.4zM920.54 826.63h3.4v3.4h-3.4zM915.02 830.38h3.4v3.4h-3.4zM914.14 834.03h3.4v3.4h-3.4zM915.57 837.67h3.4v3.4h-3.4zM912.3 841.38h3.4v3.4h-3.4zM910.64 845.13h3.4v3.4h-3.4zM913.4 848.98h3.4v3.4h-3.4zM917.8 852.61h3.4v3.4h-3.4zM914.72 856.24h3.4v3.4h-3.4zM914.28 859.99h3.4v3.4h-3.4zM909.76 863.62h3.4v3.4h-3.4zM906.79 867.47h3.4v3.4h-3.4zM907.01 871.1h3.4v3.4h-3.4zM908.44 874.85h3.4v3.4h-3.4zM908.99 878.48h3.4v3.4h-3.4zM909.32 882.33h3.4v3.4h-3.4zM911.53 885.97h3.4v3.4h-3.4zM911.75 889.71h3.4v3.4h-3.4zM913.4 893.34h3.4v3.4h-3.4zM913.95 896.97h3.4v3.4h-3.4zM910.64 900.83h3.4v3.4h-3.4zM911.75 904.57h3.4v3.4h-3.4zM908.99 908.42h3.4v3.4h-3.4zM907.89 912.06h3.4v3.4h-3.4zM909.54 915.69h3.4v3.4h-3.4zM907.89 919.43h3.4v3.4h-3.4zM907.01 923.06h3.4v3.4h-3.4zM907.01 926.92h3.4v3.4h-3.4z"/>
<path d="M906.12 746.28 L904.24 753.79 L904.24 761.19 L912.75 768.59 L916.39 772.45 L911.64 776.1 L911.2 783.49 L911.64 791 L910.1 798.51 L909.76 805.91 L913.08 813.31 L917.49 820.82 L913.08 828.33 L915.84 835.73 L911.46 843.08 L909.81 850.68 L909.59 857.94 L917.3 865.32 L916.2 872.8 L917.63 880.18 L921.15 887.67 L912.12 895.04 L914.33 902.53 L915.43 910.12 L916.53 917.39 L917.3 924.76 L912.56 928.62" fill="none" stroke="#00f" stroke-width="0.6" stroke-dasharray="2.2,1.3,0.7,1.3" stroke-opacity="0.55"/>
<path fill="#00f" fill-opacity="0.78" d="M904.42 744.58h3.4v3.4h-3.4zM902.54 752.09h3.4v3.4h-3.4zM902.54 759.49h3.4v3.4h-3.4zM911.05 766.89h3.4v3.4h-3.4zM914.69 770.75h3.4v3.4h-3.4zM909.94 774.4h3.4v3.4h-3.4zM909.5 781.79h3.4v3.4h-3.4zM909.94 789.3h3.4v3.4h-3.4zM908.4 796.81h3.4v3.4h-3.4zM908.06 804.21h3.4v3.4h-3.4zM911.38 811.61h3.4v3.4h-3.4zM915.79 819.12h3.4v3.4h-3.4zM911.38 826.63h3.4v3.4h-3.4zM914.14 834.03h3.4v3.4h-3.4zM909.76 841.38h3.4v3.4h-3.4zM908.11 848.98h3.4v3.4h-3.4zM907.89 856.24h3.4v3.4h-3.4zM915.6 863.62h3.4v3.4h-3.4zM914.5 871.1h3.4v3.4h-3.4zM915.93 878.48h3.4v3.4h-3.4zM919.45 885.97h3.4v3.4h-3.4zM910.42 893.34h3.4v3.4h-3.4zM912.63 900.83h3.4v3.4h-3.4zM913.73 908.42h3.4v3.4h-3.4zM914.83 915.69h3.4v3.4h-3.4zM915.6 923.06h3.4v3.4h-3.4zM910.86 926.92h3.4v3.4h-3.4z"/>
<path d="M937.59 746.28 L938.47 753.79 L935.16 761.19 L941.23 768.59 L943.44 772.45 L937.37 776.1 L944.33 783.49 L942.56 791 L939.03 798.51 L935.16 805.91 L937.04 813.31 L946.2 820.82 L945.43 828.33 L939.58 835.73 L931.83 843.08 L931.94 850.68 L933.26 857.94 L934.69 865.32 L929.19 872.8 L934.58 880.18 L941.52 887.67 L934.58 895.04 L933.81 902.53 L932.38 910.12 L934.14 917.39 L931.39 924.76 L926.66 928.62" fill="none" stroke="#f00" stroke-width="0.6"/>
<path fill="#f00" d="M935.89 744.58h3.4v3.4h-3.4zM936.77 752.09h3.4v3.4h-3.4zM933.46 759.49h3.4v3.4h-3.4zM939.53 766.89h3.4v3.4h-3.4zM941.74 770.75h3.4v3.4h-3.4zM935.67 774.4h3.4v3.4h-3.4zM942.63 781.79h3.4v3.4h-3.4zM940.86 789.3h3.4v3.4h-3.4zM937.33 796.81h3.4v3.4h-3.4zM933.46 804.21h3.4v3.4h-3.4zM935.34 811.61h3.4v3.4h-3.4zM944.5 819.12h3.4v3.4h-3.4zM943.73 826.63h3.4v3.4h-3.4zM937.88 834.03h3.4v3.4h-3.4zM930.13 841.38h3.4v3.4h-3.4zM930.24 848.98h3.4v3.4h-3.4zM931.56 856.24h3.4v3.4h-3.4zM932.99 863.62h3.4v3.4h-3.4zM927.49 871.1h3.4v3.4h-3.4zM932.88 878.48h3.4v3.4h-3.4zM939.82 885.97h3.4v3.4h-3.4zM932.88 893.34h3.4v3.4h-3.4zM932.11 900.83h3.4v3.4h-3.4zM930.68 908.42h3.4v3.4h-3.4zM932.44 915.69h3.4v3.4h-3.4zM929.69 923.06h3.4v3.4h-3.4zM924.96 926.92h3.4v3.4h-3.4z"/>
<path d="M853 738.4V961.9M996.5 738.4V961.9M852.4 961.9H997.1M848.8 738.4h4.2M850.8 745.85h2.2M850.8 753.3h2.2M850.8 760.75h2.2M850.8 768.2h2.2M848.8 775.65h4.2M850.8 783.1h2.2M850.8 790.55h2.2M850.8 798h2.2M850.8 805.45h2.2M848.8 812.9h4.2M850.8 820.35h2.2M850.8 827.8h2.2M850.8 835.25h2.2M850.8 842.7h2.2M848.8 850.15h4.2M850.8 857.6h2.2M850.8 865.05h2.2M850.8 872.5h2.2M850.8 879.95h2.2M848.8 887.4h4.2M850.8 894.85h2.2M850.8 902.3h2.2M850.8 909.75h2.2M850.8 917.2h2.2M848.8 924.65h4.2M850.8 932.1h2.2M850.8 939.55h2.2M850.8 947h2.2M850.8 954.45h2.2M848.8 961.9h4.2M858.52 961.9v2M866.8 961.9v2M875.08 961.9v3.6M883.36 961.9v2M891.63 961.9v2M899.91 961.9v2M908.19 961.9v3.6M916.47 961.9v2M924.75 961.9v2M933.03 961.9v2M941.31 961.9v3.6M949.59 961.9v2M957.87 961.9v2M966.14 961.9v2M974.42 961.9v3.6M982.7 961.9v2M990.98 961.9v2" fill="none" stroke="#000" stroke-width="1.15"/>
<path d="M852.5 738.4H997M853 738.4v-1.8M870.94 738.4v-3.2M888.88 738.4v-1.8M906.81 738.4v-3.2M924.75 738.4v-1.8M942.69 738.4v-3.2M960.62 738.4v-1.8M978.56 738.4v-3.2M996.5 738.4v-1.8" fill="none" stroke="#f00" stroke-width="1.15"/>
<path d="M852.5 981.5H997M853 981.5v3.0M861.28 981.5v1.8M869.56 981.5v1.8M877.84 981.5v1.8M886.12 981.5v3.0M894.39 981.5v1.8M902.67 981.5v1.8M910.95 981.5v1.8M919.23 981.5v3.0M927.51 981.5v1.8M935.79 981.5v1.8M944.07 981.5v1.8M952.35 981.5v3.0M960.62 981.5v1.8M968.9 981.5v1.8M977.18 981.5v1.8M985.46 981.5v3.0M993.74 981.5v1.8" fill="none" stroke="#00f" stroke-width="1.15"/>
<text transform="translate(846.45 742.7) scale(0.97 1.04)" class="n e">0</text>
<text transform="translate(846.45 779.95) scale(0.97 1.04)" class="n e">10</text>
<text transform="translate(846.45 817.2) scale(0.97 1.04)" class="n e">20</text>
<text transform="translate(846.45 854.45) scale(0.97 1.04)" class="n e">30</text>
<text transform="translate(846.45 891.7) scale(0.97 1.04)" class="n e">40</text>
<text transform="translate(846.45 928.95) scale(0.97 1.04)" class="n e">50</text>
<text transform="translate(846.45 966.2) scale(0.97 1.04)" class="n e">60</text>
<text transform="translate(870.94 725.1) scale(0.95 1.05)" class="n r">0.2</text>
<text transform="translate(906.81 725.1) scale(0.95 1.05)" class="n r">0.4</text>
<text transform="translate(942.69 725.1) scale(0.95 1.05)" class="n r">0.6</text>
<text transform="translate(978.56 725.1) scale(0.95 1.05)" class="n r">0.8</text>
<text transform="translate(874.68 977.4) scale(0.92 1.06)" class="n">0.3</text>
<text transform="translate(907.79 977.4) scale(0.92 1.06)" class="n">0.6</text>
<text transform="translate(940.91 977.4) scale(0.92 1.06)" class="n">0.9</text>
<text transform="translate(974.02 977.4) scale(0.92 1.06)" class="n">1.2</text>
<text transform="translate(853 998.85) scale(0.94 1)" class="n b">0.3</text>
<text transform="translate(886.12 998.85) scale(0.94 1)" class="n b">0.6</text>
<text transform="translate(919.23 998.85) scale(0.94 1)" class="n b">0.9</text>
<text transform="translate(952.35 998.85) scale(0.94 1)" class="n b">1.2</text>
<text transform="translate(985.46 998.85) scale(0.94 1)" class="n b">1.5</text>
<text transform="translate(899.81 712.7) scale(0.99 1)" class="s" font-size="20">H3-A</text>
<text transform="translate(48.18 35.4) scale(0.96 1)" class="L" font-size="30.1" style="stroke:#000;stroke-width:0.45">A</text>
<text transform="translate(435.69 35.3) scale(0.93 1)" class="L" font-size="30.1" style="stroke:#000;stroke-width:0.45">B</text>
<text transform="translate(129.57 35) scale(0.98 1)" class="s" font-size="32.5">South Yellow Sea</text>
<text transform="translate(735.71 33.1) scale(1.01 1)" class="s" font-size="31">Min-Zhe belt</text>
<text transform="translate(605.17 47.1) scale(1.02 1)" class="s" font-size="27">North</text>
<text transform="translate(980.37 46.5) scale(1.04 1)" class="s" font-size="27">South</text>
<path d="M600 55.7H1056" stroke="#777" stroke-width="1.3"/>
<path d="M582.2 55.9L603.5 50.6V61.2z M1074.6 55.9L1053.2 50.5V61.2z" fill="#000"/>
<path d="M38.6 40V985" stroke="#333" stroke-width="1.25"/>
<path d="M39 22.3L34.1 43.7H44.7z M38.5 1004.6L33.3 982.2H44.3z" fill="#000"/>
<text transform="translate(29.6 237.64) rotate(-90) scale(1.02 1)" class="s" font-size="27.5">North</text>
<text transform="translate(27.4 888.6) rotate(-90) scale(1.01 1)" class="s" font-size="27.5">South</text>
<path d="M1259.5 50V521" stroke="#000" stroke-width="1.1"/><path d="M1258.9 521V990" stroke="#808080" stroke-width="1.7"/>
<path d="M1259.6 34.8L1254.6 56.6H1265.3z M1258.6 1006.5L1253.2 983.5H1264.1z" fill="#000"/>
<text transform="translate(1263.6 174.86) rotate(90) scale(1.01 1)" class="s" font-size="27.5">North</text>
<text transform="translate(1263 810.79) rotate(90) scale(1.01 1)" class="s" font-size="27.5">South</text>
<path d="M997 835.4H1041" stroke="#f00" stroke-width="0.8"/><path d="M1017.3 833.7h3.4v3.4h-3.4z" fill="#f00"/>
<text transform="translate(1046.42 841.9) scale(0.98 1)" class="s" font-size="20" style="fill:#f00">Carbon stocks (t ha</text>
<text transform="translate(1198.06 833.6) scale(0.94 1.06)" class="s" font-size="13.4" style="fill:#f00">-1</text>
<text transform="translate(1208.67 841.38) scale(1.11 0.99)" class="s" font-size="25" style="fill:#f00">)</text>
<path d="M998 860.4H1043" stroke="#000" stroke-width="0.8"/><path d="M1019.3 858.7h3.4v3.4h-3.4z" fill="#000"/>
<text transform="translate(1048.11 866.9) scale(0.99 1)" class="s" font-size="20">TOC (%)</text>
<path d="M998 883.4H1043" stroke="#4848ff" stroke-width="0.8" stroke-dasharray="3,1.5,1,1.5"/><path d="M1018.3 881.7h3.4v3.4h-3.4z" fill="#00f" fill-opacity="0.78"/>
<text transform="translate(1047.92 890.3) scale(0.97 1)" class="s" font-size="20" style="fill:#00f">Dry bulk density (g cm</text>
<text transform="translate(1228.15 882.86) scale(0.95 1.07)" class="s" font-size="13.4" style="fill:#00f">-3</text>
<text transform="translate(1238.52 889.71) scale(1.03 0.84)" class="s" font-size="22" style="fill:#00f">)</text>
</svg>
</body></html>
